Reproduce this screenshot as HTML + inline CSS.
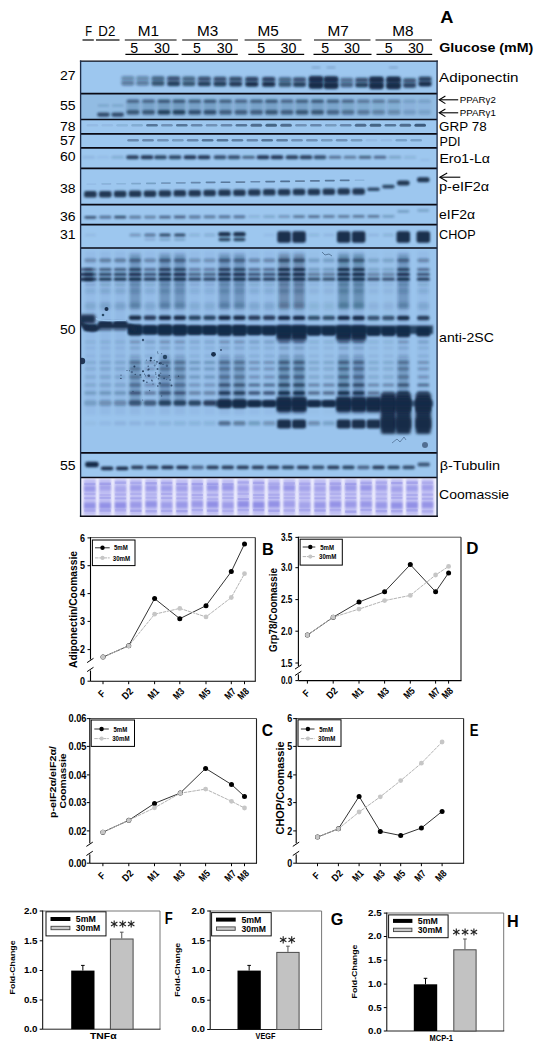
<!DOCTYPE html>
<html><head><meta charset="utf-8"><title>Figure</title>
<style>
html,body{margin:0;padding:0;background:#fff;}
body{width:541px;height:1050px;overflow:hidden;font-family:"Liberation Sans", sans-serif;}
svg{display:block;font-family:"Liberation Sans", sans-serif;}
</style></head><body>
<svg width="541" height="1050" viewBox="0 0 541 1050">
<defs>
<filter id="b1" x="-30%" y="-100%" width="160%" height="300%"><feGaussianBlur stdDeviation="0.9"/></filter>
<filter id="b2" x="-30%" y="-100%" width="160%" height="300%"><feGaussianBlur stdDeviation="1.4"/></filter>
<filter id="b3" x="-30%" y="-50%" width="160%" height="200%"><feGaussianBlur stdDeviation="2.5"/></filter>
<filter id="b05" x="-30%" y="-100%" width="160%" height="300%"><feGaussianBlur stdDeviation="0.6"/></filter>
</defs>
<rect x="0" y="0" width="541" height="1050" fill="#ffffff"/>
<text x="85.3" y="35.8" font-size="14.2" font-weight="normal" text-anchor="start" fill="#000" textLength="6.8" lengthAdjust="spacingAndGlyphs" >F</text>
<text x="98.3" y="35.8" font-size="14.2" font-weight="normal" text-anchor="start" fill="#000" textLength="17" lengthAdjust="spacingAndGlyphs" >D2</text>
<text x="148.5" y="35.8" font-size="14.2" font-weight="normal" text-anchor="middle" fill="#000" textLength="21.3" lengthAdjust="spacingAndGlyphs" >M1</text>
<line x1="124.8" y1="40.0" x2="176.6" y2="40.0" stroke="#000" stroke-width="1.2" />
<text x="207.6" y="35.8" font-size="14.2" font-weight="normal" text-anchor="middle" fill="#000" textLength="21.3" lengthAdjust="spacingAndGlyphs" >M3</text>
<line x1="182.2" y1="40.0" x2="238" y2="40.0" stroke="#000" stroke-width="1.2" />
<text x="268.2" y="35.8" font-size="14.2" font-weight="normal" text-anchor="middle" fill="#000" textLength="21.3" lengthAdjust="spacingAndGlyphs" >M5</text>
<line x1="244.6" y1="40.0" x2="301.5" y2="40.0" stroke="#000" stroke-width="1.2" />
<text x="338.2" y="35.8" font-size="14.2" font-weight="normal" text-anchor="middle" fill="#000" textLength="21.3" lengthAdjust="spacingAndGlyphs" >M7</text>
<line x1="314" y1="40.0" x2="370.5" y2="40.0" stroke="#000" stroke-width="1.2" />
<text x="402.8" y="35.8" font-size="14.2" font-weight="normal" text-anchor="middle" fill="#000" textLength="21.3" lengthAdjust="spacingAndGlyphs" >M8</text>
<line x1="375.5" y1="40.0" x2="432" y2="40.0" stroke="#000" stroke-width="1.2" />
<line x1="82.5" y1="40.0" x2="93.8" y2="40.0" stroke="#000" stroke-width="1.2" />
<line x1="96" y1="40.0" x2="119.5" y2="40.0" stroke="#000" stroke-width="1.2" />
<text x="134.3" y="52.6" font-size="14.2" font-weight="normal" text-anchor="middle" fill="#000" >5</text>
<text x="162" y="52.6" font-size="14.2" font-weight="normal" text-anchor="middle" fill="#000" textLength="15.8" lengthAdjust="spacingAndGlyphs" >30</text>
<line x1="125.4" y1="54.3" x2="178.5" y2="54.3" stroke="#000" stroke-width="1.2" />
<text x="197" y="52.6" font-size="14.2" font-weight="normal" text-anchor="middle" fill="#000" >5</text>
<text x="224.7" y="52.6" font-size="14.2" font-weight="normal" text-anchor="middle" fill="#000" textLength="15.8" lengthAdjust="spacingAndGlyphs" >30</text>
<line x1="181.6" y1="54.3" x2="237.8" y2="54.3" stroke="#000" stroke-width="1.2" />
<text x="261.3" y="52.6" font-size="14.2" font-weight="normal" text-anchor="middle" fill="#000" >5</text>
<text x="288.5" y="52.6" font-size="14.2" font-weight="normal" text-anchor="middle" fill="#000" textLength="15.8" lengthAdjust="spacingAndGlyphs" >30</text>
<line x1="248.3" y1="54.3" x2="304.2" y2="54.3" stroke="#000" stroke-width="1.2" />
<text x="325.2" y="52.6" font-size="14.2" font-weight="normal" text-anchor="middle" fill="#000" >5</text>
<text x="352" y="52.6" font-size="14.2" font-weight="normal" text-anchor="middle" fill="#000" textLength="15.8" lengthAdjust="spacingAndGlyphs" >30</text>
<line x1="313.5" y1="54.3" x2="371.5" y2="54.3" stroke="#000" stroke-width="1.2" />
<text x="388.7" y="52.6" font-size="14.2" font-weight="normal" text-anchor="middle" fill="#000" >5</text>
<text x="415.8" y="52.6" font-size="14.2" font-weight="normal" text-anchor="middle" fill="#000" textLength="15.8" lengthAdjust="spacingAndGlyphs" >30</text>
<line x1="376.5" y1="54.3" x2="432.2" y2="54.3" stroke="#000" stroke-width="1.2" />
<text x="440.3" y="22.9" font-size="16.4" font-weight="bold" text-anchor="start" fill="#000" textLength="13.2" lengthAdjust="spacingAndGlyphs" >A</text>
<text x="439.3" y="51.8" font-size="13.2" font-weight="bold" text-anchor="start" fill="#000" textLength="94" lengthAdjust="spacingAndGlyphs" >Glucose (mM)</text>
<rect x="80.6" y="61" width="356.5" height="392" fill="#9dc7ef" />
<rect x="80.6" y="248" width="356.5" height="205" fill="#9ac4ed" />
<rect x="80.6" y="453" width="356.5" height="24.5" fill="#9dc7ef" />
<rect x="80.6" y="477.5" width="356.5" height="38.799999999999955" fill="#f1f1fe" />
<g clip-path="url(#blotclip)">
<clipPath id="blotclip"><rect x="80.6" y="61" width="356.5" height="456"/></clipPath>
<rect x="121.3" y="75.9" width="13.0" height="9.5" rx="2.2" fill="#142a48" fill-opacity="0.16" filter="url(#b2)"/>
<rect x="121.4" y="76.2" width="12.8" height="4.0" rx="2.0" fill="#142a48" fill-opacity="0.28" filter="url(#b1)"/>
<rect x="121.4" y="80.9" width="12.8" height="4.6" rx="2.2" fill="#142a48" fill-opacity="0.37" filter="url(#b1)"/>
<rect x="136.1" y="76.0" width="13.0" height="9.5" rx="2.2" fill="#142a48" fill-opacity="0.16" filter="url(#b2)"/>
<rect x="136.2" y="76.3" width="12.8" height="4.0" rx="2.0" fill="#142a48" fill-opacity="0.28" filter="url(#b1)"/>
<rect x="136.2" y="81.0" width="12.8" height="4.6" rx="2.2" fill="#142a48" fill-opacity="0.37" filter="url(#b1)"/>
<rect x="151.5" y="76.1" width="13.0" height="9.5" rx="2.2" fill="#142a48" fill-opacity="0.27" filter="url(#b2)"/>
<rect x="151.6" y="76.4" width="12.8" height="4.0" rx="2.0" fill="#142a48" fill-opacity="0.48" filter="url(#b1)"/>
<rect x="151.6" y="81.1" width="12.8" height="4.6" rx="2.2" fill="#142a48" fill-opacity="0.63" filter="url(#b1)"/>
<rect x="167.1" y="76.2" width="13.0" height="9.5" rx="2.2" fill="#142a48" fill-opacity="0.34" filter="url(#b2)"/>
<rect x="167.2" y="76.6" width="12.8" height="4.0" rx="2.0" fill="#142a48" fill-opacity="0.60" filter="url(#b1)"/>
<rect x="167.2" y="81.3" width="12.8" height="4.6" rx="2.2" fill="#142a48" fill-opacity="0.79" filter="url(#b1)"/>
<rect x="182.3" y="76.3" width="13.0" height="9.5" rx="2.2" fill="#142a48" fill-opacity="0.27" filter="url(#b2)"/>
<rect x="182.4" y="76.7" width="12.8" height="4.0" rx="2.0" fill="#142a48" fill-opacity="0.48" filter="url(#b1)"/>
<rect x="182.4" y="81.4" width="12.8" height="4.6" rx="2.2" fill="#142a48" fill-opacity="0.63" filter="url(#b1)"/>
<rect x="197.8" y="76.4" width="13.0" height="9.5" rx="2.2" fill="#142a48" fill-opacity="0.34" filter="url(#b2)"/>
<rect x="197.9" y="76.8" width="12.8" height="4.0" rx="2.0" fill="#142a48" fill-opacity="0.60" filter="url(#b1)"/>
<rect x="197.9" y="81.5" width="12.8" height="4.6" rx="2.2" fill="#142a48" fill-opacity="0.79" filter="url(#b1)"/>
<rect x="213.5" y="76.6" width="13.0" height="9.5" rx="2.2" fill="#142a48" fill-opacity="0.34" filter="url(#b2)"/>
<rect x="213.6" y="76.9" width="12.8" height="4.0" rx="2.0" fill="#142a48" fill-opacity="0.60" filter="url(#b1)"/>
<rect x="213.6" y="81.6" width="12.8" height="4.6" rx="2.2" fill="#142a48" fill-opacity="0.79" filter="url(#b1)"/>
<rect x="229.1" y="76.7" width="13.0" height="9.5" rx="2.2" fill="#142a48" fill-opacity="0.36" filter="url(#b2)"/>
<rect x="229.2" y="77.0" width="12.8" height="4.0" rx="2.0" fill="#142a48" fill-opacity="0.64" filter="url(#b1)"/>
<rect x="229.2" y="81.7" width="12.8" height="4.6" rx="2.2" fill="#142a48" fill-opacity="0.84" filter="url(#b1)"/>
<rect x="245.3" y="76.8" width="13.0" height="9.5" rx="2.2" fill="#142a48" fill-opacity="0.41" filter="url(#b2)"/>
<rect x="245.4" y="77.2" width="12.8" height="4.0" rx="2.0" fill="#142a48" fill-opacity="0.72" filter="url(#b1)"/>
<rect x="245.4" y="81.9" width="12.8" height="4.6" rx="2.2" fill="#142a48" fill-opacity="0.95" filter="url(#b1)"/>
<rect x="262.2" y="76.9" width="13.0" height="9.5" rx="2.2" fill="#142a48" fill-opacity="0.41" filter="url(#b2)"/>
<rect x="262.3" y="77.3" width="12.8" height="4.0" rx="2.0" fill="#142a48" fill-opacity="0.72" filter="url(#b1)"/>
<rect x="262.3" y="82.0" width="12.8" height="4.6" rx="2.2" fill="#142a48" fill-opacity="0.95" filter="url(#b1)"/>
<rect x="278.5" y="77.1" width="13.0" height="9.5" rx="2.2" fill="#142a48" fill-opacity="0.27" filter="url(#b2)"/>
<rect x="278.6" y="77.4" width="12.8" height="4.0" rx="2.0" fill="#142a48" fill-opacity="0.48" filter="url(#b1)"/>
<rect x="278.6" y="82.1" width="12.8" height="4.6" rx="2.2" fill="#142a48" fill-opacity="0.63" filter="url(#b1)"/>
<rect x="293.0" y="77.2" width="13.0" height="9.5" rx="2.2" fill="#142a48" fill-opacity="0.34" filter="url(#b2)"/>
<rect x="293.1" y="77.5" width="12.8" height="4.0" rx="2.0" fill="#142a48" fill-opacity="0.60" filter="url(#b1)"/>
<rect x="293.1" y="82.2" width="12.8" height="4.6" rx="2.2" fill="#142a48" fill-opacity="0.79" filter="url(#b1)"/>
<rect x="308.9" y="76.2" width="14.2" height="12.0" rx="2.2" fill="#142a48" fill-opacity="0.70" filter="url(#b2)"/>
<rect x="309.0" y="76.5" width="14.0" height="5.4" rx="2.2" fill="#142a48" fill-opacity="0.90" filter="url(#b1)"/>
<rect x="309.0" y="82.2" width="14.0" height="6.0" rx="2.2" fill="#142a48" fill-opacity="0.97" filter="url(#b1)"/>
<rect x="311.5" y="66.7" width="9.0" height="1.6" rx="0.8" fill="#142a48" fill-opacity="0.25" filter="url(#b1)"/>
<rect x="323.9" y="76.4" width="14.2" height="12.0" rx="2.2" fill="#142a48" fill-opacity="0.70" filter="url(#b2)"/>
<rect x="324.0" y="76.7" width="14.0" height="5.4" rx="2.2" fill="#142a48" fill-opacity="0.90" filter="url(#b1)"/>
<rect x="324.0" y="82.4" width="14.0" height="6.0" rx="2.2" fill="#142a48" fill-opacity="0.97" filter="url(#b1)"/>
<rect x="326.5" y="66.7" width="9.0" height="1.6" rx="0.8" fill="#142a48" fill-opacity="0.25" filter="url(#b1)"/>
<rect x="340.2" y="77.5" width="13.0" height="9.5" rx="2.2" fill="#142a48" fill-opacity="0.23" filter="url(#b2)"/>
<rect x="340.3" y="77.9" width="12.8" height="4.0" rx="2.0" fill="#142a48" fill-opacity="0.40" filter="url(#b1)"/>
<rect x="340.3" y="82.6" width="12.8" height="4.6" rx="2.2" fill="#142a48" fill-opacity="0.53" filter="url(#b1)"/>
<rect x="355.2" y="77.6" width="13.0" height="9.5" rx="2.2" fill="#142a48" fill-opacity="0.34" filter="url(#b2)"/>
<rect x="355.3" y="78.0" width="12.8" height="4.0" rx="2.0" fill="#142a48" fill-opacity="0.60" filter="url(#b1)"/>
<rect x="355.3" y="82.7" width="12.8" height="4.6" rx="2.2" fill="#142a48" fill-opacity="0.79" filter="url(#b1)"/>
<rect x="369.3" y="76.7" width="14.2" height="12.0" rx="2.2" fill="#142a48" fill-opacity="0.70" filter="url(#b2)"/>
<rect x="369.4" y="77.0" width="14.0" height="5.4" rx="2.2" fill="#142a48" fill-opacity="0.90" filter="url(#b1)"/>
<rect x="369.4" y="82.7" width="14.0" height="6.0" rx="2.2" fill="#142a48" fill-opacity="0.97" filter="url(#b1)"/>
<rect x="386.4" y="76.8" width="14.2" height="12.0" rx="2.2" fill="#142a48" fill-opacity="0.70" filter="url(#b2)"/>
<rect x="386.5" y="77.1" width="14.0" height="5.4" rx="2.2" fill="#142a48" fill-opacity="0.90" filter="url(#b1)"/>
<rect x="386.5" y="82.8" width="14.0" height="6.0" rx="2.2" fill="#142a48" fill-opacity="0.97" filter="url(#b1)"/>
<rect x="389.0" y="66.7" width="9.0" height="1.6" rx="0.8" fill="#142a48" fill-opacity="0.25" filter="url(#b1)"/>
<rect x="403.1" y="78.0" width="13.0" height="9.5" rx="2.2" fill="#142a48" fill-opacity="0.32" filter="url(#b2)"/>
<rect x="403.2" y="78.4" width="12.8" height="4.0" rx="2.0" fill="#142a48" fill-opacity="0.56" filter="url(#b1)"/>
<rect x="403.2" y="83.1" width="12.8" height="4.6" rx="2.2" fill="#142a48" fill-opacity="0.73" filter="url(#b1)"/>
<rect x="418.5" y="76.5" width="13.0" height="9.5" rx="2.2" fill="#142a48" fill-opacity="0.41" filter="url(#b2)"/>
<rect x="418.6" y="76.9" width="12.8" height="4.0" rx="2.0" fill="#142a48" fill-opacity="0.72" filter="url(#b1)"/>
<rect x="418.6" y="81.6" width="12.8" height="4.6" rx="2.2" fill="#142a48" fill-opacity="0.95" filter="url(#b1)"/>
<rect x="80.6" y="94" width="356.5" height="25.5" fill="#142a48" fill-opacity=".07"/>
<rect x="97.9" y="104.6" width="11.0" height="1.8" rx="0.9" fill="#142a48" fill-opacity="0.20" filter="url(#b1)"/>
<rect x="97.1" y="112.5" width="12.6" height="4.2" rx="2.1" fill="#142a48" fill-opacity="0.75" filter="url(#b1)"/>
<rect x="112.2" y="104.6" width="11.0" height="1.8" rx="0.9" fill="#142a48" fill-opacity="0.20" filter="url(#b1)"/>
<rect x="111.4" y="112.5" width="12.6" height="4.2" rx="2.1" fill="#142a48" fill-opacity="0.75" filter="url(#b1)"/>
<rect x="126.5" y="99.5" width="13.0" height="15.0" rx="2.2" fill="#142a48" fill-opacity="0.17" filter="url(#b2)"/>
<rect x="126.7" y="99.8" width="12.6" height="3.0" rx="1.5" fill="#142a48" fill-opacity="0.55" filter="url(#b1)"/>
<rect x="126.6" y="109.9" width="12.8" height="4.6" rx="2.2" fill="#142a48" fill-opacity="0.63" filter="url(#b1)"/>
<rect x="142.0" y="99.5" width="13.0" height="15.0" rx="2.2" fill="#142a48" fill-opacity="0.17" filter="url(#b2)"/>
<rect x="142.2" y="99.8" width="12.6" height="3.0" rx="1.5" fill="#142a48" fill-opacity="0.55" filter="url(#b1)"/>
<rect x="142.1" y="109.9" width="12.8" height="4.6" rx="2.2" fill="#142a48" fill-opacity="0.63" filter="url(#b1)"/>
<rect x="157.5" y="99.5" width="13.0" height="15.0" rx="2.2" fill="#142a48" fill-opacity="0.21" filter="url(#b2)"/>
<rect x="157.7" y="99.8" width="12.6" height="3.0" rx="1.5" fill="#142a48" fill-opacity="0.66" filter="url(#b1)"/>
<rect x="157.6" y="109.9" width="12.8" height="4.6" rx="2.2" fill="#142a48" fill-opacity="0.80" filter="url(#b1)"/>
<rect x="172.5" y="99.5" width="13.0" height="15.0" rx="2.2" fill="#142a48" fill-opacity="0.21" filter="url(#b2)"/>
<rect x="172.7" y="99.8" width="12.6" height="3.0" rx="1.5" fill="#142a48" fill-opacity="0.66" filter="url(#b1)"/>
<rect x="172.6" y="109.9" width="12.8" height="4.6" rx="2.2" fill="#142a48" fill-opacity="0.80" filter="url(#b1)"/>
<rect x="188.2" y="99.5" width="13.0" height="15.0" rx="2.2" fill="#142a48" fill-opacity="0.18" filter="url(#b2)"/>
<rect x="188.4" y="99.8" width="12.6" height="3.0" rx="1.5" fill="#142a48" fill-opacity="0.61" filter="url(#b1)"/>
<rect x="188.3" y="109.9" width="12.8" height="4.6" rx="2.2" fill="#142a48" fill-opacity="0.69" filter="url(#b1)"/>
<rect x="203.5" y="99.5" width="13.0" height="15.0" rx="2.2" fill="#142a48" fill-opacity="0.19" filter="url(#b2)"/>
<rect x="203.7" y="99.8" width="12.6" height="3.0" rx="1.5" fill="#142a48" fill-opacity="0.66" filter="url(#b1)"/>
<rect x="203.6" y="109.9" width="12.8" height="4.6" rx="2.2" fill="#142a48" fill-opacity="0.69" filter="url(#b1)"/>
<rect x="219.0" y="99.5" width="13.0" height="15.0" rx="2.2" fill="#142a48" fill-opacity="0.17" filter="url(#b2)"/>
<rect x="219.2" y="99.8" width="12.6" height="3.0" rx="1.5" fill="#142a48" fill-opacity="0.61" filter="url(#b1)"/>
<rect x="219.1" y="109.9" width="12.8" height="4.6" rx="2.2" fill="#142a48" fill-opacity="0.57" filter="url(#b1)"/>
<rect x="234.5" y="99.5" width="13.0" height="15.0" rx="2.2" fill="#142a48" fill-opacity="0.16" filter="url(#b2)"/>
<rect x="234.7" y="99.8" width="12.6" height="3.0" rx="1.5" fill="#142a48" fill-opacity="0.55" filter="url(#b1)"/>
<rect x="234.6" y="109.9" width="12.8" height="4.6" rx="2.2" fill="#142a48" fill-opacity="0.57" filter="url(#b1)"/>
<rect x="250.0" y="99.5" width="13.0" height="15.0" rx="2.2" fill="#142a48" fill-opacity="0.17" filter="url(#b2)"/>
<rect x="250.2" y="99.8" width="12.6" height="3.0" rx="1.5" fill="#142a48" fill-opacity="0.61" filter="url(#b1)"/>
<rect x="250.1" y="109.9" width="12.8" height="4.6" rx="2.2" fill="#142a48" fill-opacity="0.57" filter="url(#b1)"/>
<rect x="265.0" y="99.5" width="13.0" height="15.0" rx="2.2" fill="#142a48" fill-opacity="0.18" filter="url(#b2)"/>
<rect x="265.2" y="99.8" width="12.6" height="3.0" rx="1.5" fill="#142a48" fill-opacity="0.66" filter="url(#b1)"/>
<rect x="265.1" y="109.9" width="12.8" height="4.6" rx="2.2" fill="#142a48" fill-opacity="0.63" filter="url(#b1)"/>
<rect x="280.5" y="99.5" width="13.0" height="15.0" rx="2.2" fill="#142a48" fill-opacity="0.16" filter="url(#b2)"/>
<rect x="280.7" y="99.8" width="12.6" height="3.0" rx="1.5" fill="#142a48" fill-opacity="0.55" filter="url(#b1)"/>
<rect x="280.6" y="109.9" width="12.8" height="4.6" rx="2.2" fill="#142a48" fill-opacity="0.57" filter="url(#b1)"/>
<rect x="295.5" y="99.5" width="13.0" height="15.0" rx="2.2" fill="#142a48" fill-opacity="0.18" filter="url(#b2)"/>
<rect x="295.7" y="99.8" width="12.6" height="3.0" rx="1.5" fill="#142a48" fill-opacity="0.61" filter="url(#b1)"/>
<rect x="295.6" y="109.9" width="12.8" height="4.6" rx="2.2" fill="#142a48" fill-opacity="0.63" filter="url(#b1)"/>
<rect x="311.0" y="99.5" width="13.0" height="15.0" rx="2.2" fill="#142a48" fill-opacity="0.18" filter="url(#b2)"/>
<rect x="311.2" y="99.8" width="12.6" height="3.0" rx="1.5" fill="#142a48" fill-opacity="0.66" filter="url(#b1)"/>
<rect x="311.1" y="109.9" width="12.8" height="4.6" rx="2.2" fill="#142a48" fill-opacity="0.63" filter="url(#b1)"/>
<rect x="326.5" y="99.5" width="13.0" height="15.0" rx="2.2" fill="#142a48" fill-opacity="0.16" filter="url(#b2)"/>
<rect x="326.7" y="99.8" width="12.6" height="3.0" rx="1.5" fill="#142a48" fill-opacity="0.61" filter="url(#b1)"/>
<rect x="326.6" y="109.9" width="12.8" height="4.6" rx="2.2" fill="#142a48" fill-opacity="0.52" filter="url(#b1)"/>
<rect x="341.5" y="99.5" width="13.0" height="15.0" rx="2.2" fill="#142a48" fill-opacity="0.14" filter="url(#b2)"/>
<rect x="341.7" y="99.8" width="12.6" height="3.0" rx="1.5" fill="#142a48" fill-opacity="0.55" filter="url(#b1)"/>
<rect x="341.6" y="109.9" width="12.8" height="4.6" rx="2.2" fill="#142a48" fill-opacity="0.46" filter="url(#b1)"/>
<rect x="357.0" y="99.5" width="13.0" height="15.0" rx="2.2" fill="#142a48" fill-opacity="0.12" filter="url(#b2)"/>
<rect x="357.2" y="99.8" width="12.6" height="3.0" rx="1.5" fill="#142a48" fill-opacity="0.44" filter="url(#b1)"/>
<rect x="357.1" y="109.9" width="12.8" height="4.6" rx="2.2" fill="#142a48" fill-opacity="0.40" filter="url(#b1)"/>
<rect x="372.0" y="99.5" width="13.0" height="15.0" rx="2.2" fill="#142a48" fill-opacity="0.11" filter="url(#b2)"/>
<rect x="372.2" y="99.8" width="12.6" height="3.0" rx="1.5" fill="#142a48" fill-opacity="0.44" filter="url(#b1)"/>
<rect x="372.1" y="109.9" width="12.8" height="4.6" rx="2.2" fill="#142a48" fill-opacity="0.34" filter="url(#b1)"/>
<rect x="387.5" y="99.5" width="13.0" height="15.0" rx="2.2" fill="#142a48" fill-opacity="0.10" filter="url(#b2)"/>
<rect x="387.7" y="99.8" width="12.6" height="3.0" rx="1.5" fill="#142a48" fill-opacity="0.39" filter="url(#b1)"/>
<rect x="387.6" y="109.9" width="12.8" height="4.6" rx="2.2" fill="#142a48" fill-opacity="0.29" filter="url(#b1)"/>
<rect x="403.0" y="99.5" width="13.0" height="15.0" rx="2.2" fill="#142a48" fill-opacity="0.05" filter="url(#b2)"/>
<rect x="403.2" y="99.8" width="12.6" height="3.0" rx="1.5" fill="#142a48" fill-opacity="0.17" filter="url(#b1)"/>
<rect x="403.1" y="109.9" width="12.8" height="4.6" rx="2.2" fill="#142a48" fill-opacity="0.17" filter="url(#b1)"/>
<rect x="418.0" y="99.5" width="13.0" height="15.0" rx="2.2" fill="#142a48" fill-opacity="0.04" filter="url(#b2)"/>
<rect x="418.2" y="99.8" width="12.6" height="3.0" rx="1.5" fill="#142a48" fill-opacity="0.17" filter="url(#b1)"/>
<rect x="418.1" y="109.9" width="12.8" height="4.6" rx="2.2" fill="#142a48" fill-opacity="0.14" filter="url(#b1)"/>
<rect x="86.6" y="124.1" width="11.6" height="2.4" rx="1.2" fill="#142a48" fill-opacity="0.06" filter="url(#b05)"/>
<rect x="101.5" y="124.1" width="11.6" height="2.4" rx="1.2" fill="#142a48" fill-opacity="0.06" filter="url(#b05)"/>
<rect x="116.4" y="124.1" width="11.6" height="2.4" rx="1.2" fill="#142a48" fill-opacity="0.11" filter="url(#b05)"/>
<rect x="131.3" y="124.1" width="11.6" height="2.4" rx="1.2" fill="#142a48" fill-opacity="0.17" filter="url(#b05)"/>
<rect x="146.2" y="124.1" width="11.6" height="2.4" rx="1.2" fill="#142a48" fill-opacity="0.52" filter="url(#b05)"/>
<rect x="161.1" y="124.1" width="11.6" height="2.4" rx="1.2" fill="#142a48" fill-opacity="0.34" filter="url(#b05)"/>
<rect x="176.0" y="124.1" width="11.6" height="2.4" rx="1.2" fill="#142a48" fill-opacity="0.52" filter="url(#b05)"/>
<rect x="190.9" y="124.1" width="11.6" height="2.4" rx="1.2" fill="#142a48" fill-opacity="0.40" filter="url(#b05)"/>
<rect x="205.8" y="124.1" width="11.6" height="2.4" rx="1.2" fill="#142a48" fill-opacity="0.34" filter="url(#b05)"/>
<rect x="220.7" y="124.1" width="11.6" height="2.4" rx="1.2" fill="#142a48" fill-opacity="0.40" filter="url(#b05)"/>
<rect x="235.6" y="124.1" width="11.6" height="2.4" rx="1.2" fill="#142a48" fill-opacity="0.52" filter="url(#b05)"/>
<rect x="250.5" y="123.8" width="11.6" height="3.0" rx="1.5" fill="#142a48" fill-opacity="0.57" filter="url(#b05)"/>
<rect x="265.4" y="123.8" width="11.6" height="3.0" rx="1.5" fill="#142a48" fill-opacity="0.63" filter="url(#b05)"/>
<rect x="280.3" y="123.8" width="11.6" height="3.0" rx="1.5" fill="#142a48" fill-opacity="0.57" filter="url(#b05)"/>
<rect x="295.2" y="124.1" width="11.6" height="2.4" rx="1.2" fill="#142a48" fill-opacity="0.34" filter="url(#b05)"/>
<rect x="310.1" y="124.1" width="11.6" height="2.4" rx="1.2" fill="#142a48" fill-opacity="0.40" filter="url(#b05)"/>
<rect x="325.0" y="124.1" width="11.6" height="2.4" rx="1.2" fill="#142a48" fill-opacity="0.29" filter="url(#b05)"/>
<rect x="339.9" y="124.1" width="11.6" height="2.4" rx="1.2" fill="#142a48" fill-opacity="0.40" filter="url(#b05)"/>
<rect x="354.8" y="123.8" width="11.6" height="3.0" rx="1.5" fill="#142a48" fill-opacity="0.57" filter="url(#b05)"/>
<rect x="369.7" y="123.8" width="11.6" height="3.0" rx="1.5" fill="#142a48" fill-opacity="0.63" filter="url(#b05)"/>
<rect x="384.6" y="124.1" width="11.6" height="2.4" rx="1.2" fill="#142a48" fill-opacity="0.52" filter="url(#b05)"/>
<rect x="399.5" y="123.8" width="11.6" height="3.0" rx="1.5" fill="#142a48" fill-opacity="0.57" filter="url(#b05)"/>
<rect x="414.4" y="123.8" width="11.6" height="3.0" rx="1.5" fill="#142a48" fill-opacity="0.69" filter="url(#b05)"/>
<rect x="127.3" y="139.1" width="11.6" height="2.4" rx="1.2" fill="#142a48" fill-opacity="0.40" filter="url(#b05)"/>
<rect x="142.2" y="139.1" width="11.6" height="2.4" rx="1.2" fill="#142a48" fill-opacity="0.40" filter="url(#b05)"/>
<rect x="157.1" y="139.1" width="11.6" height="2.4" rx="1.2" fill="#142a48" fill-opacity="0.34" filter="url(#b05)"/>
<rect x="172.0" y="139.1" width="11.6" height="2.4" rx="1.2" fill="#142a48" fill-opacity="0.29" filter="url(#b05)"/>
<rect x="186.9" y="139.1" width="11.6" height="2.4" rx="1.2" fill="#142a48" fill-opacity="0.40" filter="url(#b05)"/>
<rect x="201.8" y="139.1" width="11.6" height="2.4" rx="1.2" fill="#142a48" fill-opacity="0.52" filter="url(#b05)"/>
<rect x="216.7" y="139.1" width="11.6" height="2.4" rx="1.2" fill="#142a48" fill-opacity="0.52" filter="url(#b05)"/>
<rect x="231.6" y="139.1" width="11.6" height="2.4" rx="1.2" fill="#142a48" fill-opacity="0.46" filter="url(#b05)"/>
<rect x="246.5" y="139.1" width="11.6" height="2.4" rx="1.2" fill="#142a48" fill-opacity="0.40" filter="url(#b05)"/>
<rect x="261.4" y="139.1" width="11.6" height="2.4" rx="1.2" fill="#142a48" fill-opacity="0.52" filter="url(#b05)"/>
<rect x="276.3" y="139.1" width="11.6" height="2.4" rx="1.2" fill="#142a48" fill-opacity="0.46" filter="url(#b05)"/>
<rect x="291.2" y="139.1" width="11.6" height="2.4" rx="1.2" fill="#142a48" fill-opacity="0.34" filter="url(#b05)"/>
<rect x="306.1" y="139.1" width="11.6" height="2.4" rx="1.2" fill="#142a48" fill-opacity="0.34" filter="url(#b05)"/>
<rect x="321.0" y="139.1" width="11.6" height="2.4" rx="1.2" fill="#142a48" fill-opacity="0.29" filter="url(#b05)"/>
<rect x="335.9" y="139.1" width="11.6" height="2.4" rx="1.2" fill="#142a48" fill-opacity="0.34" filter="url(#b05)"/>
<rect x="350.8" y="139.1" width="11.6" height="2.4" rx="1.2" fill="#142a48" fill-opacity="0.29" filter="url(#b05)"/>
<rect x="365.7" y="139.1" width="11.6" height="2.4" rx="1.2" fill="#142a48" fill-opacity="0.06" filter="url(#b05)"/>
<rect x="380.6" y="139.1" width="11.6" height="2.4" rx="1.2" fill="#142a48" fill-opacity="0.06" filter="url(#b05)"/>
<rect x="395.5" y="139.1" width="11.6" height="2.4" rx="1.2" fill="#142a48" fill-opacity="0.23" filter="url(#b05)"/>
<rect x="410.4" y="139.1" width="11.6" height="2.4" rx="1.2" fill="#142a48" fill-opacity="0.23" filter="url(#b05)"/>
<rect x="82.4" y="155.8" width="12.6" height="3.0" rx="1.5" fill="#142a48" fill-opacity="0.08" filter="url(#b1)"/>
<rect x="96.7" y="155.8" width="12.6" height="3.0" rx="1.5" fill="#142a48" fill-opacity="0.05" filter="url(#b1)"/>
<rect x="111.4" y="155.8" width="12.6" height="3.0" rx="1.5" fill="#142a48" fill-opacity="0.16" filter="url(#b1)"/>
<rect x="126.2" y="155.3" width="12.6" height="4.0" rx="2.0" fill="#142a48" fill-opacity="0.84" filter="url(#b1)"/>
<rect x="140.7" y="155.3" width="12.6" height="4.0" rx="2.0" fill="#142a48" fill-opacity="0.89" filter="url(#b1)"/>
<rect x="154.2" y="155.3" width="12.6" height="4.0" rx="2.0" fill="#142a48" fill-opacity="0.79" filter="url(#b1)"/>
<rect x="168.7" y="155.3" width="12.6" height="4.0" rx="2.0" fill="#142a48" fill-opacity="0.79" filter="url(#b1)"/>
<rect x="183.7" y="155.3" width="12.6" height="4.0" rx="2.0" fill="#142a48" fill-opacity="0.89" filter="url(#b1)"/>
<rect x="197.7" y="155.3" width="12.6" height="4.0" rx="2.0" fill="#142a48" fill-opacity="0.89" filter="url(#b1)"/>
<rect x="213.7" y="155.3" width="12.6" height="4.0" rx="2.0" fill="#142a48" fill-opacity="0.73" filter="url(#b1)"/>
<rect x="227.7" y="155.3" width="12.6" height="4.0" rx="2.0" fill="#142a48" fill-opacity="0.73" filter="url(#b1)"/>
<rect x="242.2" y="155.8" width="12.6" height="3.0" rx="1.5" fill="#142a48" fill-opacity="0.63" filter="url(#b1)"/>
<rect x="256.7" y="155.3" width="12.6" height="4.0" rx="2.0" fill="#142a48" fill-opacity="0.89" filter="url(#b1)"/>
<rect x="270.7" y="155.3" width="12.6" height="4.0" rx="2.0" fill="#142a48" fill-opacity="0.89" filter="url(#b1)"/>
<rect x="285.7" y="155.3" width="12.6" height="4.0" rx="2.0" fill="#142a48" fill-opacity="0.84" filter="url(#b1)"/>
<rect x="299.7" y="155.3" width="12.6" height="4.0" rx="2.0" fill="#142a48" fill-opacity="0.84" filter="url(#b1)"/>
<rect x="313.7" y="155.3" width="12.6" height="4.0" rx="2.0" fill="#142a48" fill-opacity="0.73" filter="url(#b1)"/>
<rect x="328.7" y="155.8" width="12.6" height="3.0" rx="1.5" fill="#142a48" fill-opacity="0.53" filter="url(#b1)"/>
<rect x="343.7" y="155.8" width="12.6" height="3.0" rx="1.5" fill="#142a48" fill-opacity="0.47" filter="url(#b1)"/>
<rect x="358.7" y="155.8" width="12.6" height="3.0" rx="1.5" fill="#142a48" fill-opacity="0.63" filter="url(#b1)"/>
<rect x="373.7" y="155.8" width="12.6" height="3.0" rx="1.5" fill="#142a48" fill-opacity="0.58" filter="url(#b1)"/>
<rect x="388.7" y="155.8" width="12.6" height="3.0" rx="1.5" fill="#142a48" fill-opacity="0.21" filter="url(#b1)"/>
<rect x="403.7" y="155.8" width="12.6" height="3.0" rx="1.5" fill="#142a48" fill-opacity="0.11" filter="url(#b1)"/>
<rect x="420.0" y="159.2" width="10.0" height="1.5" rx="0.8" fill="#142a48" fill-opacity="0.08" filter="url(#b1)"/>
<rect x="84.1" y="191.1" width="12.6" height="6.5" rx="2.2" fill="#142a48" fill-opacity="0.92" filter="url(#b1)"/>
<rect x="86.4" y="183.3" width="10.0" height="1.7" rx="0.8" fill="#142a48" fill-opacity="0.05" filter="url(#b05)"/>
<rect x="99.0" y="190.9" width="12.6" height="6.5" rx="2.2" fill="#142a48" fill-opacity="0.92" filter="url(#b1)"/>
<rect x="101.3" y="183.1" width="10.0" height="1.7" rx="0.8" fill="#142a48" fill-opacity="0.12" filter="url(#b05)"/>
<rect x="113.9" y="190.7" width="12.6" height="6.5" rx="2.2" fill="#142a48" fill-opacity="0.92" filter="url(#b1)"/>
<rect x="116.2" y="182.9" width="10.0" height="1.7" rx="0.8" fill="#142a48" fill-opacity="0.12" filter="url(#b05)"/>
<rect x="128.8" y="190.6" width="12.6" height="6.5" rx="2.2" fill="#142a48" fill-opacity="0.92" filter="url(#b1)"/>
<rect x="131.1" y="182.7" width="10.0" height="1.7" rx="0.8" fill="#142a48" fill-opacity="0.20" filter="url(#b05)"/>
<rect x="143.7" y="190.4" width="12.6" height="6.5" rx="2.2" fill="#142a48" fill-opacity="0.92" filter="url(#b1)"/>
<rect x="146.0" y="182.5" width="10.0" height="1.7" rx="0.8" fill="#142a48" fill-opacity="0.25" filter="url(#b05)"/>
<rect x="158.6" y="190.2" width="12.6" height="6.5" rx="2.2" fill="#142a48" fill-opacity="0.92" filter="url(#b1)"/>
<rect x="160.9" y="182.2" width="10.0" height="1.7" rx="0.8" fill="#142a48" fill-opacity="0.30" filter="url(#b05)"/>
<rect x="173.5" y="190.1" width="12.6" height="6.5" rx="2.2" fill="#142a48" fill-opacity="0.92" filter="url(#b1)"/>
<rect x="175.8" y="182.0" width="10.0" height="1.7" rx="0.8" fill="#142a48" fill-opacity="0.30" filter="url(#b05)"/>
<rect x="188.4" y="189.9" width="12.6" height="6.5" rx="2.2" fill="#142a48" fill-opacity="0.92" filter="url(#b1)"/>
<rect x="190.7" y="181.8" width="10.0" height="1.7" rx="0.8" fill="#142a48" fill-opacity="0.40" filter="url(#b05)"/>
<rect x="203.3" y="189.8" width="12.6" height="6.5" rx="2.2" fill="#142a48" fill-opacity="0.92" filter="url(#b1)"/>
<rect x="205.6" y="181.6" width="10.0" height="1.7" rx="0.8" fill="#142a48" fill-opacity="0.45" filter="url(#b05)"/>
<rect x="218.2" y="189.6" width="12.6" height="6.5" rx="2.2" fill="#142a48" fill-opacity="0.92" filter="url(#b1)"/>
<rect x="220.5" y="181.4" width="10.0" height="1.7" rx="0.8" fill="#142a48" fill-opacity="0.50" filter="url(#b05)"/>
<rect x="233.1" y="189.5" width="12.6" height="6.5" rx="2.2" fill="#142a48" fill-opacity="0.92" filter="url(#b1)"/>
<rect x="235.4" y="181.2" width="10.0" height="1.7" rx="0.8" fill="#142a48" fill-opacity="0.45" filter="url(#b05)"/>
<rect x="248.0" y="189.3" width="12.6" height="6.5" rx="2.2" fill="#142a48" fill-opacity="0.92" filter="url(#b1)"/>
<rect x="250.3" y="180.9" width="10.0" height="1.7" rx="0.8" fill="#142a48" fill-opacity="0.40" filter="url(#b05)"/>
<rect x="262.9" y="189.1" width="12.6" height="6.5" rx="2.2" fill="#142a48" fill-opacity="0.92" filter="url(#b1)"/>
<rect x="265.2" y="180.7" width="10.0" height="1.7" rx="0.8" fill="#142a48" fill-opacity="0.50" filter="url(#b05)"/>
<rect x="277.8" y="189.0" width="12.6" height="6.5" rx="2.2" fill="#142a48" fill-opacity="0.92" filter="url(#b1)"/>
<rect x="280.1" y="180.5" width="10.0" height="1.7" rx="0.8" fill="#142a48" fill-opacity="0.55" filter="url(#b05)"/>
<rect x="292.7" y="188.8" width="12.6" height="6.5" rx="2.2" fill="#142a48" fill-opacity="0.92" filter="url(#b1)"/>
<rect x="295.0" y="180.3" width="10.0" height="1.7" rx="0.8" fill="#142a48" fill-opacity="0.45" filter="url(#b05)"/>
<rect x="307.6" y="188.7" width="12.6" height="6.5" rx="2.2" fill="#142a48" fill-opacity="0.92" filter="url(#b1)"/>
<rect x="309.9" y="180.0" width="10.0" height="1.7" rx="0.8" fill="#142a48" fill-opacity="0.50" filter="url(#b05)"/>
<rect x="322.5" y="188.5" width="12.6" height="6.5" rx="2.2" fill="#142a48" fill-opacity="0.92" filter="url(#b1)"/>
<rect x="324.8" y="179.8" width="10.0" height="1.7" rx="0.8" fill="#142a48" fill-opacity="0.50" filter="url(#b05)"/>
<rect x="337.4" y="188.3" width="12.6" height="6.5" rx="2.2" fill="#142a48" fill-opacity="0.92" filter="url(#b1)"/>
<rect x="339.7" y="179.6" width="10.0" height="1.7" rx="0.8" fill="#142a48" fill-opacity="0.50" filter="url(#b05)"/>
<rect x="352.3" y="188.2" width="12.6" height="6.5" rx="2.2" fill="#142a48" fill-opacity="0.92" filter="url(#b1)"/>
<rect x="354.6" y="179.4" width="10.0" height="1.7" rx="0.8" fill="#142a48" fill-opacity="0.12" filter="url(#b05)"/>
<rect x="367.2" y="187.4" width="12.6" height="3.6" rx="1.8" fill="#142a48" fill-opacity="0.80" filter="url(#b1)"/>
<rect x="382.1" y="184.8" width="12.6" height="3.6" rx="1.8" fill="#142a48" fill-opacity="0.80" filter="url(#b1)"/>
<rect x="397.0" y="180.5" width="12.6" height="5.0" rx="2.2" fill="#142a48" fill-opacity="0.92" filter="url(#b1)"/>
<rect x="417.0" y="177.3" width="12.6" height="5.0" rx="2.2" fill="#142a48" fill-opacity="0.92" filter="url(#b1)"/>
<rect x="84.4" y="215.9" width="12.0" height="2.8" rx="1.4" fill="#142a48" fill-opacity="0.70" filter="url(#b1)"/>
<rect x="99.3" y="215.8" width="12.0" height="2.8" rx="1.4" fill="#142a48" fill-opacity="0.55" filter="url(#b1)"/>
<rect x="114.2" y="215.8" width="12.0" height="2.8" rx="1.4" fill="#142a48" fill-opacity="0.75" filter="url(#b1)"/>
<rect x="129.1" y="215.8" width="12.0" height="2.8" rx="1.4" fill="#142a48" fill-opacity="0.50" filter="url(#b1)"/>
<rect x="144.0" y="215.7" width="12.0" height="2.8" rx="1.4" fill="#142a48" fill-opacity="0.45" filter="url(#b1)"/>
<rect x="158.9" y="215.7" width="12.0" height="2.8" rx="1.4" fill="#142a48" fill-opacity="0.60" filter="url(#b1)"/>
<rect x="173.8" y="215.6" width="12.0" height="2.8" rx="1.4" fill="#142a48" fill-opacity="0.60" filter="url(#b1)"/>
<rect x="188.7" y="215.6" width="12.0" height="2.8" rx="1.4" fill="#142a48" fill-opacity="0.50" filter="url(#b1)"/>
<rect x="203.6" y="215.5" width="12.0" height="2.8" rx="1.4" fill="#142a48" fill-opacity="0.50" filter="url(#b1)"/>
<rect x="218.5" y="215.5" width="12.0" height="2.8" rx="1.4" fill="#142a48" fill-opacity="0.55" filter="url(#b1)"/>
<rect x="233.4" y="215.4" width="12.0" height="2.8" rx="1.4" fill="#142a48" fill-opacity="0.55" filter="url(#b1)"/>
<rect x="248.3" y="215.3" width="12.0" height="2.8" rx="1.4" fill="#142a48" fill-opacity="0.12" filter="url(#b1)"/>
<rect x="263.2" y="215.3" width="12.0" height="2.8" rx="1.4" fill="#142a48" fill-opacity="0.20" filter="url(#b1)"/>
<rect x="278.1" y="215.2" width="12.0" height="2.8" rx="1.4" fill="#142a48" fill-opacity="0.30" filter="url(#b1)"/>
<rect x="293.0" y="215.2" width="12.0" height="2.8" rx="1.4" fill="#142a48" fill-opacity="0.50" filter="url(#b1)"/>
<rect x="307.9" y="215.2" width="12.0" height="2.8" rx="1.4" fill="#142a48" fill-opacity="0.55" filter="url(#b1)"/>
<rect x="322.8" y="215.1" width="12.0" height="2.8" rx="1.4" fill="#142a48" fill-opacity="0.45" filter="url(#b1)"/>
<rect x="337.7" y="215.1" width="12.0" height="2.8" rx="1.4" fill="#142a48" fill-opacity="0.45" filter="url(#b1)"/>
<rect x="352.6" y="215.0" width="12.0" height="2.8" rx="1.4" fill="#142a48" fill-opacity="0.50" filter="url(#b1)"/>
<rect x="367.5" y="215.0" width="12.0" height="2.8" rx="1.4" fill="#142a48" fill-opacity="0.50" filter="url(#b1)"/>
<rect x="382.4" y="214.9" width="12.0" height="2.8" rx="1.4" fill="#142a48" fill-opacity="0.25" filter="url(#b1)"/>
<rect x="397.3" y="209.9" width="12.0" height="2.8" rx="1.4" fill="#142a48" fill-opacity="0.25" filter="url(#b1)"/>
<rect x="417.3" y="209.1" width="12.0" height="2.8" rx="1.4" fill="#142a48" fill-opacity="0.20" filter="url(#b1)"/>
<rect x="84.7" y="233.4" width="11.5" height="3.2" rx="1.6" fill="#142a48" fill-opacity="0.06" filter="url(#b1)"/>
<rect x="129.4" y="233.4" width="11.5" height="3.2" rx="1.6" fill="#142a48" fill-opacity="0.30" filter="url(#b1)"/>
<rect x="144.2" y="233.4" width="11.5" height="3.2" rx="1.6" fill="#142a48" fill-opacity="0.50" filter="url(#b1)"/>
<rect x="144.5" y="238.4" width="11.0" height="2.2" rx="1.1" fill="#142a48" fill-opacity="0.17" filter="url(#b1)"/>
<rect x="159.2" y="233.4" width="11.5" height="3.2" rx="1.6" fill="#142a48" fill-opacity="0.80" filter="url(#b1)"/>
<rect x="159.4" y="238.4" width="11.0" height="2.2" rx="1.1" fill="#142a48" fill-opacity="0.28" filter="url(#b1)"/>
<rect x="174.1" y="233.4" width="11.5" height="3.2" rx="1.6" fill="#142a48" fill-opacity="0.80" filter="url(#b1)"/>
<rect x="174.3" y="238.4" width="11.0" height="2.2" rx="1.1" fill="#142a48" fill-opacity="0.28" filter="url(#b1)"/>
<rect x="188.9" y="233.4" width="11.5" height="3.2" rx="1.6" fill="#142a48" fill-opacity="0.12" filter="url(#b1)"/>
<rect x="203.9" y="233.4" width="11.5" height="3.2" rx="1.6" fill="#142a48" fill-opacity="0.15" filter="url(#b1)"/>
<rect x="218.2" y="231.9" width="12.5" height="4.6" rx="2.2" fill="#142a48" fill-opacity="0.95" filter="url(#b1)"/>
<rect x="218.5" y="237.7" width="12.0" height="3.6" rx="1.8" fill="#142a48" fill-opacity="0.80" filter="url(#b1)"/>
<rect x="233.2" y="231.9" width="12.5" height="4.6" rx="2.2" fill="#142a48" fill-opacity="0.95" filter="url(#b1)"/>
<rect x="233.4" y="237.7" width="12.0" height="3.6" rx="1.8" fill="#142a48" fill-opacity="0.80" filter="url(#b1)"/>
<rect x="263.5" y="233.4" width="11.5" height="3.2" rx="1.6" fill="#142a48" fill-opacity="0.05" filter="url(#b1)"/>
<rect x="277.3" y="231.2" width="13.6" height="11.5" rx="2.2" fill="#142a48" fill-opacity="0.97" filter="url(#b1)"/>
<rect x="292.2" y="231.2" width="13.6" height="11.5" rx="2.2" fill="#142a48" fill-opacity="0.97" filter="url(#b1)"/>
<rect x="308.1" y="233.4" width="11.5" height="3.2" rx="1.6" fill="#142a48" fill-opacity="0.10" filter="url(#b1)"/>
<rect x="323.1" y="233.4" width="11.5" height="3.2" rx="1.6" fill="#142a48" fill-opacity="0.08" filter="url(#b1)"/>
<rect x="336.9" y="231.2" width="13.6" height="11.5" rx="2.2" fill="#142a48" fill-opacity="0.97" filter="url(#b1)"/>
<rect x="351.8" y="231.2" width="13.6" height="11.5" rx="2.2" fill="#142a48" fill-opacity="0.97" filter="url(#b1)"/>
<rect x="367.8" y="233.4" width="11.5" height="3.2" rx="1.6" fill="#142a48" fill-opacity="0.08" filter="url(#b1)"/>
<rect x="382.6" y="233.4" width="11.5" height="3.2" rx="1.6" fill="#142a48" fill-opacity="0.12" filter="url(#b1)"/>
<rect x="396.5" y="231.2" width="13.6" height="11.5" rx="2.2" fill="#142a48" fill-opacity="0.97" filter="url(#b1)"/>
<rect x="416.5" y="231.2" width="13.6" height="11.5" rx="2.2" fill="#142a48" fill-opacity="0.97" filter="url(#b1)"/>
<rect x="84.8" y="251" width="11.2" height="164" fill="#142a48" fill-opacity="0.04" filter="url(#b2)"/>
<rect x="84.4" y="258.6" width="12.0" height="3.6" rx="1.8" fill="#142a48" fill-opacity="0.34" filter="url(#b1)"/>
<rect x="84.1" y="267.9" width="12.6" height="3.0" rx="1.5" fill="#142a48" fill-opacity="0.46" filter="url(#b1)"/>
<rect x="83.9" y="272.7" width="13.0" height="3.3" rx="1.6" fill="#142a48" fill-opacity="0.64" filter="url(#b1)"/>
<rect x="83.9" y="277.5" width="13.0" height="3.3" rx="1.6" fill="#142a48" fill-opacity="0.85" filter="url(#b1)"/>
<rect x="84.9" y="283.5" width="11.0" height="2.0" rx="1.0" fill="#142a48" fill-opacity="0.17" filter="url(#b1)"/>
<rect x="84.9" y="288.5" width="11.0" height="5.0" rx="2.2" fill="#142a48" fill-opacity="0.11" filter="url(#b2)"/>
<rect x="84.9" y="302.5" width="11.0" height="7.0" rx="2.2" fill="#142a48" fill-opacity="0.14" filter="url(#b2)"/>
<rect x="79.4" y="314.5" width="16.0" height="9.0" rx="2.2" fill="#142a48" fill-opacity="0.95" filter="url(#b2)"/>
<rect x="83.4" y="324.0" width="14.0" height="7.0" rx="2.2" fill="#142a48" fill-opacity="0.97" filter="url(#b1)"/>
<rect x="84.9" y="340.8" width="11.0" height="2.4" rx="1.2" fill="#142a48" fill-opacity="0.09" filter="url(#b1)"/>
<rect x="84.9" y="347.0" width="11.0" height="2.0" rx="1.0" fill="#142a48" fill-opacity="0.05" filter="url(#b1)"/>
<rect x="84.9" y="355.0" width="11.0" height="2.0" rx="1.0" fill="#142a48" fill-opacity="0.05" filter="url(#b1)"/>
<rect x="84.6" y="361.0" width="11.6" height="3.0" rx="1.5" fill="#142a48" fill-opacity="0.12" filter="url(#b1)"/>
<rect x="84.6" y="367.4" width="11.6" height="2.8" rx="1.4" fill="#142a48" fill-opacity="0.12" filter="url(#b1)"/>
<rect x="84.6" y="375.6" width="11.6" height="2.8" rx="1.4" fill="#142a48" fill-opacity="0.12" filter="url(#b1)"/>
<rect x="84.4" y="383.5" width="12.0" height="3.0" rx="1.5" fill="#142a48" fill-opacity="0.14" filter="url(#b1)"/>
<rect x="84.2" y="391.3" width="12.4" height="3.4" rx="1.7" fill="#142a48" fill-opacity="0.21" filter="url(#b1)"/>
<rect x="84.0" y="400.2" width="12.8" height="5.5" rx="2.2" fill="#142a48" fill-opacity="0.20" filter="url(#b1)"/>
<rect x="84.2" y="421.0" width="12.4" height="4.6" rx="2.2" fill="#142a48" fill-opacity="0.03" filter="url(#b1)"/>
<rect x="99.7" y="251" width="11.2" height="164" fill="#142a48" fill-opacity="0.05" filter="url(#b2)"/>
<rect x="99.3" y="258.6" width="12.0" height="3.6" rx="1.8" fill="#142a48" fill-opacity="0.43" filter="url(#b1)"/>
<rect x="99.0" y="267.9" width="12.6" height="3.0" rx="1.5" fill="#142a48" fill-opacity="0.62" filter="url(#b1)"/>
<rect x="98.8" y="272.7" width="13.0" height="3.3" rx="1.6" fill="#142a48" fill-opacity="0.78" filter="url(#b1)"/>
<rect x="98.8" y="277.5" width="13.0" height="3.3" rx="1.6" fill="#142a48" fill-opacity="0.92" filter="url(#b1)"/>
<rect x="99.8" y="283.5" width="11.0" height="2.0" rx="1.0" fill="#142a48" fill-opacity="0.21" filter="url(#b1)"/>
<rect x="99.8" y="288.5" width="11.0" height="5.0" rx="2.2" fill="#142a48" fill-opacity="0.14" filter="url(#b2)"/>
<rect x="99.8" y="302.5" width="11.0" height="7.0" rx="2.2" fill="#142a48" fill-opacity="0.17" filter="url(#b2)"/>
<rect x="98.1" y="321.1" width="14.5" height="5.5" rx="2.2" fill="#142a48" fill-opacity="0.97" filter="url(#b1)"/>
<rect x="98.3" y="328.0" width="14.0" height="3.0" rx="1.5" fill="#142a48" fill-opacity="0.45" filter="url(#b1)"/>
<rect x="99.8" y="340.8" width="11.0" height="2.4" rx="1.2" fill="#142a48" fill-opacity="0.11" filter="url(#b1)"/>
<rect x="99.8" y="347.0" width="11.0" height="2.0" rx="1.0" fill="#142a48" fill-opacity="0.06" filter="url(#b1)"/>
<rect x="99.8" y="355.0" width="11.0" height="2.0" rx="1.0" fill="#142a48" fill-opacity="0.07" filter="url(#b1)"/>
<rect x="99.5" y="361.0" width="11.6" height="3.0" rx="1.5" fill="#142a48" fill-opacity="0.16" filter="url(#b1)"/>
<rect x="99.5" y="367.4" width="11.6" height="2.8" rx="1.4" fill="#142a48" fill-opacity="0.16" filter="url(#b1)"/>
<rect x="99.5" y="375.6" width="11.6" height="2.8" rx="1.4" fill="#142a48" fill-opacity="0.16" filter="url(#b1)"/>
<rect x="99.3" y="383.5" width="12.0" height="3.0" rx="1.5" fill="#142a48" fill-opacity="0.17" filter="url(#b1)"/>
<rect x="99.1" y="391.3" width="12.4" height="3.4" rx="1.7" fill="#142a48" fill-opacity="0.25" filter="url(#b1)"/>
<rect x="98.9" y="400.2" width="12.8" height="5.5" rx="2.2" fill="#142a48" fill-opacity="0.30" filter="url(#b1)"/>
<rect x="99.1" y="421.0" width="12.4" height="4.6" rx="2.2" fill="#142a48" fill-opacity="0.05" filter="url(#b1)"/>
<rect x="114.6" y="251" width="11.2" height="164" fill="#142a48" fill-opacity="0.05" filter="url(#b2)"/>
<rect x="114.2" y="258.6" width="12.0" height="3.6" rx="1.8" fill="#142a48" fill-opacity="0.43" filter="url(#b1)"/>
<rect x="113.9" y="267.9" width="12.6" height="3.0" rx="1.5" fill="#142a48" fill-opacity="0.62" filter="url(#b1)"/>
<rect x="113.7" y="272.7" width="13.0" height="3.3" rx="1.6" fill="#142a48" fill-opacity="0.78" filter="url(#b1)"/>
<rect x="113.7" y="277.5" width="13.0" height="3.3" rx="1.6" fill="#142a48" fill-opacity="0.92" filter="url(#b1)"/>
<rect x="114.7" y="283.5" width="11.0" height="2.0" rx="1.0" fill="#142a48" fill-opacity="0.21" filter="url(#b1)"/>
<rect x="114.7" y="288.5" width="11.0" height="5.0" rx="2.2" fill="#142a48" fill-opacity="0.14" filter="url(#b2)"/>
<rect x="114.7" y="302.5" width="11.0" height="7.0" rx="2.2" fill="#142a48" fill-opacity="0.17" filter="url(#b2)"/>
<rect x="113.0" y="321.1" width="14.5" height="5.5" rx="2.2" fill="#142a48" fill-opacity="0.97" filter="url(#b1)"/>
<rect x="113.2" y="328.0" width="14.0" height="3.0" rx="1.5" fill="#142a48" fill-opacity="0.45" filter="url(#b1)"/>
<rect x="114.7" y="340.8" width="11.0" height="2.4" rx="1.2" fill="#142a48" fill-opacity="0.11" filter="url(#b1)"/>
<rect x="114.7" y="347.0" width="11.0" height="2.0" rx="1.0" fill="#142a48" fill-opacity="0.06" filter="url(#b1)"/>
<rect x="114.7" y="355.0" width="11.0" height="2.0" rx="1.0" fill="#142a48" fill-opacity="0.07" filter="url(#b1)"/>
<rect x="114.4" y="361.0" width="11.6" height="3.0" rx="1.5" fill="#142a48" fill-opacity="0.16" filter="url(#b1)"/>
<rect x="114.4" y="367.4" width="11.6" height="2.8" rx="1.4" fill="#142a48" fill-opacity="0.16" filter="url(#b1)"/>
<rect x="114.4" y="375.6" width="11.6" height="2.8" rx="1.4" fill="#142a48" fill-opacity="0.16" filter="url(#b1)"/>
<rect x="114.2" y="383.5" width="12.0" height="3.0" rx="1.5" fill="#142a48" fill-opacity="0.17" filter="url(#b1)"/>
<rect x="114.0" y="391.3" width="12.4" height="3.4" rx="1.7" fill="#142a48" fill-opacity="0.25" filter="url(#b1)"/>
<rect x="113.8" y="400.2" width="12.8" height="5.5" rx="2.2" fill="#142a48" fill-opacity="0.35" filter="url(#b1)"/>
<rect x="114.0" y="421.0" width="12.4" height="4.6" rx="2.2" fill="#142a48" fill-opacity="0.08" filter="url(#b1)"/>
<rect x="129.5" y="251" width="11.2" height="164" fill="#142a48" fill-opacity="0.06" filter="url(#b2)"/>
<rect x="129.5" y="254" width="11.2" height="54" fill="#142a48" fill-opacity="0.22" filter="url(#b2)"/>
<rect x="129.5" y="358" width="11.2" height="46" fill="#142a48" fill-opacity="0.20" filter="url(#b2)"/>
<rect x="129.1" y="258.6" width="12.0" height="3.6" rx="1.8" fill="#142a48" fill-opacity="0.53" filter="url(#b1)"/>
<rect x="128.8" y="267.9" width="12.6" height="3.0" rx="1.5" fill="#142a48" fill-opacity="0.79" filter="url(#b1)"/>
<rect x="128.6" y="272.7" width="13.0" height="3.3" rx="1.6" fill="#142a48" fill-opacity="0.93" filter="url(#b1)"/>
<rect x="128.6" y="277.5" width="13.0" height="3.3" rx="1.6" fill="#142a48" fill-opacity="0.98" filter="url(#b1)"/>
<rect x="129.6" y="283.5" width="11.0" height="2.0" rx="1.0" fill="#142a48" fill-opacity="0.26" filter="url(#b1)"/>
<rect x="129.6" y="288.5" width="11.0" height="5.0" rx="2.2" fill="#142a48" fill-opacity="0.17" filter="url(#b2)"/>
<rect x="129.6" y="302.5" width="11.0" height="7.0" rx="2.2" fill="#142a48" fill-opacity="0.21" filter="url(#b2)"/>
<rect x="128.8" y="315.5" width="12.6" height="4.4" rx="2.2" fill="#142a48" fill-opacity="0.98" filter="url(#b1)"/>
<rect x="128.2" y="324.4" width="13.8" height="11.0" rx="2.2" fill="#142a48" fill-opacity="0.98" filter="url(#b1)"/>
<rect x="129.6" y="340.8" width="11.0" height="2.4" rx="1.2" fill="#142a48" fill-opacity="0.30" filter="url(#b1)"/>
<rect x="129.6" y="347.0" width="11.0" height="2.0" rx="1.0" fill="#142a48" fill-opacity="0.17" filter="url(#b1)"/>
<rect x="129.6" y="355.0" width="11.0" height="2.0" rx="1.0" fill="#142a48" fill-opacity="0.19" filter="url(#b1)"/>
<rect x="129.3" y="361.0" width="11.6" height="3.0" rx="1.5" fill="#142a48" fill-opacity="0.42" filter="url(#b1)"/>
<rect x="129.3" y="367.4" width="11.6" height="2.8" rx="1.4" fill="#142a48" fill-opacity="0.42" filter="url(#b1)"/>
<rect x="129.3" y="375.6" width="11.6" height="2.8" rx="1.4" fill="#142a48" fill-opacity="0.42" filter="url(#b1)"/>
<rect x="129.1" y="383.5" width="12.0" height="3.0" rx="1.5" fill="#142a48" fill-opacity="0.47" filter="url(#b1)"/>
<rect x="128.9" y="391.3" width="12.4" height="3.4" rx="1.7" fill="#142a48" fill-opacity="0.60" filter="url(#b1)"/>
<rect x="128.7" y="400.2" width="12.8" height="5.5" rx="2.2" fill="#142a48" fill-opacity="0.65" filter="url(#b1)"/>
<rect x="128.9" y="421.0" width="12.4" height="4.6" rx="2.2" fill="#142a48" fill-opacity="0.08" filter="url(#b1)"/>
<rect x="144.4" y="251" width="11.2" height="164" fill="#142a48" fill-opacity="0.04" filter="url(#b2)"/>
<rect x="144.0" y="258.6" width="12.0" height="3.6" rx="1.8" fill="#142a48" fill-opacity="0.37" filter="url(#b1)"/>
<rect x="143.7" y="267.9" width="12.6" height="3.0" rx="1.5" fill="#142a48" fill-opacity="0.51" filter="url(#b1)"/>
<rect x="143.5" y="272.7" width="13.0" height="3.3" rx="1.6" fill="#142a48" fill-opacity="0.69" filter="url(#b1)"/>
<rect x="143.5" y="277.5" width="13.0" height="3.3" rx="1.6" fill="#142a48" fill-opacity="0.87" filter="url(#b1)"/>
<rect x="144.5" y="283.5" width="11.0" height="2.0" rx="1.0" fill="#142a48" fill-opacity="0.18" filter="url(#b1)"/>
<rect x="144.5" y="288.5" width="11.0" height="5.0" rx="2.2" fill="#142a48" fill-opacity="0.12" filter="url(#b2)"/>
<rect x="144.5" y="302.5" width="11.0" height="7.0" rx="2.2" fill="#142a48" fill-opacity="0.15" filter="url(#b2)"/>
<rect x="143.7" y="315.5" width="12.6" height="4.4" rx="2.2" fill="#142a48" fill-opacity="0.87" filter="url(#b1)"/>
<rect x="143.1" y="325.4" width="13.8" height="9.2" rx="2.2" fill="#142a48" fill-opacity="0.98" filter="url(#b1)"/>
<rect x="144.5" y="340.8" width="11.0" height="2.4" rx="1.2" fill="#142a48" fill-opacity="0.21" filter="url(#b1)"/>
<rect x="144.5" y="347.0" width="11.0" height="2.0" rx="1.0" fill="#142a48" fill-opacity="0.12" filter="url(#b1)"/>
<rect x="144.5" y="355.0" width="11.0" height="2.0" rx="1.0" fill="#142a48" fill-opacity="0.13" filter="url(#b1)"/>
<rect x="144.2" y="361.0" width="11.6" height="3.0" rx="1.5" fill="#142a48" fill-opacity="0.30" filter="url(#b1)"/>
<rect x="144.2" y="367.4" width="11.6" height="2.8" rx="1.4" fill="#142a48" fill-opacity="0.30" filter="url(#b1)"/>
<rect x="144.2" y="375.6" width="11.6" height="2.8" rx="1.4" fill="#142a48" fill-opacity="0.30" filter="url(#b1)"/>
<rect x="144.0" y="383.5" width="12.0" height="3.0" rx="1.5" fill="#142a48" fill-opacity="0.33" filter="url(#b1)"/>
<rect x="143.8" y="391.3" width="12.4" height="3.4" rx="1.7" fill="#142a48" fill-opacity="0.44" filter="url(#b1)"/>
<rect x="143.6" y="400.2" width="12.8" height="5.5" rx="2.2" fill="#142a48" fill-opacity="0.65" filter="url(#b1)"/>
<rect x="143.8" y="421.0" width="12.4" height="4.6" rx="2.2" fill="#142a48" fill-opacity="0.08" filter="url(#b1)"/>
<rect x="159.3" y="251" width="11.2" height="164" fill="#142a48" fill-opacity="0.06" filter="url(#b2)"/>
<rect x="159.3" y="254" width="11.2" height="54" fill="#142a48" fill-opacity="0.23" filter="url(#b2)"/>
<rect x="159.3" y="358" width="11.2" height="46" fill="#142a48" fill-opacity="0.22" filter="url(#b2)"/>
<rect x="158.9" y="258.6" width="12.0" height="3.6" rx="1.8" fill="#142a48" fill-opacity="0.56" filter="url(#b1)"/>
<rect x="158.6" y="267.9" width="12.6" height="3.0" rx="1.5" fill="#142a48" fill-opacity="0.84" filter="url(#b1)"/>
<rect x="158.4" y="272.7" width="13.0" height="3.3" rx="1.6" fill="#142a48" fill-opacity="0.97" filter="url(#b1)"/>
<rect x="158.4" y="277.5" width="13.0" height="3.3" rx="1.6" fill="#142a48" fill-opacity="1.00" filter="url(#b1)"/>
<rect x="159.4" y="283.5" width="11.0" height="2.0" rx="1.0" fill="#142a48" fill-opacity="0.27" filter="url(#b1)"/>
<rect x="159.4" y="288.5" width="11.0" height="5.0" rx="2.2" fill="#142a48" fill-opacity="0.18" filter="url(#b2)"/>
<rect x="159.4" y="302.5" width="11.0" height="7.0" rx="2.2" fill="#142a48" fill-opacity="0.23" filter="url(#b2)"/>
<rect x="158.6" y="315.5" width="12.6" height="4.4" rx="2.2" fill="#142a48" fill-opacity="1.00" filter="url(#b1)"/>
<rect x="158.0" y="324.6" width="13.8" height="11.0" rx="2.2" fill="#142a48" fill-opacity="0.98" filter="url(#b1)"/>
<rect x="159.4" y="340.8" width="11.0" height="2.4" rx="1.2" fill="#142a48" fill-opacity="0.32" filter="url(#b1)"/>
<rect x="159.4" y="347.0" width="11.0" height="2.0" rx="1.0" fill="#142a48" fill-opacity="0.18" filter="url(#b1)"/>
<rect x="159.4" y="355.0" width="11.0" height="2.0" rx="1.0" fill="#142a48" fill-opacity="0.20" filter="url(#b1)"/>
<rect x="159.1" y="361.0" width="11.6" height="3.0" rx="1.5" fill="#142a48" fill-opacity="0.45" filter="url(#b1)"/>
<rect x="159.1" y="367.4" width="11.6" height="2.8" rx="1.4" fill="#142a48" fill-opacity="0.45" filter="url(#b1)"/>
<rect x="159.1" y="375.6" width="11.6" height="2.8" rx="1.4" fill="#142a48" fill-opacity="0.45" filter="url(#b1)"/>
<rect x="158.9" y="383.5" width="12.0" height="3.0" rx="1.5" fill="#142a48" fill-opacity="0.50" filter="url(#b1)"/>
<rect x="158.7" y="391.3" width="12.4" height="3.4" rx="1.7" fill="#142a48" fill-opacity="0.64" filter="url(#b1)"/>
<rect x="158.5" y="400.2" width="12.8" height="5.5" rx="2.2" fill="#142a48" fill-opacity="0.80" filter="url(#b1)"/>
<rect x="158.7" y="421.0" width="12.4" height="4.6" rx="2.2" fill="#142a48" fill-opacity="0.10" filter="url(#b1)"/>
<rect x="174.2" y="251" width="11.2" height="164" fill="#142a48" fill-opacity="0.06" filter="url(#b2)"/>
<rect x="174.2" y="254" width="11.2" height="54" fill="#142a48" fill-opacity="0.22" filter="url(#b2)"/>
<rect x="174.2" y="358" width="11.2" height="46" fill="#142a48" fill-opacity="0.20" filter="url(#b2)"/>
<rect x="173.8" y="258.6" width="12.0" height="3.6" rx="1.8" fill="#142a48" fill-opacity="0.53" filter="url(#b1)"/>
<rect x="173.5" y="267.9" width="12.6" height="3.0" rx="1.5" fill="#142a48" fill-opacity="0.79" filter="url(#b1)"/>
<rect x="173.3" y="272.7" width="13.0" height="3.3" rx="1.6" fill="#142a48" fill-opacity="0.93" filter="url(#b1)"/>
<rect x="173.3" y="277.5" width="13.0" height="3.3" rx="1.6" fill="#142a48" fill-opacity="0.98" filter="url(#b1)"/>
<rect x="174.3" y="283.5" width="11.0" height="2.0" rx="1.0" fill="#142a48" fill-opacity="0.26" filter="url(#b1)"/>
<rect x="174.3" y="288.5" width="11.0" height="5.0" rx="2.2" fill="#142a48" fill-opacity="0.17" filter="url(#b2)"/>
<rect x="174.3" y="302.5" width="11.0" height="7.0" rx="2.2" fill="#142a48" fill-opacity="0.21" filter="url(#b2)"/>
<rect x="173.5" y="315.5" width="12.6" height="4.4" rx="2.2" fill="#142a48" fill-opacity="0.98" filter="url(#b1)"/>
<rect x="172.9" y="324.7" width="13.8" height="11.0" rx="2.2" fill="#142a48" fill-opacity="0.98" filter="url(#b1)"/>
<rect x="174.3" y="340.8" width="11.0" height="2.4" rx="1.2" fill="#142a48" fill-opacity="0.30" filter="url(#b1)"/>
<rect x="174.3" y="347.0" width="11.0" height="2.0" rx="1.0" fill="#142a48" fill-opacity="0.17" filter="url(#b1)"/>
<rect x="174.3" y="355.0" width="11.0" height="2.0" rx="1.0" fill="#142a48" fill-opacity="0.19" filter="url(#b1)"/>
<rect x="174.0" y="361.0" width="11.6" height="3.0" rx="1.5" fill="#142a48" fill-opacity="0.42" filter="url(#b1)"/>
<rect x="174.0" y="367.4" width="11.6" height="2.8" rx="1.4" fill="#142a48" fill-opacity="0.42" filter="url(#b1)"/>
<rect x="174.0" y="375.6" width="11.6" height="2.8" rx="1.4" fill="#142a48" fill-opacity="0.42" filter="url(#b1)"/>
<rect x="173.8" y="383.5" width="12.0" height="3.0" rx="1.5" fill="#142a48" fill-opacity="0.47" filter="url(#b1)"/>
<rect x="173.6" y="391.3" width="12.4" height="3.4" rx="1.7" fill="#142a48" fill-opacity="0.60" filter="url(#b1)"/>
<rect x="173.4" y="400.2" width="12.8" height="5.5" rx="2.2" fill="#142a48" fill-opacity="0.80" filter="url(#b1)"/>
<rect x="173.6" y="421.0" width="12.4" height="4.6" rx="2.2" fill="#142a48" fill-opacity="0.10" filter="url(#b1)"/>
<rect x="189.1" y="251" width="11.2" height="164" fill="#142a48" fill-opacity="0.04" filter="url(#b2)"/>
<rect x="188.7" y="258.6" width="12.0" height="3.6" rx="1.8" fill="#142a48" fill-opacity="0.31" filter="url(#b1)"/>
<rect x="188.4" y="267.9" width="12.6" height="3.0" rx="1.5" fill="#142a48" fill-opacity="0.40" filter="url(#b1)"/>
<rect x="188.2" y="272.7" width="13.0" height="3.3" rx="1.6" fill="#142a48" fill-opacity="0.59" filter="url(#b1)"/>
<rect x="188.2" y="277.5" width="13.0" height="3.3" rx="1.6" fill="#142a48" fill-opacity="0.82" filter="url(#b1)"/>
<rect x="189.2" y="283.5" width="11.0" height="2.0" rx="1.0" fill="#142a48" fill-opacity="0.15" filter="url(#b1)"/>
<rect x="189.2" y="288.5" width="11.0" height="5.0" rx="2.2" fill="#142a48" fill-opacity="0.10" filter="url(#b2)"/>
<rect x="189.2" y="302.5" width="11.0" height="7.0" rx="2.2" fill="#142a48" fill-opacity="0.12" filter="url(#b2)"/>
<rect x="188.4" y="315.5" width="12.6" height="4.4" rx="2.2" fill="#142a48" fill-opacity="0.82" filter="url(#b1)"/>
<rect x="187.8" y="325.7" width="13.8" height="9.2" rx="2.2" fill="#142a48" fill-opacity="0.98" filter="url(#b1)"/>
<rect x="189.2" y="340.8" width="11.0" height="2.4" rx="1.2" fill="#142a48" fill-opacity="0.17" filter="url(#b1)"/>
<rect x="189.2" y="347.0" width="11.0" height="2.0" rx="1.0" fill="#142a48" fill-opacity="0.10" filter="url(#b1)"/>
<rect x="189.2" y="355.0" width="11.0" height="2.0" rx="1.0" fill="#142a48" fill-opacity="0.11" filter="url(#b1)"/>
<rect x="188.9" y="361.0" width="11.6" height="3.0" rx="1.5" fill="#142a48" fill-opacity="0.25" filter="url(#b1)"/>
<rect x="188.9" y="367.4" width="11.6" height="2.8" rx="1.4" fill="#142a48" fill-opacity="0.25" filter="url(#b1)"/>
<rect x="188.9" y="375.6" width="11.6" height="2.8" rx="1.4" fill="#142a48" fill-opacity="0.25" filter="url(#b1)"/>
<rect x="188.7" y="383.5" width="12.0" height="3.0" rx="1.5" fill="#142a48" fill-opacity="0.28" filter="url(#b1)"/>
<rect x="188.5" y="391.3" width="12.4" height="3.4" rx="1.7" fill="#142a48" fill-opacity="0.38" filter="url(#b1)"/>
<rect x="188.3" y="400.2" width="12.8" height="5.5" rx="2.2" fill="#142a48" fill-opacity="0.80" filter="url(#b1)"/>
<rect x="188.5" y="421.0" width="12.4" height="4.6" rx="2.2" fill="#142a48" fill-opacity="0.10" filter="url(#b1)"/>
<rect x="204.0" y="251" width="11.2" height="164" fill="#142a48" fill-opacity="0.04" filter="url(#b2)"/>
<rect x="203.6" y="258.6" width="12.0" height="3.6" rx="1.8" fill="#142a48" fill-opacity="0.31" filter="url(#b1)"/>
<rect x="203.3" y="267.9" width="12.6" height="3.0" rx="1.5" fill="#142a48" fill-opacity="0.40" filter="url(#b1)"/>
<rect x="203.1" y="272.7" width="13.0" height="3.3" rx="1.6" fill="#142a48" fill-opacity="0.59" filter="url(#b1)"/>
<rect x="203.1" y="277.5" width="13.0" height="3.3" rx="1.6" fill="#142a48" fill-opacity="0.82" filter="url(#b1)"/>
<rect x="204.1" y="283.5" width="11.0" height="2.0" rx="1.0" fill="#142a48" fill-opacity="0.15" filter="url(#b1)"/>
<rect x="204.1" y="288.5" width="11.0" height="5.0" rx="2.2" fill="#142a48" fill-opacity="0.10" filter="url(#b2)"/>
<rect x="204.1" y="302.5" width="11.0" height="7.0" rx="2.2" fill="#142a48" fill-opacity="0.12" filter="url(#b2)"/>
<rect x="203.3" y="315.6" width="12.6" height="4.4" rx="2.2" fill="#142a48" fill-opacity="0.82" filter="url(#b1)"/>
<rect x="202.7" y="325.8" width="13.8" height="9.2" rx="2.2" fill="#142a48" fill-opacity="0.98" filter="url(#b1)"/>
<rect x="204.1" y="340.8" width="11.0" height="2.4" rx="1.2" fill="#142a48" fill-opacity="0.17" filter="url(#b1)"/>
<rect x="204.1" y="347.0" width="11.0" height="2.0" rx="1.0" fill="#142a48" fill-opacity="0.10" filter="url(#b1)"/>
<rect x="204.1" y="355.0" width="11.0" height="2.0" rx="1.0" fill="#142a48" fill-opacity="0.11" filter="url(#b1)"/>
<rect x="203.8" y="361.0" width="11.6" height="3.0" rx="1.5" fill="#142a48" fill-opacity="0.25" filter="url(#b1)"/>
<rect x="203.8" y="367.4" width="11.6" height="2.8" rx="1.4" fill="#142a48" fill-opacity="0.25" filter="url(#b1)"/>
<rect x="203.8" y="375.6" width="11.6" height="2.8" rx="1.4" fill="#142a48" fill-opacity="0.25" filter="url(#b1)"/>
<rect x="203.6" y="383.5" width="12.0" height="3.0" rx="1.5" fill="#142a48" fill-opacity="0.28" filter="url(#b1)"/>
<rect x="203.4" y="391.3" width="12.4" height="3.4" rx="1.7" fill="#142a48" fill-opacity="0.38" filter="url(#b1)"/>
<rect x="203.2" y="400.2" width="12.8" height="5.5" rx="2.2" fill="#142a48" fill-opacity="0.85" filter="url(#b1)"/>
<rect x="203.4" y="421.0" width="12.4" height="4.6" rx="2.2" fill="#142a48" fill-opacity="0.10" filter="url(#b1)"/>
<rect x="218.9" y="251" width="11.2" height="164" fill="#142a48" fill-opacity="0.06" filter="url(#b2)"/>
<rect x="218.9" y="254" width="11.2" height="54" fill="#142a48" fill-opacity="0.23" filter="url(#b2)"/>
<rect x="218.9" y="358" width="11.2" height="46" fill="#142a48" fill-opacity="0.22" filter="url(#b2)"/>
<rect x="218.5" y="258.6" width="12.0" height="3.6" rx="1.8" fill="#142a48" fill-opacity="0.56" filter="url(#b1)"/>
<rect x="218.2" y="267.9" width="12.6" height="3.0" rx="1.5" fill="#142a48" fill-opacity="0.84" filter="url(#b1)"/>
<rect x="218.0" y="272.7" width="13.0" height="3.3" rx="1.6" fill="#142a48" fill-opacity="0.97" filter="url(#b1)"/>
<rect x="218.0" y="277.5" width="13.0" height="3.3" rx="1.6" fill="#142a48" fill-opacity="1.00" filter="url(#b1)"/>
<rect x="219.0" y="283.5" width="11.0" height="2.0" rx="1.0" fill="#142a48" fill-opacity="0.27" filter="url(#b1)"/>
<rect x="219.0" y="288.5" width="11.0" height="5.0" rx="2.2" fill="#142a48" fill-opacity="0.18" filter="url(#b2)"/>
<rect x="219.0" y="302.5" width="11.0" height="7.0" rx="2.2" fill="#142a48" fill-opacity="0.23" filter="url(#b2)"/>
<rect x="218.2" y="315.6" width="12.6" height="4.4" rx="2.2" fill="#142a48" fill-opacity="1.00" filter="url(#b1)"/>
<rect x="217.6" y="325.0" width="13.8" height="11.0" rx="2.2" fill="#142a48" fill-opacity="0.98" filter="url(#b1)"/>
<rect x="219.0" y="340.8" width="11.0" height="2.4" rx="1.2" fill="#142a48" fill-opacity="0.32" filter="url(#b1)"/>
<rect x="219.0" y="347.0" width="11.0" height="2.0" rx="1.0" fill="#142a48" fill-opacity="0.18" filter="url(#b1)"/>
<rect x="219.0" y="355.0" width="11.0" height="2.0" rx="1.0" fill="#142a48" fill-opacity="0.20" filter="url(#b1)"/>
<rect x="218.7" y="361.0" width="11.6" height="3.0" rx="1.5" fill="#142a48" fill-opacity="0.45" filter="url(#b1)"/>
<rect x="218.7" y="367.4" width="11.6" height="2.8" rx="1.4" fill="#142a48" fill-opacity="0.45" filter="url(#b1)"/>
<rect x="218.7" y="375.6" width="11.6" height="2.8" rx="1.4" fill="#142a48" fill-opacity="0.45" filter="url(#b1)"/>
<rect x="218.5" y="383.5" width="12.0" height="3.0" rx="1.5" fill="#142a48" fill-opacity="0.70" filter="url(#b1)"/>
<rect x="218.3" y="391.3" width="12.4" height="3.4" rx="1.7" fill="#142a48" fill-opacity="0.89" filter="url(#b1)"/>
<rect x="217.6" y="399.3" width="13.8" height="9.0" rx="2.2" fill="#142a48" fill-opacity="0.97" filter="url(#b1)"/>
<rect x="218.3" y="421.0" width="12.4" height="4.6" rx="2.2" fill="#142a48" fill-opacity="0.55" filter="url(#b1)"/>
<rect x="233.8" y="251" width="11.2" height="164" fill="#142a48" fill-opacity="0.06" filter="url(#b2)"/>
<rect x="233.8" y="254" width="11.2" height="54" fill="#142a48" fill-opacity="0.22" filter="url(#b2)"/>
<rect x="233.8" y="358" width="11.2" height="46" fill="#142a48" fill-opacity="0.20" filter="url(#b2)"/>
<rect x="233.4" y="258.6" width="12.0" height="3.6" rx="1.8" fill="#142a48" fill-opacity="0.53" filter="url(#b1)"/>
<rect x="233.1" y="267.9" width="12.6" height="3.0" rx="1.5" fill="#142a48" fill-opacity="0.79" filter="url(#b1)"/>
<rect x="232.9" y="272.7" width="13.0" height="3.3" rx="1.6" fill="#142a48" fill-opacity="0.93" filter="url(#b1)"/>
<rect x="232.9" y="277.5" width="13.0" height="3.3" rx="1.6" fill="#142a48" fill-opacity="0.98" filter="url(#b1)"/>
<rect x="233.9" y="283.5" width="11.0" height="2.0" rx="1.0" fill="#142a48" fill-opacity="0.26" filter="url(#b1)"/>
<rect x="233.9" y="288.5" width="11.0" height="5.0" rx="2.2" fill="#142a48" fill-opacity="0.17" filter="url(#b2)"/>
<rect x="233.9" y="302.5" width="11.0" height="7.0" rx="2.2" fill="#142a48" fill-opacity="0.21" filter="url(#b2)"/>
<rect x="233.1" y="315.6" width="12.6" height="4.4" rx="2.2" fill="#142a48" fill-opacity="0.98" filter="url(#b1)"/>
<rect x="232.5" y="325.1" width="13.8" height="11.0" rx="2.2" fill="#142a48" fill-opacity="0.98" filter="url(#b1)"/>
<rect x="233.9" y="340.8" width="11.0" height="2.4" rx="1.2" fill="#142a48" fill-opacity="0.30" filter="url(#b1)"/>
<rect x="233.9" y="347.0" width="11.0" height="2.0" rx="1.0" fill="#142a48" fill-opacity="0.17" filter="url(#b1)"/>
<rect x="233.9" y="355.0" width="11.0" height="2.0" rx="1.0" fill="#142a48" fill-opacity="0.19" filter="url(#b1)"/>
<rect x="233.6" y="361.0" width="11.6" height="3.0" rx="1.5" fill="#142a48" fill-opacity="0.42" filter="url(#b1)"/>
<rect x="233.6" y="367.4" width="11.6" height="2.8" rx="1.4" fill="#142a48" fill-opacity="0.42" filter="url(#b1)"/>
<rect x="233.6" y="375.6" width="11.6" height="2.8" rx="1.4" fill="#142a48" fill-opacity="0.42" filter="url(#b1)"/>
<rect x="233.4" y="383.5" width="12.0" height="3.0" rx="1.5" fill="#142a48" fill-opacity="0.67" filter="url(#b1)"/>
<rect x="233.2" y="391.3" width="12.4" height="3.4" rx="1.7" fill="#142a48" fill-opacity="0.85" filter="url(#b1)"/>
<rect x="232.5" y="399.3" width="13.8" height="9.0" rx="2.2" fill="#142a48" fill-opacity="0.97" filter="url(#b1)"/>
<rect x="233.2" y="421.0" width="12.4" height="4.6" rx="2.2" fill="#142a48" fill-opacity="0.45" filter="url(#b1)"/>
<rect x="248.7" y="251" width="11.2" height="164" fill="#142a48" fill-opacity="0.04" filter="url(#b2)"/>
<rect x="248.3" y="258.6" width="12.0" height="3.6" rx="1.8" fill="#142a48" fill-opacity="0.37" filter="url(#b1)"/>
<rect x="248.0" y="267.9" width="12.6" height="3.0" rx="1.5" fill="#142a48" fill-opacity="0.51" filter="url(#b1)"/>
<rect x="247.8" y="272.7" width="13.0" height="3.3" rx="1.6" fill="#142a48" fill-opacity="0.69" filter="url(#b1)"/>
<rect x="247.8" y="277.5" width="13.0" height="3.3" rx="1.6" fill="#142a48" fill-opacity="0.87" filter="url(#b1)"/>
<rect x="248.8" y="283.5" width="11.0" height="2.0" rx="1.0" fill="#142a48" fill-opacity="0.18" filter="url(#b1)"/>
<rect x="248.8" y="288.5" width="11.0" height="5.0" rx="2.2" fill="#142a48" fill-opacity="0.12" filter="url(#b2)"/>
<rect x="248.8" y="302.5" width="11.0" height="7.0" rx="2.2" fill="#142a48" fill-opacity="0.15" filter="url(#b2)"/>
<rect x="248.0" y="315.6" width="12.6" height="4.4" rx="2.2" fill="#142a48" fill-opacity="0.87" filter="url(#b1)"/>
<rect x="247.4" y="326.1" width="13.8" height="9.2" rx="2.2" fill="#142a48" fill-opacity="0.98" filter="url(#b1)"/>
<rect x="248.8" y="340.8" width="11.0" height="2.4" rx="1.2" fill="#142a48" fill-opacity="0.21" filter="url(#b1)"/>
<rect x="248.8" y="347.0" width="11.0" height="2.0" rx="1.0" fill="#142a48" fill-opacity="0.12" filter="url(#b1)"/>
<rect x="248.8" y="355.0" width="11.0" height="2.0" rx="1.0" fill="#142a48" fill-opacity="0.13" filter="url(#b1)"/>
<rect x="248.5" y="361.0" width="11.6" height="3.0" rx="1.5" fill="#142a48" fill-opacity="0.30" filter="url(#b1)"/>
<rect x="248.5" y="367.4" width="11.6" height="2.8" rx="1.4" fill="#142a48" fill-opacity="0.30" filter="url(#b1)"/>
<rect x="248.5" y="375.6" width="11.6" height="2.8" rx="1.4" fill="#142a48" fill-opacity="0.30" filter="url(#b1)"/>
<rect x="248.3" y="383.5" width="12.0" height="3.0" rx="1.5" fill="#142a48" fill-opacity="0.53" filter="url(#b1)"/>
<rect x="248.1" y="391.3" width="12.4" height="3.4" rx="1.7" fill="#142a48" fill-opacity="0.69" filter="url(#b1)"/>
<rect x="247.6" y="400.2" width="13.4" height="6.8" rx="2.2" fill="#142a48" fill-opacity="0.97" filter="url(#b1)"/>
<rect x="248.1" y="421.0" width="12.4" height="4.6" rx="2.2" fill="#142a48" fill-opacity="0.25" filter="url(#b1)"/>
<rect x="263.6" y="251" width="11.2" height="164" fill="#142a48" fill-opacity="0.04" filter="url(#b2)"/>
<rect x="263.2" y="258.6" width="12.0" height="3.6" rx="1.8" fill="#142a48" fill-opacity="0.37" filter="url(#b1)"/>
<rect x="262.9" y="267.9" width="12.6" height="3.0" rx="1.5" fill="#142a48" fill-opacity="0.51" filter="url(#b1)"/>
<rect x="262.7" y="272.7" width="13.0" height="3.3" rx="1.6" fill="#142a48" fill-opacity="0.69" filter="url(#b1)"/>
<rect x="262.7" y="277.5" width="13.0" height="3.3" rx="1.6" fill="#142a48" fill-opacity="0.87" filter="url(#b1)"/>
<rect x="263.7" y="283.5" width="11.0" height="2.0" rx="1.0" fill="#142a48" fill-opacity="0.18" filter="url(#b1)"/>
<rect x="263.7" y="288.5" width="11.0" height="5.0" rx="2.2" fill="#142a48" fill-opacity="0.12" filter="url(#b2)"/>
<rect x="263.7" y="302.5" width="11.0" height="7.0" rx="2.2" fill="#142a48" fill-opacity="0.15" filter="url(#b2)"/>
<rect x="262.9" y="315.6" width="12.6" height="4.4" rx="2.2" fill="#142a48" fill-opacity="0.87" filter="url(#b1)"/>
<rect x="262.3" y="326.2" width="13.8" height="9.2" rx="2.2" fill="#142a48" fill-opacity="0.98" filter="url(#b1)"/>
<rect x="263.7" y="340.8" width="11.0" height="2.4" rx="1.2" fill="#142a48" fill-opacity="0.21" filter="url(#b1)"/>
<rect x="263.7" y="347.0" width="11.0" height="2.0" rx="1.0" fill="#142a48" fill-opacity="0.12" filter="url(#b1)"/>
<rect x="263.7" y="355.0" width="11.0" height="2.0" rx="1.0" fill="#142a48" fill-opacity="0.13" filter="url(#b1)"/>
<rect x="263.4" y="361.0" width="11.6" height="3.0" rx="1.5" fill="#142a48" fill-opacity="0.30" filter="url(#b1)"/>
<rect x="263.4" y="367.4" width="11.6" height="2.8" rx="1.4" fill="#142a48" fill-opacity="0.30" filter="url(#b1)"/>
<rect x="263.4" y="375.6" width="11.6" height="2.8" rx="1.4" fill="#142a48" fill-opacity="0.30" filter="url(#b1)"/>
<rect x="263.2" y="383.5" width="12.0" height="3.0" rx="1.5" fill="#142a48" fill-opacity="0.53" filter="url(#b1)"/>
<rect x="263.0" y="391.3" width="12.4" height="3.4" rx="1.7" fill="#142a48" fill-opacity="0.69" filter="url(#b1)"/>
<rect x="262.5" y="400.2" width="13.4" height="6.8" rx="2.2" fill="#142a48" fill-opacity="0.97" filter="url(#b1)"/>
<rect x="263.0" y="421.0" width="12.4" height="4.6" rx="2.2" fill="#142a48" fill-opacity="0.30" filter="url(#b1)"/>
<rect x="278.5" y="251" width="11.2" height="164" fill="#142a48" fill-opacity="0.08" filter="url(#b2)"/>
<rect x="278.5" y="254" width="11.2" height="54" fill="#142a48" fill-opacity="0.29" filter="url(#b2)"/>
<rect x="278.5" y="358" width="11.2" height="46" fill="#142a48" fill-opacity="0.26" filter="url(#b2)"/>
<rect x="278.1" y="258.6" width="12.0" height="3.6" rx="1.8" fill="#142a48" fill-opacity="0.68" filter="url(#b1)"/>
<rect x="277.8" y="267.9" width="12.6" height="3.0" rx="1.5" fill="#142a48" fill-opacity="1.00" filter="url(#b1)"/>
<rect x="277.6" y="272.7" width="13.0" height="3.3" rx="1.6" fill="#142a48" fill-opacity="1.00" filter="url(#b1)"/>
<rect x="277.6" y="277.5" width="13.0" height="3.3" rx="1.6" fill="#142a48" fill-opacity="1.00" filter="url(#b1)"/>
<rect x="278.6" y="283.5" width="11.0" height="2.0" rx="1.0" fill="#142a48" fill-opacity="0.33" filter="url(#b1)"/>
<rect x="278.6" y="288.5" width="11.0" height="5.0" rx="2.2" fill="#142a48" fill-opacity="0.22" filter="url(#b2)"/>
<rect x="278.6" y="302.5" width="11.0" height="7.0" rx="2.2" fill="#142a48" fill-opacity="0.28" filter="url(#b2)"/>
<rect x="277.8" y="315.7" width="12.6" height="4.4" rx="2.2" fill="#142a48" fill-opacity="1.00" filter="url(#b1)"/>
<rect x="276.7" y="325.0" width="14.8" height="17.0" rx="2.2" fill="#142a48" fill-opacity="0.60" filter="url(#b2)"/>
<rect x="276.8" y="326.0" width="14.6" height="13.0" rx="2.2" fill="#142a48" fill-opacity="0.99" filter="url(#b1)"/>
<rect x="278.6" y="340.8" width="11.0" height="2.4" rx="1.2" fill="#142a48" fill-opacity="0.39" filter="url(#b1)"/>
<rect x="278.6" y="347.0" width="11.0" height="2.0" rx="1.0" fill="#142a48" fill-opacity="0.22" filter="url(#b1)"/>
<rect x="278.6" y="355.0" width="11.0" height="2.0" rx="1.0" fill="#142a48" fill-opacity="0.24" filter="url(#b1)"/>
<rect x="278.3" y="361.0" width="11.6" height="3.0" rx="1.5" fill="#142a48" fill-opacity="0.55" filter="url(#b1)"/>
<rect x="278.3" y="367.4" width="11.6" height="2.8" rx="1.4" fill="#142a48" fill-opacity="0.55" filter="url(#b1)"/>
<rect x="278.3" y="375.6" width="11.6" height="2.8" rx="1.4" fill="#142a48" fill-opacity="0.55" filter="url(#b1)"/>
<rect x="278.1" y="383.5" width="12.0" height="3.0" rx="1.5" fill="#142a48" fill-opacity="0.81" filter="url(#b1)"/>
<rect x="277.9" y="391.3" width="12.4" height="3.4" rx="1.7" fill="#142a48" fill-opacity="1.00" filter="url(#b1)"/>
<rect x="276.7" y="396.0" width="14.8" height="17.0" rx="2.2" fill="#142a48" fill-opacity="0.60" filter="url(#b2)"/>
<rect x="276.8" y="397.8" width="14.6" height="13.5" rx="2.2" fill="#142a48" fill-opacity="0.99" filter="url(#b1)"/>
<rect x="277.1" y="419.5" width="14.0" height="9.0" rx="2.2" fill="#142a48" fill-opacity="0.97" filter="url(#b1)"/>
<rect x="293.4" y="251" width="11.2" height="164" fill="#142a48" fill-opacity="0.08" filter="url(#b2)"/>
<rect x="293.4" y="254" width="11.2" height="54" fill="#142a48" fill-opacity="0.29" filter="url(#b2)"/>
<rect x="293.4" y="358" width="11.2" height="46" fill="#142a48" fill-opacity="0.26" filter="url(#b2)"/>
<rect x="293.0" y="258.6" width="12.0" height="3.6" rx="1.8" fill="#142a48" fill-opacity="0.68" filter="url(#b1)"/>
<rect x="292.7" y="267.9" width="12.6" height="3.0" rx="1.5" fill="#142a48" fill-opacity="1.00" filter="url(#b1)"/>
<rect x="292.5" y="272.7" width="13.0" height="3.3" rx="1.6" fill="#142a48" fill-opacity="1.00" filter="url(#b1)"/>
<rect x="292.5" y="277.5" width="13.0" height="3.3" rx="1.6" fill="#142a48" fill-opacity="1.00" filter="url(#b1)"/>
<rect x="293.5" y="283.5" width="11.0" height="2.0" rx="1.0" fill="#142a48" fill-opacity="0.33" filter="url(#b1)"/>
<rect x="293.5" y="288.5" width="11.0" height="5.0" rx="2.2" fill="#142a48" fill-opacity="0.22" filter="url(#b2)"/>
<rect x="293.5" y="302.5" width="11.0" height="7.0" rx="2.2" fill="#142a48" fill-opacity="0.28" filter="url(#b2)"/>
<rect x="292.7" y="315.7" width="12.6" height="4.4" rx="2.2" fill="#142a48" fill-opacity="1.00" filter="url(#b1)"/>
<rect x="291.6" y="325.1" width="14.8" height="17.0" rx="2.2" fill="#142a48" fill-opacity="0.60" filter="url(#b2)"/>
<rect x="291.7" y="326.1" width="14.6" height="13.0" rx="2.2" fill="#142a48" fill-opacity="0.99" filter="url(#b1)"/>
<rect x="293.5" y="340.8" width="11.0" height="2.4" rx="1.2" fill="#142a48" fill-opacity="0.39" filter="url(#b1)"/>
<rect x="293.5" y="347.0" width="11.0" height="2.0" rx="1.0" fill="#142a48" fill-opacity="0.22" filter="url(#b1)"/>
<rect x="293.5" y="355.0" width="11.0" height="2.0" rx="1.0" fill="#142a48" fill-opacity="0.24" filter="url(#b1)"/>
<rect x="293.2" y="361.0" width="11.6" height="3.0" rx="1.5" fill="#142a48" fill-opacity="0.55" filter="url(#b1)"/>
<rect x="293.2" y="367.4" width="11.6" height="2.8" rx="1.4" fill="#142a48" fill-opacity="0.55" filter="url(#b1)"/>
<rect x="293.2" y="375.6" width="11.6" height="2.8" rx="1.4" fill="#142a48" fill-opacity="0.55" filter="url(#b1)"/>
<rect x="293.0" y="383.5" width="12.0" height="3.0" rx="1.5" fill="#142a48" fill-opacity="0.81" filter="url(#b1)"/>
<rect x="292.8" y="391.3" width="12.4" height="3.4" rx="1.7" fill="#142a48" fill-opacity="1.00" filter="url(#b1)"/>
<rect x="291.6" y="396.0" width="14.8" height="17.0" rx="2.2" fill="#142a48" fill-opacity="0.60" filter="url(#b2)"/>
<rect x="291.7" y="397.8" width="14.6" height="13.5" rx="2.2" fill="#142a48" fill-opacity="0.99" filter="url(#b1)"/>
<rect x="292.0" y="419.5" width="14.0" height="9.0" rx="2.2" fill="#142a48" fill-opacity="0.97" filter="url(#b1)"/>
<rect x="308.3" y="251" width="11.2" height="164" fill="#142a48" fill-opacity="0.02" filter="url(#b2)"/>
<rect x="307.9" y="258.6" width="12.0" height="3.6" rx="1.8" fill="#142a48" fill-opacity="0.22" filter="url(#b1)"/>
<rect x="307.6" y="267.9" width="12.6" height="3.0" rx="1.5" fill="#142a48" fill-opacity="0.24" filter="url(#b1)"/>
<rect x="307.4" y="272.7" width="13.0" height="3.3" rx="1.6" fill="#142a48" fill-opacity="0.45" filter="url(#b1)"/>
<rect x="307.4" y="277.5" width="13.0" height="3.3" rx="1.6" fill="#142a48" fill-opacity="0.76" filter="url(#b1)"/>
<rect x="308.4" y="283.5" width="11.0" height="2.0" rx="1.0" fill="#142a48" fill-opacity="0.10" filter="url(#b1)"/>
<rect x="308.4" y="288.5" width="11.0" height="5.0" rx="2.2" fill="#142a48" fill-opacity="0.07" filter="url(#b2)"/>
<rect x="308.4" y="302.5" width="11.0" height="7.0" rx="2.2" fill="#142a48" fill-opacity="0.09" filter="url(#b2)"/>
<rect x="307.6" y="315.7" width="12.6" height="4.4" rx="2.2" fill="#142a48" fill-opacity="0.76" filter="url(#b1)"/>
<rect x="307.0" y="326.5" width="13.8" height="9.2" rx="2.2" fill="#142a48" fill-opacity="0.98" filter="url(#b1)"/>
<rect x="308.4" y="340.8" width="11.0" height="2.4" rx="1.2" fill="#142a48" fill-opacity="0.12" filter="url(#b1)"/>
<rect x="308.4" y="347.0" width="11.0" height="2.0" rx="1.0" fill="#142a48" fill-opacity="0.07" filter="url(#b1)"/>
<rect x="308.4" y="355.0" width="11.0" height="2.0" rx="1.0" fill="#142a48" fill-opacity="0.08" filter="url(#b1)"/>
<rect x="308.1" y="361.0" width="11.6" height="3.0" rx="1.5" fill="#142a48" fill-opacity="0.17" filter="url(#b1)"/>
<rect x="308.1" y="367.4" width="11.6" height="2.8" rx="1.4" fill="#142a48" fill-opacity="0.17" filter="url(#b1)"/>
<rect x="308.1" y="375.6" width="11.6" height="2.8" rx="1.4" fill="#142a48" fill-opacity="0.17" filter="url(#b1)"/>
<rect x="307.9" y="383.5" width="12.0" height="3.0" rx="1.5" fill="#142a48" fill-opacity="0.39" filter="url(#b1)"/>
<rect x="307.7" y="391.3" width="12.4" height="3.4" rx="1.7" fill="#142a48" fill-opacity="0.53" filter="url(#b1)"/>
<rect x="307.2" y="400.2" width="13.4" height="6.8" rx="2.2" fill="#142a48" fill-opacity="0.97" filter="url(#b1)"/>
<rect x="307.7" y="421.0" width="12.4" height="4.6" rx="2.2" fill="#142a48" fill-opacity="0.35" filter="url(#b1)"/>
<rect x="323.2" y="251" width="11.2" height="164" fill="#142a48" fill-opacity="0.02" filter="url(#b2)"/>
<rect x="322.8" y="258.6" width="12.0" height="3.6" rx="1.8" fill="#142a48" fill-opacity="0.22" filter="url(#b1)"/>
<rect x="322.5" y="267.9" width="12.6" height="3.0" rx="1.5" fill="#142a48" fill-opacity="0.24" filter="url(#b1)"/>
<rect x="322.3" y="272.7" width="13.0" height="3.3" rx="1.6" fill="#142a48" fill-opacity="0.45" filter="url(#b1)"/>
<rect x="322.3" y="277.5" width="13.0" height="3.3" rx="1.6" fill="#142a48" fill-opacity="0.76" filter="url(#b1)"/>
<rect x="323.3" y="283.5" width="11.0" height="2.0" rx="1.0" fill="#142a48" fill-opacity="0.10" filter="url(#b1)"/>
<rect x="323.3" y="288.5" width="11.0" height="5.0" rx="2.2" fill="#142a48" fill-opacity="0.07" filter="url(#b2)"/>
<rect x="323.3" y="302.5" width="11.0" height="7.0" rx="2.2" fill="#142a48" fill-opacity="0.09" filter="url(#b2)"/>
<rect x="322.5" y="315.7" width="12.6" height="4.4" rx="2.2" fill="#142a48" fill-opacity="0.76" filter="url(#b1)"/>
<rect x="321.9" y="326.6" width="13.8" height="9.2" rx="2.2" fill="#142a48" fill-opacity="0.98" filter="url(#b1)"/>
<rect x="323.3" y="340.8" width="11.0" height="2.4" rx="1.2" fill="#142a48" fill-opacity="0.12" filter="url(#b1)"/>
<rect x="323.3" y="347.0" width="11.0" height="2.0" rx="1.0" fill="#142a48" fill-opacity="0.07" filter="url(#b1)"/>
<rect x="323.3" y="355.0" width="11.0" height="2.0" rx="1.0" fill="#142a48" fill-opacity="0.08" filter="url(#b1)"/>
<rect x="323.0" y="361.0" width="11.6" height="3.0" rx="1.5" fill="#142a48" fill-opacity="0.17" filter="url(#b1)"/>
<rect x="323.0" y="367.4" width="11.6" height="2.8" rx="1.4" fill="#142a48" fill-opacity="0.17" filter="url(#b1)"/>
<rect x="323.0" y="375.6" width="11.6" height="2.8" rx="1.4" fill="#142a48" fill-opacity="0.17" filter="url(#b1)"/>
<rect x="322.8" y="383.5" width="12.0" height="3.0" rx="1.5" fill="#142a48" fill-opacity="0.39" filter="url(#b1)"/>
<rect x="322.6" y="391.3" width="12.4" height="3.4" rx="1.7" fill="#142a48" fill-opacity="0.53" filter="url(#b1)"/>
<rect x="322.1" y="400.2" width="13.4" height="6.8" rx="2.2" fill="#142a48" fill-opacity="0.97" filter="url(#b1)"/>
<rect x="322.6" y="421.0" width="12.4" height="4.6" rx="2.2" fill="#142a48" fill-opacity="0.20" filter="url(#b1)"/>
<rect x="338.1" y="251" width="11.2" height="164" fill="#142a48" fill-opacity="0.07" filter="url(#b2)"/>
<rect x="338.1" y="254" width="11.2" height="54" fill="#142a48" fill-opacity="0.27" filter="url(#b2)"/>
<rect x="338.1" y="358" width="11.2" height="46" fill="#142a48" fill-opacity="0.25" filter="url(#b2)"/>
<rect x="337.7" y="258.6" width="12.0" height="3.6" rx="1.8" fill="#142a48" fill-opacity="0.65" filter="url(#b1)"/>
<rect x="337.4" y="267.9" width="12.6" height="3.0" rx="1.5" fill="#142a48" fill-opacity="1.00" filter="url(#b1)"/>
<rect x="337.2" y="272.7" width="13.0" height="3.3" rx="1.6" fill="#142a48" fill-opacity="1.00" filter="url(#b1)"/>
<rect x="337.2" y="277.5" width="13.0" height="3.3" rx="1.6" fill="#142a48" fill-opacity="1.00" filter="url(#b1)"/>
<rect x="338.2" y="283.5" width="11.0" height="2.0" rx="1.0" fill="#142a48" fill-opacity="0.32" filter="url(#b1)"/>
<rect x="338.2" y="288.5" width="11.0" height="5.0" rx="2.2" fill="#142a48" fill-opacity="0.21" filter="url(#b2)"/>
<rect x="338.2" y="302.5" width="11.0" height="7.0" rx="2.2" fill="#142a48" fill-opacity="0.26" filter="url(#b2)"/>
<rect x="337.4" y="315.7" width="12.6" height="4.4" rx="2.2" fill="#142a48" fill-opacity="1.00" filter="url(#b1)"/>
<rect x="336.3" y="325.2" width="14.8" height="17.0" rx="2.2" fill="#142a48" fill-opacity="0.60" filter="url(#b2)"/>
<rect x="336.4" y="326.2" width="14.6" height="13.0" rx="2.2" fill="#142a48" fill-opacity="0.99" filter="url(#b1)"/>
<rect x="338.2" y="340.8" width="11.0" height="2.4" rx="1.2" fill="#142a48" fill-opacity="0.37" filter="url(#b1)"/>
<rect x="338.2" y="347.0" width="11.0" height="2.0" rx="1.0" fill="#142a48" fill-opacity="0.21" filter="url(#b1)"/>
<rect x="338.2" y="355.0" width="11.0" height="2.0" rx="1.0" fill="#142a48" fill-opacity="0.23" filter="url(#b1)"/>
<rect x="337.9" y="361.0" width="11.6" height="3.0" rx="1.5" fill="#142a48" fill-opacity="0.53" filter="url(#b1)"/>
<rect x="337.9" y="367.4" width="11.6" height="2.8" rx="1.4" fill="#142a48" fill-opacity="0.53" filter="url(#b1)"/>
<rect x="337.9" y="375.6" width="11.6" height="2.8" rx="1.4" fill="#142a48" fill-opacity="0.53" filter="url(#b1)"/>
<rect x="337.7" y="383.5" width="12.0" height="3.0" rx="1.5" fill="#142a48" fill-opacity="0.78" filter="url(#b1)"/>
<rect x="337.5" y="391.3" width="12.4" height="3.4" rx="1.7" fill="#142a48" fill-opacity="0.98" filter="url(#b1)"/>
<rect x="336.3" y="396.0" width="14.8" height="17.0" rx="2.2" fill="#142a48" fill-opacity="0.60" filter="url(#b2)"/>
<rect x="336.4" y="397.8" width="14.6" height="13.5" rx="2.2" fill="#142a48" fill-opacity="0.99" filter="url(#b1)"/>
<rect x="336.7" y="419.5" width="14.0" height="9.0" rx="2.2" fill="#142a48" fill-opacity="0.97" filter="url(#b1)"/>
<rect x="353.0" y="251" width="11.2" height="164" fill="#142a48" fill-opacity="0.07" filter="url(#b2)"/>
<rect x="353.0" y="254" width="11.2" height="54" fill="#142a48" fill-opacity="0.26" filter="url(#b2)"/>
<rect x="353.0" y="358" width="11.2" height="46" fill="#142a48" fill-opacity="0.24" filter="url(#b2)"/>
<rect x="352.6" y="258.6" width="12.0" height="3.6" rx="1.8" fill="#142a48" fill-opacity="0.62" filter="url(#b1)"/>
<rect x="352.3" y="267.9" width="12.6" height="3.0" rx="1.5" fill="#142a48" fill-opacity="0.95" filter="url(#b1)"/>
<rect x="352.1" y="272.7" width="13.0" height="3.3" rx="1.6" fill="#142a48" fill-opacity="1.00" filter="url(#b1)"/>
<rect x="352.1" y="277.5" width="13.0" height="3.3" rx="1.6" fill="#142a48" fill-opacity="1.00" filter="url(#b1)"/>
<rect x="353.1" y="283.5" width="11.0" height="2.0" rx="1.0" fill="#142a48" fill-opacity="0.30" filter="url(#b1)"/>
<rect x="353.1" y="288.5" width="11.0" height="5.0" rx="2.2" fill="#142a48" fill-opacity="0.20" filter="url(#b2)"/>
<rect x="353.1" y="302.5" width="11.0" height="7.0" rx="2.2" fill="#142a48" fill-opacity="0.25" filter="url(#b2)"/>
<rect x="352.3" y="315.8" width="12.6" height="4.4" rx="2.2" fill="#142a48" fill-opacity="1.00" filter="url(#b1)"/>
<rect x="351.2" y="325.2" width="14.8" height="17.0" rx="2.2" fill="#142a48" fill-opacity="0.60" filter="url(#b2)"/>
<rect x="351.3" y="326.2" width="14.6" height="13.0" rx="2.2" fill="#142a48" fill-opacity="0.99" filter="url(#b1)"/>
<rect x="353.1" y="340.8" width="11.0" height="2.4" rx="1.2" fill="#142a48" fill-opacity="0.35" filter="url(#b1)"/>
<rect x="353.1" y="347.0" width="11.0" height="2.0" rx="1.0" fill="#142a48" fill-opacity="0.20" filter="url(#b1)"/>
<rect x="353.1" y="355.0" width="11.0" height="2.0" rx="1.0" fill="#142a48" fill-opacity="0.22" filter="url(#b1)"/>
<rect x="352.8" y="361.0" width="11.6" height="3.0" rx="1.5" fill="#142a48" fill-opacity="0.50" filter="url(#b1)"/>
<rect x="352.8" y="367.4" width="11.6" height="2.8" rx="1.4" fill="#142a48" fill-opacity="0.50" filter="url(#b1)"/>
<rect x="352.8" y="375.6" width="11.6" height="2.8" rx="1.4" fill="#142a48" fill-opacity="0.50" filter="url(#b1)"/>
<rect x="352.6" y="383.5" width="12.0" height="3.0" rx="1.5" fill="#142a48" fill-opacity="0.75" filter="url(#b1)"/>
<rect x="352.4" y="391.3" width="12.4" height="3.4" rx="1.7" fill="#142a48" fill-opacity="0.95" filter="url(#b1)"/>
<rect x="351.2" y="396.0" width="14.8" height="17.0" rx="2.2" fill="#142a48" fill-opacity="0.60" filter="url(#b2)"/>
<rect x="351.3" y="397.8" width="14.6" height="13.5" rx="2.2" fill="#142a48" fill-opacity="0.99" filter="url(#b1)"/>
<rect x="351.6" y="419.5" width="14.0" height="9.0" rx="2.2" fill="#142a48" fill-opacity="0.97" filter="url(#b1)"/>
<rect x="367.9" y="251" width="11.2" height="164" fill="#142a48" fill-opacity="0.02" filter="url(#b2)"/>
<rect x="367.5" y="258.6" width="12.0" height="3.6" rx="1.8" fill="#142a48" fill-opacity="0.19" filter="url(#b1)"/>
<rect x="367.2" y="267.9" width="12.6" height="3.0" rx="1.5" fill="#142a48" fill-opacity="0.18" filter="url(#b1)"/>
<rect x="367.0" y="272.7" width="13.0" height="3.3" rx="1.6" fill="#142a48" fill-opacity="0.40" filter="url(#b1)"/>
<rect x="367.0" y="277.5" width="13.0" height="3.3" rx="1.6" fill="#142a48" fill-opacity="0.73" filter="url(#b1)"/>
<rect x="368.0" y="283.5" width="11.0" height="2.0" rx="1.0" fill="#142a48" fill-opacity="0.09" filter="url(#b1)"/>
<rect x="368.0" y="288.5" width="11.0" height="5.0" rx="2.2" fill="#142a48" fill-opacity="0.06" filter="url(#b2)"/>
<rect x="368.0" y="302.5" width="11.0" height="7.0" rx="2.2" fill="#142a48" fill-opacity="0.07" filter="url(#b2)"/>
<rect x="367.2" y="315.8" width="12.6" height="4.4" rx="2.2" fill="#142a48" fill-opacity="0.73" filter="url(#b1)"/>
<rect x="366.6" y="326.9" width="13.8" height="9.2" rx="2.2" fill="#142a48" fill-opacity="0.98" filter="url(#b1)"/>
<rect x="368.0" y="340.8" width="11.0" height="2.4" rx="1.2" fill="#142a48" fill-opacity="0.10" filter="url(#b1)"/>
<rect x="368.0" y="347.0" width="11.0" height="2.0" rx="1.0" fill="#142a48" fill-opacity="0.06" filter="url(#b1)"/>
<rect x="368.0" y="355.0" width="11.0" height="2.0" rx="1.0" fill="#142a48" fill-opacity="0.07" filter="url(#b1)"/>
<rect x="367.7" y="361.0" width="11.6" height="3.0" rx="1.5" fill="#142a48" fill-opacity="0.15" filter="url(#b1)"/>
<rect x="367.7" y="367.4" width="11.6" height="2.8" rx="1.4" fill="#142a48" fill-opacity="0.15" filter="url(#b1)"/>
<rect x="367.7" y="375.6" width="11.6" height="2.8" rx="1.4" fill="#142a48" fill-opacity="0.15" filter="url(#b1)"/>
<rect x="367.5" y="383.5" width="12.0" height="3.0" rx="1.5" fill="#142a48" fill-opacity="0.36" filter="url(#b1)"/>
<rect x="367.3" y="391.3" width="12.4" height="3.4" rx="1.7" fill="#142a48" fill-opacity="0.49" filter="url(#b1)"/>
<rect x="366.1" y="396.0" width="14.8" height="17.0" rx="2.2" fill="#142a48" fill-opacity="0.60" filter="url(#b2)"/>
<rect x="366.2" y="397.8" width="14.6" height="13.5" rx="2.2" fill="#142a48" fill-opacity="0.99" filter="url(#b1)"/>
<rect x="366.5" y="419.5" width="14.0" height="9.0" rx="2.2" fill="#142a48" fill-opacity="0.97" filter="url(#b1)"/>
<rect x="382.8" y="251" width="11.2" height="164" fill="#142a48" fill-opacity="0.02" filter="url(#b2)"/>
<rect x="382.4" y="258.6" width="12.0" height="3.6" rx="1.8" fill="#142a48" fill-opacity="0.19" filter="url(#b1)"/>
<rect x="382.1" y="267.9" width="12.6" height="3.0" rx="1.5" fill="#142a48" fill-opacity="0.18" filter="url(#b1)"/>
<rect x="381.9" y="272.7" width="13.0" height="3.3" rx="1.6" fill="#142a48" fill-opacity="0.40" filter="url(#b1)"/>
<rect x="381.9" y="277.5" width="13.0" height="3.3" rx="1.6" fill="#142a48" fill-opacity="0.73" filter="url(#b1)"/>
<rect x="382.9" y="283.5" width="11.0" height="2.0" rx="1.0" fill="#142a48" fill-opacity="0.09" filter="url(#b1)"/>
<rect x="382.9" y="288.5" width="11.0" height="5.0" rx="2.2" fill="#142a48" fill-opacity="0.06" filter="url(#b2)"/>
<rect x="382.9" y="302.5" width="11.0" height="7.0" rx="2.2" fill="#142a48" fill-opacity="0.07" filter="url(#b2)"/>
<rect x="382.1" y="315.8" width="12.6" height="4.4" rx="2.2" fill="#142a48" fill-opacity="0.73" filter="url(#b1)"/>
<rect x="381.5" y="327.0" width="13.8" height="9.2" rx="2.2" fill="#142a48" fill-opacity="0.98" filter="url(#b1)"/>
<rect x="382.9" y="340.8" width="11.0" height="2.4" rx="1.2" fill="#142a48" fill-opacity="0.10" filter="url(#b1)"/>
<rect x="382.9" y="347.0" width="11.0" height="2.0" rx="1.0" fill="#142a48" fill-opacity="0.06" filter="url(#b1)"/>
<rect x="382.9" y="355.0" width="11.0" height="2.0" rx="1.0" fill="#142a48" fill-opacity="0.07" filter="url(#b1)"/>
<rect x="382.6" y="361.0" width="11.6" height="3.0" rx="1.5" fill="#142a48" fill-opacity="0.15" filter="url(#b1)"/>
<rect x="382.6" y="367.4" width="11.6" height="2.8" rx="1.4" fill="#142a48" fill-opacity="0.15" filter="url(#b1)"/>
<rect x="382.6" y="375.6" width="11.6" height="2.8" rx="1.4" fill="#142a48" fill-opacity="0.15" filter="url(#b1)"/>
<rect x="382.4" y="383.5" width="12.0" height="3.0" rx="1.5" fill="#142a48" fill-opacity="0.36" filter="url(#b1)"/>
<rect x="382.2" y="391.3" width="12.4" height="3.4" rx="1.7" fill="#142a48" fill-opacity="0.49" filter="url(#b1)"/>
<rect x="380.6" y="393.0" width="15.5" height="36.0" rx="2.2" fill="#142a48" fill-opacity="0.97" filter="url(#b2)"/>
<rect x="380.6" y="398.0" width="15.5" height="14.0" rx="2.2" fill="#142a48" fill-opacity="0.99" filter="url(#b1)"/>
<rect x="380.9" y="418.0" width="15.0" height="16.0" rx="2.2" fill="#142a48" fill-opacity="0.97" filter="url(#b2)"/>
<rect x="397.7" y="251" width="11.2" height="164" fill="#142a48" fill-opacity="0.06" filter="url(#b2)"/>
<rect x="397.7" y="254" width="11.2" height="54" fill="#142a48" fill-opacity="0.22" filter="url(#b2)"/>
<rect x="397.7" y="358" width="11.2" height="46" fill="#142a48" fill-opacity="0.20" filter="url(#b2)"/>
<rect x="397.3" y="258.6" width="12.0" height="3.6" rx="1.8" fill="#142a48" fill-opacity="0.53" filter="url(#b1)"/>
<rect x="397.0" y="267.9" width="12.6" height="3.0" rx="1.5" fill="#142a48" fill-opacity="0.79" filter="url(#b1)"/>
<rect x="396.8" y="272.7" width="13.0" height="3.3" rx="1.6" fill="#142a48" fill-opacity="0.93" filter="url(#b1)"/>
<rect x="396.8" y="277.5" width="13.0" height="3.3" rx="1.6" fill="#142a48" fill-opacity="0.98" filter="url(#b1)"/>
<rect x="397.8" y="283.5" width="11.0" height="2.0" rx="1.0" fill="#142a48" fill-opacity="0.26" filter="url(#b1)"/>
<rect x="397.8" y="288.5" width="11.0" height="5.0" rx="2.2" fill="#142a48" fill-opacity="0.17" filter="url(#b2)"/>
<rect x="397.8" y="302.5" width="11.0" height="7.0" rx="2.2" fill="#142a48" fill-opacity="0.21" filter="url(#b2)"/>
<rect x="397.0" y="315.8" width="12.6" height="4.4" rx="2.2" fill="#142a48" fill-opacity="0.98" filter="url(#b1)"/>
<rect x="396.4" y="326.2" width="13.8" height="11.0" rx="2.2" fill="#142a48" fill-opacity="0.98" filter="url(#b1)"/>
<rect x="397.8" y="340.8" width="11.0" height="2.4" rx="1.2" fill="#142a48" fill-opacity="0.30" filter="url(#b1)"/>
<rect x="397.8" y="347.0" width="11.0" height="2.0" rx="1.0" fill="#142a48" fill-opacity="0.17" filter="url(#b1)"/>
<rect x="397.8" y="355.0" width="11.0" height="2.0" rx="1.0" fill="#142a48" fill-opacity="0.19" filter="url(#b1)"/>
<rect x="397.5" y="361.0" width="11.6" height="3.0" rx="1.5" fill="#142a48" fill-opacity="0.42" filter="url(#b1)"/>
<rect x="397.5" y="367.4" width="11.6" height="2.8" rx="1.4" fill="#142a48" fill-opacity="0.42" filter="url(#b1)"/>
<rect x="397.5" y="375.6" width="11.6" height="2.8" rx="1.4" fill="#142a48" fill-opacity="0.42" filter="url(#b1)"/>
<rect x="397.3" y="383.5" width="12.0" height="3.0" rx="1.5" fill="#142a48" fill-opacity="0.67" filter="url(#b1)"/>
<rect x="397.1" y="391.3" width="12.4" height="3.4" rx="1.7" fill="#142a48" fill-opacity="0.85" filter="url(#b1)"/>
<rect x="395.6" y="393.0" width="15.5" height="36.0" rx="2.2" fill="#142a48" fill-opacity="0.97" filter="url(#b2)"/>
<rect x="395.6" y="398.0" width="15.5" height="14.0" rx="2.2" fill="#142a48" fill-opacity="0.99" filter="url(#b1)"/>
<rect x="395.8" y="418.0" width="15.0" height="16.0" rx="2.2" fill="#142a48" fill-opacity="0.97" filter="url(#b2)"/>
<rect x="417.7" y="251" width="11.2" height="164" fill="#142a48" fill-opacity="0.04" filter="url(#b2)"/>
<rect x="417.3" y="258.6" width="12.0" height="3.6" rx="1.8" fill="#142a48" fill-opacity="0.37" filter="url(#b1)"/>
<rect x="417.0" y="267.9" width="12.6" height="3.0" rx="1.5" fill="#142a48" fill-opacity="0.51" filter="url(#b1)"/>
<rect x="416.8" y="272.7" width="13.0" height="3.3" rx="1.6" fill="#142a48" fill-opacity="0.69" filter="url(#b1)"/>
<rect x="416.8" y="277.5" width="13.0" height="3.3" rx="1.6" fill="#142a48" fill-opacity="0.87" filter="url(#b1)"/>
<rect x="417.8" y="283.5" width="11.0" height="2.0" rx="1.0" fill="#142a48" fill-opacity="0.18" filter="url(#b1)"/>
<rect x="417.8" y="288.5" width="11.0" height="5.0" rx="2.2" fill="#142a48" fill-opacity="0.12" filter="url(#b2)"/>
<rect x="417.8" y="302.5" width="11.0" height="7.0" rx="2.2" fill="#142a48" fill-opacity="0.15" filter="url(#b2)"/>
<rect x="417.0" y="315.8" width="12.6" height="4.4" rx="2.2" fill="#142a48" fill-opacity="0.87" filter="url(#b1)"/>
<rect x="416.4" y="327.2" width="13.8" height="9.2" rx="2.2" fill="#142a48" fill-opacity="0.98" filter="url(#b1)"/>
<rect x="417.8" y="340.8" width="11.0" height="2.4" rx="1.2" fill="#142a48" fill-opacity="0.21" filter="url(#b1)"/>
<rect x="417.8" y="347.0" width="11.0" height="2.0" rx="1.0" fill="#142a48" fill-opacity="0.12" filter="url(#b1)"/>
<rect x="417.8" y="355.0" width="11.0" height="2.0" rx="1.0" fill="#142a48" fill-opacity="0.13" filter="url(#b1)"/>
<rect x="417.5" y="361.0" width="11.6" height="3.0" rx="1.5" fill="#142a48" fill-opacity="0.30" filter="url(#b1)"/>
<rect x="417.5" y="367.4" width="11.6" height="2.8" rx="1.4" fill="#142a48" fill-opacity="0.30" filter="url(#b1)"/>
<rect x="417.5" y="375.6" width="11.6" height="2.8" rx="1.4" fill="#142a48" fill-opacity="0.30" filter="url(#b1)"/>
<rect x="417.3" y="383.5" width="12.0" height="3.0" rx="1.5" fill="#142a48" fill-opacity="0.53" filter="url(#b1)"/>
<rect x="417.1" y="391.3" width="12.4" height="3.4" rx="1.7" fill="#142a48" fill-opacity="0.69" filter="url(#b1)"/>
<rect x="415.6" y="393.0" width="15.5" height="36.0" rx="2.2" fill="#142a48" fill-opacity="0.97" filter="url(#b2)"/>
<rect x="415.6" y="398.0" width="15.5" height="14.0" rx="2.2" fill="#142a48" fill-opacity="0.99" filter="url(#b1)"/>
<rect x="415.8" y="418.0" width="15.0" height="16.0" rx="2.2" fill="#142a48" fill-opacity="0.97" filter="url(#b2)"/>
<rect x="128" y="325.5" width="305" height="8.5" fill="#142a48" fill-opacity=".82" filter="url(#b1)"/>
<rect x="215" y="400.5" width="218" height="6" fill="#142a48" fill-opacity=".7" filter="url(#b1)"/>
<rect x="79.0" y="268.1" width="14.0" height="3.0" rx="1.5" fill="#142a48" fill-opacity="0.60" filter="url(#b1)"/>
<rect x="78.5" y="272.7" width="15.0" height="3.4" rx="1.7" fill="#142a48" fill-opacity="0.90" filter="url(#b1)"/>
<rect x="78.5" y="277.5" width="15.0" height="3.4" rx="1.7" fill="#142a48" fill-opacity="0.95" filter="url(#b1)"/>
<path d="M80,322 C88,331 94,331 100,326 L128,326 C131,326 133,329 136,329" fill="none" stroke="#142a48" stroke-width="5" stroke-opacity=".95" filter="url(#b1)"/>
<path d="M96,318.5 C100,321.5 110,320.5 126,320.2" fill="none" stroke="#9cc9f0" stroke-width="1.2" stroke-opacity=".9"/>
<circle cx="106.5" cy="309" r="2.0" fill="#142a48" fill-opacity="0.95" filter="url(#b05)"/>
<circle cx="103" cy="315" r="1.3" fill="#142a48" fill-opacity="0.8" filter="url(#b05)"/>
<circle cx="213.5" cy="354.3" r="2.4" fill="#142a48" fill-opacity="0.97" filter="url(#b05)"/>
<circle cx="82" cy="361" r="3.2" fill="#142a48" fill-opacity="0.9" filter="url(#b05)"/>
<circle cx="425" cy="445" r="3.0" fill="#142a48" fill-opacity="0.55" filter="url(#b05)"/>
<circle cx="143" cy="340" r="1.2" fill="#142a48" fill-opacity="0.7" filter="url(#b05)"/>
<circle cx="221" cy="350" r="1.0" fill="#142a48" fill-opacity="0.7" filter="url(#b05)"/>
<circle cx="148.4" cy="375.6" r="1.2" fill="#142a48" fill-opacity="0.42"/>
<circle cx="154.7" cy="365.6" r="1.0" fill="#142a48" fill-opacity="0.43"/>
<circle cx="148.1" cy="369.9" r="0.8" fill="#142a48" fill-opacity="0.61"/>
<circle cx="153.0" cy="383.9" r="0.5" fill="#142a48" fill-opacity="0.81"/>
<circle cx="159.1" cy="375.5" r="1.2" fill="#142a48" fill-opacity="0.69"/>
<circle cx="169.2" cy="375.5" r="0.5" fill="#142a48" fill-opacity="0.89"/>
<circle cx="178.5" cy="376.3" r="0.7" fill="#142a48" fill-opacity="0.61"/>
<circle cx="134.4" cy="366.4" r="1.0" fill="#142a48" fill-opacity="0.81"/>
<circle cx="159.8" cy="383.2" r="1.2" fill="#142a48" fill-opacity="0.49"/>
<circle cx="170.1" cy="380.0" r="1.0" fill="#142a48" fill-opacity="0.43"/>
<circle cx="157.8" cy="386.0" r="0.8" fill="#142a48" fill-opacity="0.79"/>
<circle cx="121.0" cy="375.3" r="0.7" fill="#142a48" fill-opacity="0.55"/>
<circle cx="158.0" cy="353.6" r="0.6" fill="#142a48" fill-opacity="0.44"/>
<circle cx="146.9" cy="382.2" r="0.7" fill="#142a48" fill-opacity="0.76"/>
<circle cx="142.7" cy="399.9" r="0.5" fill="#142a48" fill-opacity="0.66"/>
<circle cx="158.5" cy="378.7" r="0.8" fill="#142a48" fill-opacity="0.61"/>
<circle cx="157.5" cy="369.0" r="1.0" fill="#142a48" fill-opacity="0.69"/>
<circle cx="160.6" cy="363.3" r="1.2" fill="#142a48" fill-opacity="0.58"/>
<circle cx="127.0" cy="370.4" r="0.5" fill="#142a48" fill-opacity="0.82"/>
<circle cx="166.9" cy="365.8" r="1.2" fill="#142a48" fill-opacity="0.43"/>
<circle cx="150.6" cy="360.6" r="1.0" fill="#142a48" fill-opacity="0.90"/>
<circle cx="157.0" cy="361.9" r="0.8" fill="#142a48" fill-opacity="0.84"/>
<circle cx="133.0" cy="391.4" r="0.7" fill="#142a48" fill-opacity="0.48"/>
<circle cx="155.6" cy="372.6" r="0.7" fill="#142a48" fill-opacity="0.46"/>
<circle cx="152.2" cy="381.0" r="0.8" fill="#142a48" fill-opacity="0.44"/>
<circle cx="135.2" cy="374.4" r="0.6" fill="#142a48" fill-opacity="0.81"/>
<circle cx="159.4" cy="363.3" r="0.8" fill="#142a48" fill-opacity="0.89"/>
<circle cx="146.4" cy="360.2" r="0.6" fill="#142a48" fill-opacity="0.48"/>
<circle cx="156.5" cy="377.1" r="0.6" fill="#142a48" fill-opacity="0.41"/>
<circle cx="156.3" cy="363.9" r="0.7" fill="#142a48" fill-opacity="0.40"/>
<circle cx="140.3" cy="375.1" r="1.0" fill="#142a48" fill-opacity="0.56"/>
<circle cx="171.5" cy="385.4" r="1.0" fill="#142a48" fill-opacity="0.73"/>
<circle cx="151.0" cy="357.9" r="1.2" fill="#142a48" fill-opacity="0.80"/>
<circle cx="141.0" cy="376.9" r="0.5" fill="#142a48" fill-opacity="0.64"/>
<circle cx="144.6" cy="374.2" r="0.6" fill="#142a48" fill-opacity="0.62"/>
<circle cx="166.6" cy="379.5" r="0.5" fill="#142a48" fill-opacity="0.40"/>
<circle cx="155.8" cy="374.1" r="0.7" fill="#142a48" fill-opacity="0.71"/>
<circle cx="160.6" cy="373.2" r="0.8" fill="#142a48" fill-opacity="0.47"/>
<circle cx="151.8" cy="380.2" r="0.7" fill="#142a48" fill-opacity="0.64"/>
<circle cx="164.1" cy="378.4" r="0.8" fill="#142a48" fill-opacity="0.64"/>
<circle cx="149.0" cy="375.7" r="1.2" fill="#142a48" fill-opacity="0.57"/>
<circle cx="149.6" cy="390.6" r="0.6" fill="#142a48" fill-opacity="0.66"/>
<circle cx="161.6" cy="396.0" r="0.7" fill="#142a48" fill-opacity="0.47"/>
<circle cx="148.8" cy="369.3" r="1.0" fill="#142a48" fill-opacity="0.55"/>
<circle cx="148.2" cy="366.2" r="0.7" fill="#142a48" fill-opacity="0.66"/>
<circle cx="163.0" cy="364.4" r="0.6" fill="#142a48" fill-opacity="0.67"/>
<circle cx="154.3" cy="360.3" r="0.6" fill="#142a48" fill-opacity="0.71"/>
<circle cx="157.6" cy="352.0" r="0.6" fill="#142a48" fill-opacity="0.80"/>
<circle cx="161.6" cy="353.6" r="0.6" fill="#142a48" fill-opacity="0.50"/>
<circle cx="129.3" cy="370.8" r="0.5" fill="#142a48" fill-opacity="0.80"/>
<circle cx="143.0" cy="371.3" r="1.0" fill="#142a48" fill-opacity="0.88"/>
<circle cx="120.9" cy="378.4" r="0.7" fill="#142a48" fill-opacity="0.88"/>
<circle cx="145.5" cy="375.8" r="0.6" fill="#142a48" fill-opacity="0.64"/>
<circle cx="143.6" cy="380.8" r="1.0" fill="#142a48" fill-opacity="0.82"/>
<circle cx="131.8" cy="372.1" r="1.2" fill="#142a48" fill-opacity="0.44"/>
<circle cx="165" cy="357" r="2.2" fill="#142a48" fill-opacity=".8" filter="url(#b05)"/>
<path d="M392,443 l5,-4 l3,3 l4,-5 l2,3" fill="none" stroke="#142a48" stroke-width=".7" stroke-opacity=".6"/>
<path d="M322,252 l3,3 l4,-1 l3,2" fill="none" stroke="#142a48" stroke-width=".8" stroke-opacity=".6"/>
<rect x="85.2" y="461.8" width="13.5" height="5.5" rx="2.2" fill="#142a48" fill-opacity="1.00" filter="url(#b1)"/>
<rect x="100.9" y="466.4" width="12.4" height="3.8" rx="1.9" fill="#142a48" fill-opacity="0.95" filter="url(#b1)"/>
<rect x="116.0" y="466.4" width="12.4" height="3.8" rx="1.9" fill="#142a48" fill-opacity="0.95" filter="url(#b1)"/>
<rect x="131.0" y="465.4" width="12.4" height="3.8" rx="1.9" fill="#142a48" fill-opacity="0.85" filter="url(#b1)"/>
<rect x="146.1" y="465.4" width="12.4" height="3.8" rx="1.9" fill="#142a48" fill-opacity="0.85" filter="url(#b1)"/>
<rect x="161.2" y="465.4" width="12.4" height="3.8" rx="1.9" fill="#142a48" fill-opacity="0.90" filter="url(#b1)"/>
<rect x="176.3" y="465.4" width="12.4" height="3.8" rx="1.9" fill="#142a48" fill-opacity="0.90" filter="url(#b1)"/>
<rect x="191.4" y="465.4" width="12.4" height="3.8" rx="1.9" fill="#142a48" fill-opacity="0.60" filter="url(#b1)"/>
<rect x="206.4" y="465.4" width="12.4" height="3.8" rx="1.9" fill="#142a48" fill-opacity="0.85" filter="url(#b1)"/>
<rect x="221.5" y="465.4" width="12.4" height="3.8" rx="1.9" fill="#142a48" fill-opacity="0.85" filter="url(#b1)"/>
<rect x="236.6" y="465.4" width="12.4" height="3.8" rx="1.9" fill="#142a48" fill-opacity="0.85" filter="url(#b1)"/>
<rect x="251.7" y="465.4" width="12.4" height="3.8" rx="1.9" fill="#142a48" fill-opacity="0.85" filter="url(#b1)"/>
<rect x="266.8" y="465.4" width="12.4" height="3.8" rx="1.9" fill="#142a48" fill-opacity="0.85" filter="url(#b1)"/>
<rect x="281.8" y="465.4" width="12.4" height="3.8" rx="1.9" fill="#142a48" fill-opacity="0.80" filter="url(#b1)"/>
<rect x="296.9" y="465.4" width="12.4" height="3.8" rx="1.9" fill="#142a48" fill-opacity="0.85" filter="url(#b1)"/>
<rect x="312.0" y="465.4" width="12.4" height="3.8" rx="1.9" fill="#142a48" fill-opacity="0.75" filter="url(#b1)"/>
<rect x="327.1" y="465.4" width="12.4" height="3.8" rx="1.9" fill="#142a48" fill-opacity="0.85" filter="url(#b1)"/>
<rect x="342.2" y="465.4" width="12.4" height="3.8" rx="1.9" fill="#142a48" fill-opacity="0.80" filter="url(#b1)"/>
<rect x="357.2" y="465.4" width="12.4" height="3.8" rx="1.9" fill="#142a48" fill-opacity="0.60" filter="url(#b1)"/>
<rect x="372.3" y="465.4" width="12.4" height="3.8" rx="1.9" fill="#142a48" fill-opacity="0.85" filter="url(#b1)"/>
<rect x="387.4" y="465.4" width="12.4" height="3.8" rx="1.9" fill="#142a48" fill-opacity="0.80" filter="url(#b1)"/>
<rect x="402.5" y="465.4" width="12.4" height="3.8" rx="1.9" fill="#142a48" fill-opacity="0.75" filter="url(#b1)"/>
<rect x="417.6" y="462.6" width="12.4" height="3.8" rx="1.9" fill="#142a48" fill-opacity="0.70" filter="url(#b1)"/>
<rect x="83.7" y="479" width="12.2" height="36.5" fill="#b7b6f1" fill-opacity="0.85" filter="url(#b1)"/>
<rect x="84.1" y="482.8" width="11.4" height="2.4" fill="#6f6ddb" fill-opacity="0.31" filter="url(#b05)"/>
<rect x="84.1" y="486.0" width="11.4" height="5.5" fill="#6f6ddb" fill-opacity="0.46" filter="url(#b1)"/>
<rect x="84.1" y="492.9" width="11.4" height="2.2" fill="#6f6ddb" fill-opacity="0.21" filter="url(#b05)"/>
<rect x="84.1" y="497.2" width="11.4" height="2.0" fill="#6f6ddb" fill-opacity="0.27" filter="url(#b05)"/>
<rect x="84.1" y="502.6" width="11.4" height="6.0" fill="#6f6ddb" fill-opacity="0.55" filter="url(#b1)"/>
<rect x="84.1" y="509.4" width="11.4" height="2.4" fill="#6f6ddb" fill-opacity="0.27" filter="url(#b05)"/>
<rect x="99.0" y="479" width="12.2" height="36.5" fill="#b7b6f1" fill-opacity="0.85" filter="url(#b1)"/>
<rect x="99.5" y="482.5" width="11.4" height="2.4" fill="#6f6ddb" fill-opacity="0.35" filter="url(#b05)"/>
<rect x="99.5" y="485.0" width="11.4" height="5.5" fill="#6f6ddb" fill-opacity="0.33" filter="url(#b1)"/>
<rect x="99.5" y="494.0" width="11.4" height="2.2" fill="#6f6ddb" fill-opacity="0.17" filter="url(#b05)"/>
<rect x="99.5" y="496.9" width="11.4" height="2.0" fill="#6f6ddb" fill-opacity="0.28" filter="url(#b05)"/>
<rect x="99.5" y="502.6" width="11.4" height="6.0" fill="#6f6ddb" fill-opacity="0.56" filter="url(#b1)"/>
<rect x="99.5" y="509.4" width="11.4" height="2.4" fill="#6f6ddb" fill-opacity="0.31" filter="url(#b05)"/>
<rect x="114.4" y="479" width="12.2" height="36.5" fill="#b7b6f1" fill-opacity="0.85" filter="url(#b1)"/>
<rect x="114.8" y="481.5" width="11.4" height="2.4" fill="#6f6ddb" fill-opacity="0.29" filter="url(#b05)"/>
<rect x="114.8" y="486.3" width="11.4" height="5.5" fill="#6f6ddb" fill-opacity="0.30" filter="url(#b1)"/>
<rect x="114.8" y="493.4" width="11.4" height="2.2" fill="#6f6ddb" fill-opacity="0.23" filter="url(#b05)"/>
<rect x="114.8" y="497.4" width="11.4" height="2.0" fill="#6f6ddb" fill-opacity="0.29" filter="url(#b05)"/>
<rect x="114.8" y="502.3" width="11.4" height="6.0" fill="#6f6ddb" fill-opacity="0.57" filter="url(#b1)"/>
<rect x="114.8" y="509.2" width="11.4" height="2.4" fill="#6f6ddb" fill-opacity="0.24" filter="url(#b05)"/>
<rect x="129.8" y="479" width="12.2" height="36.5" fill="#b7b6f1" fill-opacity="0.85" filter="url(#b1)"/>
<rect x="130.2" y="481.7" width="11.4" height="2.4" fill="#6f6ddb" fill-opacity="0.25" filter="url(#b05)"/>
<rect x="130.2" y="485.2" width="11.4" height="5.5" fill="#6f6ddb" fill-opacity="0.42" filter="url(#b1)"/>
<rect x="130.2" y="492.8" width="11.4" height="2.2" fill="#6f6ddb" fill-opacity="0.20" filter="url(#b05)"/>
<rect x="130.2" y="497.3" width="11.4" height="2.0" fill="#6f6ddb" fill-opacity="0.29" filter="url(#b05)"/>
<rect x="130.2" y="501.9" width="11.4" height="6.0" fill="#6f6ddb" fill-opacity="0.46" filter="url(#b1)"/>
<rect x="130.2" y="509.5" width="11.4" height="2.4" fill="#6f6ddb" fill-opacity="0.35" filter="url(#b05)"/>
<rect x="145.1" y="479" width="12.2" height="36.5" fill="#b7b6f1" fill-opacity="0.85" filter="url(#b1)"/>
<rect x="145.5" y="482.1" width="11.4" height="2.4" fill="#6f6ddb" fill-opacity="0.35" filter="url(#b05)"/>
<rect x="145.5" y="485.6" width="11.4" height="5.5" fill="#6f6ddb" fill-opacity="0.41" filter="url(#b1)"/>
<rect x="145.5" y="493.3" width="11.4" height="2.2" fill="#6f6ddb" fill-opacity="0.16" filter="url(#b05)"/>
<rect x="145.5" y="496.7" width="11.4" height="2.0" fill="#6f6ddb" fill-opacity="0.20" filter="url(#b05)"/>
<rect x="145.5" y="501.3" width="11.4" height="6.0" fill="#6f6ddb" fill-opacity="0.55" filter="url(#b1)"/>
<rect x="145.5" y="510.0" width="11.4" height="2.4" fill="#6f6ddb" fill-opacity="0.28" filter="url(#b05)"/>
<rect x="160.5" y="479" width="12.2" height="36.5" fill="#b7b6f1" fill-opacity="0.85" filter="url(#b1)"/>
<rect x="160.9" y="481.8" width="11.4" height="2.4" fill="#6f6ddb" fill-opacity="0.29" filter="url(#b05)"/>
<rect x="160.9" y="485.6" width="11.4" height="5.5" fill="#6f6ddb" fill-opacity="0.40" filter="url(#b1)"/>
<rect x="160.9" y="492.8" width="11.4" height="2.2" fill="#6f6ddb" fill-opacity="0.24" filter="url(#b05)"/>
<rect x="160.9" y="497.1" width="11.4" height="2.0" fill="#6f6ddb" fill-opacity="0.25" filter="url(#b05)"/>
<rect x="160.9" y="502.2" width="11.4" height="6.0" fill="#6f6ddb" fill-opacity="0.42" filter="url(#b1)"/>
<rect x="160.9" y="509.7" width="11.4" height="2.4" fill="#6f6ddb" fill-opacity="0.29" filter="url(#b05)"/>
<rect x="175.8" y="479" width="12.2" height="36.5" fill="#b7b6f1" fill-opacity="0.85" filter="url(#b1)"/>
<rect x="176.2" y="482.8" width="11.4" height="2.4" fill="#6f6ddb" fill-opacity="0.32" filter="url(#b05)"/>
<rect x="176.2" y="485.7" width="11.4" height="5.5" fill="#6f6ddb" fill-opacity="0.39" filter="url(#b1)"/>
<rect x="176.2" y="493.4" width="11.4" height="2.2" fill="#6f6ddb" fill-opacity="0.21" filter="url(#b05)"/>
<rect x="176.2" y="497.4" width="11.4" height="2.0" fill="#6f6ddb" fill-opacity="0.26" filter="url(#b05)"/>
<rect x="176.2" y="501.8" width="11.4" height="6.0" fill="#6f6ddb" fill-opacity="0.48" filter="url(#b1)"/>
<rect x="176.2" y="509.9" width="11.4" height="2.4" fill="#6f6ddb" fill-opacity="0.35" filter="url(#b05)"/>
<rect x="191.2" y="479" width="12.2" height="36.5" fill="#b7b6f1" fill-opacity="0.85" filter="url(#b1)"/>
<rect x="191.6" y="482.8" width="11.4" height="2.4" fill="#6f6ddb" fill-opacity="0.34" filter="url(#b05)"/>
<rect x="191.6" y="485.6" width="11.4" height="5.5" fill="#6f6ddb" fill-opacity="0.35" filter="url(#b1)"/>
<rect x="191.6" y="493.9" width="11.4" height="2.2" fill="#6f6ddb" fill-opacity="0.26" filter="url(#b05)"/>
<rect x="191.6" y="496.9" width="11.4" height="2.0" fill="#6f6ddb" fill-opacity="0.19" filter="url(#b05)"/>
<rect x="191.6" y="501.1" width="11.4" height="6.0" fill="#6f6ddb" fill-opacity="0.46" filter="url(#b1)"/>
<rect x="191.6" y="508.9" width="11.4" height="2.4" fill="#6f6ddb" fill-opacity="0.25" filter="url(#b05)"/>
<rect x="206.5" y="479" width="12.2" height="36.5" fill="#b7b6f1" fill-opacity="0.85" filter="url(#b1)"/>
<rect x="206.9" y="482.6" width="11.4" height="2.4" fill="#6f6ddb" fill-opacity="0.31" filter="url(#b05)"/>
<rect x="206.9" y="485.0" width="11.4" height="5.5" fill="#6f6ddb" fill-opacity="0.48" filter="url(#b1)"/>
<rect x="206.9" y="493.7" width="11.4" height="2.2" fill="#6f6ddb" fill-opacity="0.23" filter="url(#b05)"/>
<rect x="206.9" y="498.1" width="11.4" height="2.0" fill="#6f6ddb" fill-opacity="0.19" filter="url(#b05)"/>
<rect x="206.9" y="501.4" width="11.4" height="6.0" fill="#6f6ddb" fill-opacity="0.59" filter="url(#b1)"/>
<rect x="206.9" y="509.4" width="11.4" height="2.4" fill="#6f6ddb" fill-opacity="0.35" filter="url(#b05)"/>
<rect x="221.8" y="479" width="12.2" height="36.5" fill="#b7b6f1" fill-opacity="0.85" filter="url(#b1)"/>
<rect x="222.2" y="482.9" width="11.4" height="2.4" fill="#6f6ddb" fill-opacity="0.28" filter="url(#b05)"/>
<rect x="222.2" y="485.0" width="11.4" height="5.5" fill="#6f6ddb" fill-opacity="0.47" filter="url(#b1)"/>
<rect x="222.2" y="493.4" width="11.4" height="2.2" fill="#6f6ddb" fill-opacity="0.20" filter="url(#b05)"/>
<rect x="222.2" y="497.0" width="11.4" height="2.0" fill="#6f6ddb" fill-opacity="0.22" filter="url(#b05)"/>
<rect x="222.2" y="502.2" width="11.4" height="6.0" fill="#6f6ddb" fill-opacity="0.43" filter="url(#b1)"/>
<rect x="222.2" y="509.7" width="11.4" height="2.4" fill="#6f6ddb" fill-opacity="0.21" filter="url(#b05)"/>
<rect x="237.2" y="479" width="12.2" height="36.5" fill="#b7b6f1" fill-opacity="0.85" filter="url(#b1)"/>
<rect x="237.6" y="481.3" width="11.4" height="2.4" fill="#6f6ddb" fill-opacity="0.28" filter="url(#b05)"/>
<rect x="237.6" y="485.7" width="11.4" height="5.5" fill="#6f6ddb" fill-opacity="0.36" filter="url(#b1)"/>
<rect x="237.6" y="492.7" width="11.4" height="2.2" fill="#6f6ddb" fill-opacity="0.21" filter="url(#b05)"/>
<rect x="237.6" y="498.0" width="11.4" height="2.0" fill="#6f6ddb" fill-opacity="0.30" filter="url(#b05)"/>
<rect x="237.6" y="501.2" width="11.4" height="6.0" fill="#6f6ddb" fill-opacity="0.59" filter="url(#b1)"/>
<rect x="237.6" y="508.9" width="11.4" height="2.4" fill="#6f6ddb" fill-opacity="0.25" filter="url(#b05)"/>
<rect x="252.5" y="479" width="12.2" height="36.5" fill="#b7b6f1" fill-opacity="0.85" filter="url(#b1)"/>
<rect x="252.9" y="481.7" width="11.4" height="2.4" fill="#6f6ddb" fill-opacity="0.33" filter="url(#b05)"/>
<rect x="252.9" y="485.4" width="11.4" height="5.5" fill="#6f6ddb" fill-opacity="0.32" filter="url(#b1)"/>
<rect x="252.9" y="493.9" width="11.4" height="2.2" fill="#6f6ddb" fill-opacity="0.25" filter="url(#b05)"/>
<rect x="252.9" y="496.9" width="11.4" height="2.0" fill="#6f6ddb" fill-opacity="0.21" filter="url(#b05)"/>
<rect x="252.9" y="501.9" width="11.4" height="6.0" fill="#6f6ddb" fill-opacity="0.58" filter="url(#b1)"/>
<rect x="252.9" y="508.9" width="11.4" height="2.4" fill="#6f6ddb" fill-opacity="0.32" filter="url(#b05)"/>
<rect x="267.9" y="479" width="12.2" height="36.5" fill="#b7b6f1" fill-opacity="0.85" filter="url(#b1)"/>
<rect x="268.3" y="482.4" width="11.4" height="2.4" fill="#6f6ddb" fill-opacity="0.22" filter="url(#b05)"/>
<rect x="268.3" y="484.9" width="11.4" height="5.5" fill="#6f6ddb" fill-opacity="0.38" filter="url(#b1)"/>
<rect x="268.3" y="493.6" width="11.4" height="2.2" fill="#6f6ddb" fill-opacity="0.26" filter="url(#b05)"/>
<rect x="268.3" y="496.8" width="11.4" height="2.0" fill="#6f6ddb" fill-opacity="0.28" filter="url(#b05)"/>
<rect x="268.3" y="501.1" width="11.4" height="6.0" fill="#6f6ddb" fill-opacity="0.56" filter="url(#b1)"/>
<rect x="268.3" y="509.5" width="11.4" height="2.4" fill="#6f6ddb" fill-opacity="0.34" filter="url(#b05)"/>
<rect x="283.2" y="479" width="12.2" height="36.5" fill="#b7b6f1" fill-opacity="0.85" filter="url(#b1)"/>
<rect x="283.6" y="482.2" width="11.4" height="2.4" fill="#6f6ddb" fill-opacity="0.26" filter="url(#b05)"/>
<rect x="283.6" y="485.2" width="11.4" height="5.5" fill="#6f6ddb" fill-opacity="0.49" filter="url(#b1)"/>
<rect x="283.6" y="493.4" width="11.4" height="2.2" fill="#6f6ddb" fill-opacity="0.17" filter="url(#b05)"/>
<rect x="283.6" y="496.9" width="11.4" height="2.0" fill="#6f6ddb" fill-opacity="0.20" filter="url(#b05)"/>
<rect x="283.6" y="501.1" width="11.4" height="6.0" fill="#6f6ddb" fill-opacity="0.39" filter="url(#b1)"/>
<rect x="283.6" y="509.3" width="11.4" height="2.4" fill="#6f6ddb" fill-opacity="0.24" filter="url(#b05)"/>
<rect x="298.6" y="479" width="12.2" height="36.5" fill="#b7b6f1" fill-opacity="0.85" filter="url(#b1)"/>
<rect x="299.0" y="482.5" width="11.4" height="2.4" fill="#6f6ddb" fill-opacity="0.26" filter="url(#b05)"/>
<rect x="299.0" y="485.6" width="11.4" height="5.5" fill="#6f6ddb" fill-opacity="0.35" filter="url(#b1)"/>
<rect x="299.0" y="493.2" width="11.4" height="2.2" fill="#6f6ddb" fill-opacity="0.17" filter="url(#b05)"/>
<rect x="299.0" y="497.1" width="11.4" height="2.0" fill="#6f6ddb" fill-opacity="0.18" filter="url(#b05)"/>
<rect x="299.0" y="502.2" width="11.4" height="6.0" fill="#6f6ddb" fill-opacity="0.35" filter="url(#b1)"/>
<rect x="299.0" y="509.1" width="11.4" height="2.4" fill="#6f6ddb" fill-opacity="0.29" filter="url(#b05)"/>
<rect x="313.9" y="479" width="12.2" height="36.5" fill="#b7b6f1" fill-opacity="0.85" filter="url(#b1)"/>
<rect x="314.3" y="482.8" width="11.4" height="2.4" fill="#6f6ddb" fill-opacity="0.28" filter="url(#b05)"/>
<rect x="314.3" y="486.1" width="11.4" height="5.5" fill="#6f6ddb" fill-opacity="0.32" filter="url(#b1)"/>
<rect x="314.3" y="493.4" width="11.4" height="2.2" fill="#6f6ddb" fill-opacity="0.20" filter="url(#b05)"/>
<rect x="314.3" y="497.3" width="11.4" height="2.0" fill="#6f6ddb" fill-opacity="0.28" filter="url(#b05)"/>
<rect x="314.3" y="502.1" width="11.4" height="6.0" fill="#6f6ddb" fill-opacity="0.48" filter="url(#b1)"/>
<rect x="314.3" y="509.3" width="11.4" height="2.4" fill="#6f6ddb" fill-opacity="0.36" filter="url(#b05)"/>
<rect x="329.3" y="479" width="12.2" height="36.5" fill="#b7b6f1" fill-opacity="0.85" filter="url(#b1)"/>
<rect x="329.7" y="482.4" width="11.4" height="2.4" fill="#6f6ddb" fill-opacity="0.33" filter="url(#b05)"/>
<rect x="329.7" y="485.4" width="11.4" height="5.5" fill="#6f6ddb" fill-opacity="0.43" filter="url(#b1)"/>
<rect x="329.7" y="492.7" width="11.4" height="2.2" fill="#6f6ddb" fill-opacity="0.19" filter="url(#b05)"/>
<rect x="329.7" y="496.8" width="11.4" height="2.0" fill="#6f6ddb" fill-opacity="0.19" filter="url(#b05)"/>
<rect x="329.7" y="501.4" width="11.4" height="6.0" fill="#6f6ddb" fill-opacity="0.54" filter="url(#b1)"/>
<rect x="329.7" y="508.9" width="11.4" height="2.4" fill="#6f6ddb" fill-opacity="0.23" filter="url(#b05)"/>
<rect x="344.6" y="479" width="12.2" height="36.5" fill="#b7b6f1" fill-opacity="0.85" filter="url(#b1)"/>
<rect x="345.0" y="482.7" width="11.4" height="2.4" fill="#6f6ddb" fill-opacity="0.34" filter="url(#b05)"/>
<rect x="345.0" y="485.2" width="11.4" height="5.5" fill="#6f6ddb" fill-opacity="0.43" filter="url(#b1)"/>
<rect x="345.0" y="493.1" width="11.4" height="2.2" fill="#6f6ddb" fill-opacity="0.18" filter="url(#b05)"/>
<rect x="345.0" y="497.0" width="11.4" height="2.0" fill="#6f6ddb" fill-opacity="0.23" filter="url(#b05)"/>
<rect x="345.0" y="501.4" width="11.4" height="6.0" fill="#6f6ddb" fill-opacity="0.46" filter="url(#b1)"/>
<rect x="345.0" y="510.4" width="11.4" height="2.4" fill="#6f6ddb" fill-opacity="0.35" filter="url(#b05)"/>
<rect x="360.0" y="479" width="12.2" height="36.5" fill="#b7b6f1" fill-opacity="0.85" filter="url(#b1)"/>
<rect x="360.4" y="481.7" width="11.4" height="2.4" fill="#6f6ddb" fill-opacity="0.29" filter="url(#b05)"/>
<rect x="360.4" y="485.2" width="11.4" height="5.5" fill="#6f6ddb" fill-opacity="0.50" filter="url(#b1)"/>
<rect x="360.4" y="492.6" width="11.4" height="2.2" fill="#6f6ddb" fill-opacity="0.19" filter="url(#b05)"/>
<rect x="360.4" y="497.5" width="11.4" height="2.0" fill="#6f6ddb" fill-opacity="0.22" filter="url(#b05)"/>
<rect x="360.4" y="501.3" width="11.4" height="6.0" fill="#6f6ddb" fill-opacity="0.48" filter="url(#b1)"/>
<rect x="360.4" y="508.8" width="11.4" height="2.4" fill="#6f6ddb" fill-opacity="0.29" filter="url(#b05)"/>
<rect x="375.3" y="479" width="12.2" height="36.5" fill="#b7b6f1" fill-opacity="0.85" filter="url(#b1)"/>
<rect x="375.7" y="481.4" width="11.4" height="2.4" fill="#6f6ddb" fill-opacity="0.25" filter="url(#b05)"/>
<rect x="375.7" y="484.8" width="11.4" height="5.5" fill="#6f6ddb" fill-opacity="0.38" filter="url(#b1)"/>
<rect x="375.7" y="493.1" width="11.4" height="2.2" fill="#6f6ddb" fill-opacity="0.16" filter="url(#b05)"/>
<rect x="375.7" y="497.6" width="11.4" height="2.0" fill="#6f6ddb" fill-opacity="0.20" filter="url(#b05)"/>
<rect x="375.7" y="502.2" width="11.4" height="6.0" fill="#6f6ddb" fill-opacity="0.48" filter="url(#b1)"/>
<rect x="375.7" y="509.9" width="11.4" height="2.4" fill="#6f6ddb" fill-opacity="0.31" filter="url(#b05)"/>
<rect x="390.7" y="479" width="12.2" height="36.5" fill="#b7b6f1" fill-opacity="0.85" filter="url(#b1)"/>
<rect x="391.1" y="481.9" width="11.4" height="2.4" fill="#6f6ddb" fill-opacity="0.34" filter="url(#b05)"/>
<rect x="391.1" y="486.3" width="11.4" height="5.5" fill="#6f6ddb" fill-opacity="0.36" filter="url(#b1)"/>
<rect x="391.1" y="493.8" width="11.4" height="2.2" fill="#6f6ddb" fill-opacity="0.17" filter="url(#b05)"/>
<rect x="391.1" y="496.8" width="11.4" height="2.0" fill="#6f6ddb" fill-opacity="0.26" filter="url(#b05)"/>
<rect x="391.1" y="502.4" width="11.4" height="6.0" fill="#6f6ddb" fill-opacity="0.56" filter="url(#b1)"/>
<rect x="391.1" y="510.0" width="11.4" height="2.4" fill="#6f6ddb" fill-opacity="0.30" filter="url(#b05)"/>
<rect x="406.0" y="479" width="12.2" height="36.5" fill="#b7b6f1" fill-opacity="0.85" filter="url(#b1)"/>
<rect x="406.4" y="481.5" width="11.4" height="2.4" fill="#6f6ddb" fill-opacity="0.33" filter="url(#b05)"/>
<rect x="406.4" y="485.6" width="11.4" height="5.5" fill="#6f6ddb" fill-opacity="0.40" filter="url(#b1)"/>
<rect x="406.4" y="493.9" width="11.4" height="2.2" fill="#6f6ddb" fill-opacity="0.25" filter="url(#b05)"/>
<rect x="406.4" y="497.6" width="11.4" height="2.0" fill="#6f6ddb" fill-opacity="0.28" filter="url(#b05)"/>
<rect x="406.4" y="502.1" width="11.4" height="6.0" fill="#6f6ddb" fill-opacity="0.57" filter="url(#b1)"/>
<rect x="406.4" y="509.2" width="11.4" height="2.4" fill="#6f6ddb" fill-opacity="0.31" filter="url(#b05)"/>
<rect x="421.4" y="479" width="12.2" height="36.5" fill="#b7b6f1" fill-opacity="0.85" filter="url(#b1)"/>
<rect x="421.8" y="481.5" width="11.4" height="2.4" fill="#6f6ddb" fill-opacity="0.21" filter="url(#b05)"/>
<rect x="421.8" y="484.9" width="11.4" height="5.5" fill="#6f6ddb" fill-opacity="0.37" filter="url(#b1)"/>
<rect x="421.8" y="493.5" width="11.4" height="2.2" fill="#6f6ddb" fill-opacity="0.25" filter="url(#b05)"/>
<rect x="421.8" y="497.7" width="11.4" height="2.0" fill="#6f6ddb" fill-opacity="0.25" filter="url(#b05)"/>
<rect x="421.8" y="501.8" width="11.4" height="6.0" fill="#6f6ddb" fill-opacity="0.52" filter="url(#b1)"/>
<rect x="421.8" y="510.1" width="11.4" height="2.4" fill="#6f6ddb" fill-opacity="0.21" filter="url(#b05)"/>
</g>
<line x1="80.6" y1="93.6" x2="437.1" y2="93.6" stroke="#0a0a14" stroke-width="1.7" />
<line x1="80.6" y1="119.5" x2="437.1" y2="119.5" stroke="#0a0a14" stroke-width="1.7" />
<line x1="80.6" y1="133.8" x2="437.1" y2="133.8" stroke="#0a0a14" stroke-width="1.7" />
<line x1="80.6" y1="147.9" x2="437.1" y2="147.9" stroke="#0a0a14" stroke-width="1.7" />
<line x1="80.6" y1="168.4" x2="437.1" y2="168.4" stroke="#0a0a14" stroke-width="1.7" />
<line x1="80.6" y1="204.6" x2="437.1" y2="204.6" stroke="#0a0a14" stroke-width="1.7" />
<line x1="80.6" y1="224.6" x2="437.1" y2="224.6" stroke="#0a0a14" stroke-width="1.7" />
<line x1="80.6" y1="248" x2="437.1" y2="248" stroke="#0a0a14" stroke-width="1.7" />
<line x1="80.6" y1="452.9" x2="437.1" y2="452.9" stroke="#0a0a14" stroke-width="1.7" />
<line x1="80.6" y1="477.5" x2="437.1" y2="477.5" stroke="#0a0a14" stroke-width="1.7" />
<line x1="79.89999999999999" y1="61.1" x2="437.8" y2="61.1" stroke="#0a0a14" stroke-width="1.4" />
<line x1="80.6" y1="60.4" x2="80.6" y2="517" stroke="#1e2e4a" stroke-width="1.35" />
<line x1="437.1" y1="60.4" x2="437.1" y2="517" stroke="#1e2e4a" stroke-width="1.35" />
<line x1="79.89999999999999" y1="516.3" x2="437.8" y2="516.3" stroke="#0a0a14" stroke-width="1.5" />
<text x="75.6" y="80.4" font-size="13.6" font-weight="normal" text-anchor="end" fill="#000" textLength="15.6" lengthAdjust="spacingAndGlyphs" >27</text>
<text x="75.6" y="110.1" font-size="13.6" font-weight="normal" text-anchor="end" fill="#000" textLength="15.6" lengthAdjust="spacingAndGlyphs" >55</text>
<text x="75.6" y="130.6" font-size="13.6" font-weight="normal" text-anchor="end" fill="#000" textLength="15.6" lengthAdjust="spacingAndGlyphs" >78</text>
<text x="75.6" y="145.4" font-size="13.6" font-weight="normal" text-anchor="end" fill="#000" textLength="15.6" lengthAdjust="spacingAndGlyphs" >57</text>
<text x="75.6" y="161" font-size="13.6" font-weight="normal" text-anchor="end" fill="#000" textLength="15.6" lengthAdjust="spacingAndGlyphs" >60</text>
<text x="75.6" y="193" font-size="13.6" font-weight="normal" text-anchor="end" fill="#000" textLength="15.6" lengthAdjust="spacingAndGlyphs" >38</text>
<text x="75.6" y="221" font-size="13.6" font-weight="normal" text-anchor="end" fill="#000" textLength="15.6" lengthAdjust="spacingAndGlyphs" >36</text>
<text x="75.6" y="239.3" font-size="13.6" font-weight="normal" text-anchor="end" fill="#000" textLength="15.6" lengthAdjust="spacingAndGlyphs" >31</text>
<text x="75.6" y="334.3" font-size="13.6" font-weight="normal" text-anchor="end" fill="#000" textLength="15.6" lengthAdjust="spacingAndGlyphs" >50</text>
<text x="75.6" y="470.3" font-size="13.6" font-weight="normal" text-anchor="end" fill="#000" textLength="15.6" lengthAdjust="spacingAndGlyphs" >55</text>
<text x="439.1" y="81.7" font-size="13.6" font-weight="normal" text-anchor="start" fill="#000" textLength="79.4" lengthAdjust="spacingAndGlyphs" >Adiponectin</text>
<text x="459.8" y="103.0" font-size="9.8" font-weight="normal" text-anchor="start" fill="#000" textLength="36" lengthAdjust="spacingAndGlyphs" >PPAR&#947;2</text>
<text x="459.8" y="115.9" font-size="9.8" font-weight="normal" text-anchor="start" fill="#000" textLength="36" lengthAdjust="spacingAndGlyphs" >PPAR&#947;1</text>
<line x1="439.8" y1="99.8" x2="458.2" y2="99.8" stroke="#000" stroke-width="1.1" />
<path d="M445.4,96.0 L439.2,99.8 L445.4,103.6" fill="none" stroke="#000" stroke-width="1.1"/>
<line x1="439.8" y1="112.8" x2="458.2" y2="112.8" stroke="#000" stroke-width="1.1" />
<path d="M445.4,109.0 L439.2,112.8 L445.4,116.6" fill="none" stroke="#000" stroke-width="1.1"/>
<line x1="440.40000000000003" y1="177.2" x2="460.3" y2="177.2" stroke="#000" stroke-width="1.1" />
<path d="M447.2,172.89999999999998 L439.8,177.2 L447.2,181.5" fill="none" stroke="#000" stroke-width="1.1"/>
<text x="439.1" y="130.6" font-size="13.6" font-weight="normal" text-anchor="start" fill="#000" textLength="47.5" lengthAdjust="spacingAndGlyphs" >GRP 78</text>
<text x="439.6" y="146.1" font-size="13.6" font-weight="normal" text-anchor="start" fill="#000" textLength="21" lengthAdjust="spacingAndGlyphs" >PDI</text>
<text x="439.40000000000003" y="163.1" font-size="13.6" font-weight="normal" text-anchor="start" fill="#000" textLength="50.5" lengthAdjust="spacingAndGlyphs" >Ero1-L&#945;</text>
<text x="439.1" y="191.4" font-size="13.6" font-weight="normal" text-anchor="start" fill="#000" textLength="50" lengthAdjust="spacingAndGlyphs" >p-eIF2&#945;</text>
<text x="439.1" y="218.9" font-size="13.6" font-weight="normal" text-anchor="start" fill="#000" textLength="36" lengthAdjust="spacingAndGlyphs" >eIF2&#945;</text>
<text x="439.1" y="239.1" font-size="13.6" font-weight="normal" text-anchor="start" fill="#000" textLength="36.5" lengthAdjust="spacingAndGlyphs" >CHOP</text>
<text x="439.1" y="342" font-size="13.6" font-weight="normal" text-anchor="start" fill="#000" textLength="54.8" lengthAdjust="spacingAndGlyphs" >anti-2SC</text>
<text x="439.70000000000005" y="470.2" font-size="13.6" font-weight="normal" text-anchor="start" fill="#000" textLength="60.3" lengthAdjust="spacingAndGlyphs" >&#946;-Tubulin</text>
<text x="439.1" y="498.6" font-size="13.6" font-weight="normal" text-anchor="start" fill="#000" textLength="70" lengthAdjust="spacingAndGlyphs" >Coomassie</text>
<line x1="90.5" y1="537.6" x2="255.3" y2="537.6" stroke="#555" stroke-width="1" />
<line x1="255.3" y1="537.6" x2="255.3" y2="681.2" stroke="#222" stroke-width="1.1" />
<line x1="90.5" y1="537.1" x2="90.5" y2="681.2" stroke="#000" stroke-width="1.1" />
<line x1="90.5" y1="681.2" x2="255.8" y2="681.2" stroke="#000" stroke-width="1.1" />
<rect x="88.5" y="659.5" width="4" height="11.0" fill="#fff" />
<line x1="87.1" y1="662.6" x2="93.5" y2="658.3" stroke="#000" stroke-width="1" />
<line x1="87.1" y1="671.6" x2="93.5" y2="667.3" stroke="#000" stroke-width="1" />
<line x1="87.5" y1="537.9" x2="90.5" y2="537.9" stroke="#000" stroke-width="1" />
<text x="85.1" y="541.5" font-size="10.4" font-weight="bold" text-anchor="end" fill="#000" textLength="5" lengthAdjust="spacingAndGlyphs" >6</text>
<line x1="87.5" y1="565.7" x2="90.5" y2="565.7" stroke="#000" stroke-width="1" />
<text x="85.1" y="569.3000000000001" font-size="10.4" font-weight="bold" text-anchor="end" fill="#000" textLength="5" lengthAdjust="spacingAndGlyphs" >5</text>
<line x1="87.5" y1="593.6" x2="90.5" y2="593.6" stroke="#000" stroke-width="1" />
<text x="85.1" y="597.2" font-size="10.4" font-weight="bold" text-anchor="end" fill="#000" textLength="5" lengthAdjust="spacingAndGlyphs" >4</text>
<line x1="87.5" y1="621.4" x2="90.5" y2="621.4" stroke="#000" stroke-width="1" />
<text x="85.1" y="625.0" font-size="10.4" font-weight="bold" text-anchor="end" fill="#000" textLength="5" lengthAdjust="spacingAndGlyphs" >3</text>
<line x1="87.5" y1="649.6" x2="90.5" y2="649.6" stroke="#000" stroke-width="1" />
<text x="85.1" y="653.2" font-size="10.4" font-weight="bold" text-anchor="end" fill="#000" textLength="5" lengthAdjust="spacingAndGlyphs" >2</text>
<line x1="87.5" y1="681.2" x2="90.5" y2="681.2" stroke="#000" stroke-width="1" />
<text x="85.1" y="684.8000000000001" font-size="10.4" font-weight="bold" text-anchor="end" fill="#000" textLength="5" lengthAdjust="spacingAndGlyphs" >0</text>
<line x1="103.0" y1="681.2" x2="103.0" y2="684.2" stroke="#000" stroke-width="1" />
<text transform="translate(101.8,693.8000000000001) rotate(-45)" font-size="10" font-weight="bold" text-anchor="middle" textLength="5.2" lengthAdjust="spacingAndGlyphs" dy="3.3">F</text>
<line x1="128.7" y1="681.2" x2="128.7" y2="684.2" stroke="#000" stroke-width="1" />
<text transform="translate(127.49999999999999,693.8000000000001) rotate(-45)" font-size="10" font-weight="bold" text-anchor="middle" textLength="11.5" lengthAdjust="spacingAndGlyphs" dy="3.3">D2</text>
<line x1="154.6" y1="681.2" x2="154.6" y2="684.2" stroke="#000" stroke-width="1" />
<text transform="translate(153.4,693.8000000000001) rotate(-45)" font-size="10" font-weight="bold" text-anchor="middle" textLength="11.5" lengthAdjust="spacingAndGlyphs" dy="3.3">M1</text>
<line x1="179.8" y1="681.2" x2="179.8" y2="684.2" stroke="#000" stroke-width="1" />
<text transform="translate(178.60000000000002,693.8000000000001) rotate(-45)" font-size="10" font-weight="bold" text-anchor="middle" textLength="11.5" lengthAdjust="spacingAndGlyphs" dy="3.3">M3</text>
<line x1="206.0" y1="681.2" x2="206.0" y2="684.2" stroke="#000" stroke-width="1" />
<text transform="translate(204.8,693.8000000000001) rotate(-45)" font-size="10" font-weight="bold" text-anchor="middle" textLength="11.5" lengthAdjust="spacingAndGlyphs" dy="3.3">M5</text>
<line x1="231.3" y1="681.2" x2="231.3" y2="684.2" stroke="#000" stroke-width="1" />
<text transform="translate(230.10000000000002,693.8000000000001) rotate(-45)" font-size="10" font-weight="bold" text-anchor="middle" textLength="11.5" lengthAdjust="spacingAndGlyphs" dy="3.3">M7</text>
<line x1="244.5" y1="681.2" x2="244.5" y2="684.2" stroke="#000" stroke-width="1" />
<text transform="translate(243.3,693.8000000000001) rotate(-45)" font-size="10" font-weight="bold" text-anchor="middle" textLength="11.5" lengthAdjust="spacingAndGlyphs" dy="3.3">M8</text>
<polyline points="103.0,657.1 128.7,645.7 154.6,598.6 179.8,618.7 206.0,605.7 231.3,571.6 244.5,543.9" fill="none" stroke="#333" stroke-width="1"/>
<polyline points="103.0,657.1 128.7,645.9 154.6,614.2 179.8,608.4 206.0,616.9 231.3,597.5 244.5,573.7" fill="none" stroke="#b4b4b4" stroke-width="1" stroke-dasharray="3.5 .8"/>
<circle cx="103.0" cy="657.1" r="2.5" fill="#000"/>
<circle cx="128.7" cy="645.7" r="2.5" fill="#000"/>
<circle cx="154.6" cy="598.6" r="2.5" fill="#000"/>
<circle cx="179.8" cy="618.7" r="2.5" fill="#000"/>
<circle cx="206.0" cy="605.7" r="2.5" fill="#000"/>
<circle cx="231.3" cy="571.6" r="2.5" fill="#000"/>
<circle cx="244.5" cy="543.9" r="2.5" fill="#000"/>
<circle cx="103.0" cy="657.1" r="2.4" fill="#c6c6c6"/>
<circle cx="128.7" cy="645.9" r="2.4" fill="#c6c6c6"/>
<circle cx="154.6" cy="614.2" r="2.4" fill="#c6c6c6"/>
<circle cx="179.8" cy="608.4" r="2.4" fill="#c6c6c6"/>
<circle cx="206.0" cy="616.9" r="2.4" fill="#c6c6c6"/>
<circle cx="231.3" cy="597.5" r="2.4" fill="#c6c6c6"/>
<circle cx="244.5" cy="573.7" r="2.4" fill="#c6c6c6"/>
<rect x="92.4" y="540" width="42.599999999999994" height="25.600000000000023" fill="#fff" stroke="#000" stroke-width="1"/>
<line x1="95" y1="547.8" x2="109.7" y2="547.8" stroke="#333" stroke-width="1" />
<circle cx="102.5" cy="547.8" r="2.2" fill="#000"/>
<line x1="95" y1="557.9" x2="109.7" y2="557.9" stroke="#b4b4b4" stroke-width="1" stroke-dasharray="3.5 .8"/>
<circle cx="102.5" cy="557.9" r="2.1" fill="#c6c6c6"/>
<text x="114.0" y="550.4" font-size="7.2" font-weight="bold" text-anchor="start" fill="#000" textLength="13.8" lengthAdjust="spacingAndGlyphs" >5mM</text>
<text x="112.8" y="560.5" font-size="7.2" font-weight="bold" text-anchor="start" fill="#000" textLength="17.4" lengthAdjust="spacingAndGlyphs" >30mM</text>
<text transform="translate(77.4,609.5) rotate(-90)" font-size="10.2" font-weight="bold" text-anchor="middle" textLength="117" lengthAdjust="spacingAndGlyphs" fill="#000">Adiponectin/Coomassie</text>
<text x="262" y="554.8" font-size="16.3" font-weight="bold" text-anchor="start" fill="#000" textLength="11.8" lengthAdjust="spacingAndGlyphs" >B</text>
<line x1="298.4" y1="537.2" x2="461.0" y2="537.2" stroke="#555" stroke-width="1" />
<line x1="461.0" y1="537.2" x2="461.0" y2="680.6" stroke="#222" stroke-width="1.1" />
<line x1="298.4" y1="536.7" x2="298.4" y2="680.6" stroke="#000" stroke-width="1.1" />
<line x1="298.4" y1="680.6" x2="461.5" y2="680.6" stroke="#000" stroke-width="1.1" />
<rect x="296.4" y="666" width="4" height="8.399999999999977" fill="#fff" />
<line x1="295.0" y1="669.1" x2="301.4" y2="664.8" stroke="#000" stroke-width="1" />
<line x1="295.0" y1="675.5" x2="301.4" y2="671.1999999999999" stroke="#000" stroke-width="1" />
<line x1="295.4" y1="537.4" x2="298.4" y2="537.4" stroke="#000" stroke-width="1" />
<text x="292.4" y="541.0" font-size="10.4" font-weight="bold" text-anchor="end" fill="#000" textLength="11.5" lengthAdjust="spacingAndGlyphs" >3.5</text>
<line x1="295.4" y1="567.7" x2="298.4" y2="567.7" stroke="#000" stroke-width="1" />
<text x="292.4" y="571.3000000000001" font-size="10.4" font-weight="bold" text-anchor="end" fill="#000" textLength="11.5" lengthAdjust="spacingAndGlyphs" >3.0</text>
<line x1="295.4" y1="599.6" x2="298.4" y2="599.6" stroke="#000" stroke-width="1" />
<text x="292.4" y="603.2" font-size="10.4" font-weight="bold" text-anchor="end" fill="#000" textLength="11.5" lengthAdjust="spacingAndGlyphs" >2.5</text>
<line x1="295.4" y1="631.2" x2="298.4" y2="631.2" stroke="#000" stroke-width="1" />
<text x="292.4" y="634.8000000000001" font-size="10.4" font-weight="bold" text-anchor="end" fill="#000" textLength="11.5" lengthAdjust="spacingAndGlyphs" >2.0</text>
<line x1="295.4" y1="663" x2="298.4" y2="663" stroke="#000" stroke-width="1" />
<text x="292.4" y="666.6" font-size="10.4" font-weight="bold" text-anchor="end" fill="#000" textLength="11.5" lengthAdjust="spacingAndGlyphs" >1.5</text>
<line x1="295.4" y1="680.6" x2="298.4" y2="680.6" stroke="#000" stroke-width="1" />
<text x="292.4" y="684.2" font-size="10.4" font-weight="bold" text-anchor="end" fill="#000" textLength="11.5" lengthAdjust="spacingAndGlyphs" >0.0</text>
<line x1="307.4" y1="680.6" x2="307.4" y2="683.6" stroke="#000" stroke-width="1" />
<text transform="translate(306.2,693.2) rotate(-45)" font-size="10" font-weight="bold" text-anchor="middle" textLength="5.2" lengthAdjust="spacingAndGlyphs" dy="3.3">F</text>
<line x1="333.2" y1="680.6" x2="333.2" y2="683.6" stroke="#000" stroke-width="1" />
<text transform="translate(332.0,693.2) rotate(-45)" font-size="10" font-weight="bold" text-anchor="middle" textLength="11.5" lengthAdjust="spacingAndGlyphs" dy="3.3">D2</text>
<line x1="359.0" y1="680.6" x2="359.0" y2="683.6" stroke="#000" stroke-width="1" />
<text transform="translate(357.8,693.2) rotate(-45)" font-size="10" font-weight="bold" text-anchor="middle" textLength="11.5" lengthAdjust="spacingAndGlyphs" dy="3.3">M1</text>
<line x1="384.6" y1="680.6" x2="384.6" y2="683.6" stroke="#000" stroke-width="1" />
<text transform="translate(383.40000000000003,693.2) rotate(-45)" font-size="10" font-weight="bold" text-anchor="middle" textLength="11.5" lengthAdjust="spacingAndGlyphs" dy="3.3">M3</text>
<line x1="410.3" y1="680.6" x2="410.3" y2="683.6" stroke="#000" stroke-width="1" />
<text transform="translate(409.1,693.2) rotate(-45)" font-size="10" font-weight="bold" text-anchor="middle" textLength="11.5" lengthAdjust="spacingAndGlyphs" dy="3.3">M5</text>
<line x1="435.6" y1="680.6" x2="435.6" y2="683.6" stroke="#000" stroke-width="1" />
<text transform="translate(434.40000000000003,693.2) rotate(-45)" font-size="10" font-weight="bold" text-anchor="middle" textLength="11.5" lengthAdjust="spacingAndGlyphs" dy="3.3">M7</text>
<line x1="448.6" y1="680.6" x2="448.6" y2="683.6" stroke="#000" stroke-width="1" />
<text transform="translate(447.40000000000003,693.2) rotate(-45)" font-size="10" font-weight="bold" text-anchor="middle" textLength="11.5" lengthAdjust="spacingAndGlyphs" dy="3.3">M8</text>
<polyline points="307.4,635.1 333.2,617.2 359.0,602.1 384.6,591.8 410.3,564.6 435.6,591.8 448.6,572.9" fill="none" stroke="#333" stroke-width="1"/>
<polyline points="307.4,635.1 333.2,617.2 359.0,609.1 384.6,600.6 410.3,595.4 435.6,575.0 448.6,566.4" fill="none" stroke="#b4b4b4" stroke-width="1" stroke-dasharray="3.5 .8"/>
<circle cx="307.4" cy="635.1" r="2.5" fill="#000"/>
<circle cx="333.2" cy="617.2" r="2.5" fill="#000"/>
<circle cx="359.0" cy="602.1" r="2.5" fill="#000"/>
<circle cx="384.6" cy="591.8" r="2.5" fill="#000"/>
<circle cx="410.3" cy="564.6" r="2.5" fill="#000"/>
<circle cx="435.6" cy="591.8" r="2.5" fill="#000"/>
<circle cx="448.6" cy="572.9" r="2.5" fill="#000"/>
<circle cx="307.4" cy="635.1" r="2.4" fill="#c6c6c6"/>
<circle cx="333.2" cy="617.2" r="2.4" fill="#c6c6c6"/>
<circle cx="359.0" cy="609.1" r="2.4" fill="#c6c6c6"/>
<circle cx="384.6" cy="600.6" r="2.4" fill="#c6c6c6"/>
<circle cx="410.3" cy="595.4" r="2.4" fill="#c6c6c6"/>
<circle cx="435.6" cy="575.0" r="2.4" fill="#c6c6c6"/>
<circle cx="448.6" cy="566.4" r="2.4" fill="#c6c6c6"/>
<rect x="300.1" y="539.2" width="42.19999999999999" height="25.899999999999977" fill="#fff" stroke="#000" stroke-width="1"/>
<line x1="302.7" y1="547" x2="315.3" y2="547" stroke="#333" stroke-width="1" />
<circle cx="310.3" cy="547" r="2.2" fill="#000"/>
<line x1="302.7" y1="556.6" x2="315.3" y2="556.6" stroke="#b4b4b4" stroke-width="1" stroke-dasharray="3.5 .8"/>
<circle cx="310.3" cy="556.6" r="2.1" fill="#c6c6c6"/>
<text x="320.2" y="549.6" font-size="7.2" font-weight="bold" text-anchor="start" fill="#000" textLength="13.8" lengthAdjust="spacingAndGlyphs" >5mM</text>
<text x="319.0" y="559.2" font-size="7.2" font-weight="bold" text-anchor="start" fill="#000" textLength="17.4" lengthAdjust="spacingAndGlyphs" >30mM</text>
<text transform="translate(277,610) rotate(-90)" font-size="10.2" font-weight="bold" text-anchor="middle" textLength="84" lengthAdjust="spacingAndGlyphs" fill="#000">Grp78/Coomassie</text>
<text x="466.2" y="554" font-size="16.3" font-weight="bold" text-anchor="start" fill="#000" textLength="12.2" lengthAdjust="spacingAndGlyphs" >D</text>
<line x1="89.8" y1="718.5" x2="256.5" y2="718.5" stroke="#555" stroke-width="1" />
<line x1="256.5" y1="718.5" x2="256.5" y2="863.2" stroke="#222" stroke-width="1.1" />
<line x1="89.8" y1="718.0" x2="89.8" y2="863.2" stroke="#000" stroke-width="1.1" />
<line x1="89.8" y1="863.2" x2="257.0" y2="863.2" stroke="#000" stroke-width="1.1" />
<rect x="87.8" y="843.3" width="4" height="11.100000000000023" fill="#fff" />
<line x1="86.39999999999999" y1="846.4" x2="92.8" y2="842.0999999999999" stroke="#000" stroke-width="1" />
<line x1="86.39999999999999" y1="855.5" x2="92.8" y2="851.1999999999999" stroke="#000" stroke-width="1" />
<line x1="86.8" y1="718.6" x2="89.8" y2="718.6" stroke="#000" stroke-width="1" />
<text x="86.5" y="722.2" font-size="10.4" font-weight="bold" text-anchor="end" fill="#000" textLength="18" lengthAdjust="spacingAndGlyphs" >0.06</text>
<line x1="86.8" y1="746.4" x2="89.8" y2="746.4" stroke="#000" stroke-width="1" />
<text x="86.5" y="750.0" font-size="10.4" font-weight="bold" text-anchor="end" fill="#000" textLength="18" lengthAdjust="spacingAndGlyphs" >0.05</text>
<line x1="86.8" y1="774.9" x2="89.8" y2="774.9" stroke="#000" stroke-width="1" />
<text x="86.5" y="778.5" font-size="10.4" font-weight="bold" text-anchor="end" fill="#000" textLength="18" lengthAdjust="spacingAndGlyphs" >0.04</text>
<line x1="86.8" y1="802.6" x2="89.8" y2="802.6" stroke="#000" stroke-width="1" />
<text x="86.5" y="806.2" font-size="10.4" font-weight="bold" text-anchor="end" fill="#000" textLength="18" lengthAdjust="spacingAndGlyphs" >0.03</text>
<line x1="86.8" y1="830.9" x2="89.8" y2="830.9" stroke="#000" stroke-width="1" />
<text x="86.5" y="834.5" font-size="10.4" font-weight="bold" text-anchor="end" fill="#000" textLength="18" lengthAdjust="spacingAndGlyphs" >0.02</text>
<line x1="86.8" y1="863.2" x2="89.8" y2="863.2" stroke="#000" stroke-width="1" />
<text x="86.5" y="866.8000000000001" font-size="10.4" font-weight="bold" text-anchor="end" fill="#000" textLength="18" lengthAdjust="spacingAndGlyphs" >0.00</text>
<line x1="102.9" y1="863.2" x2="102.9" y2="866.2" stroke="#000" stroke-width="1" />
<text transform="translate(101.7,875.8000000000001) rotate(-45)" font-size="10" font-weight="bold" text-anchor="middle" textLength="5.2" lengthAdjust="spacingAndGlyphs" dy="3.3">F</text>
<line x1="128.8" y1="863.2" x2="128.8" y2="866.2" stroke="#000" stroke-width="1" />
<text transform="translate(127.60000000000001,875.8000000000001) rotate(-45)" font-size="10" font-weight="bold" text-anchor="middle" textLength="11.5" lengthAdjust="spacingAndGlyphs" dy="3.3">D2</text>
<line x1="154.5" y1="863.2" x2="154.5" y2="866.2" stroke="#000" stroke-width="1" />
<text transform="translate(153.3,875.8000000000001) rotate(-45)" font-size="10" font-weight="bold" text-anchor="middle" textLength="11.5" lengthAdjust="spacingAndGlyphs" dy="3.3">M1</text>
<line x1="180.3" y1="863.2" x2="180.3" y2="866.2" stroke="#000" stroke-width="1" />
<text transform="translate(179.10000000000002,875.8000000000001) rotate(-45)" font-size="10" font-weight="bold" text-anchor="middle" textLength="11.5" lengthAdjust="spacingAndGlyphs" dy="3.3">M3</text>
<line x1="205.6" y1="863.2" x2="205.6" y2="866.2" stroke="#000" stroke-width="1" />
<text transform="translate(204.4,875.8000000000001) rotate(-45)" font-size="10" font-weight="bold" text-anchor="middle" textLength="11.5" lengthAdjust="spacingAndGlyphs" dy="3.3">M5</text>
<line x1="231.5" y1="863.2" x2="231.5" y2="866.2" stroke="#000" stroke-width="1" />
<text transform="translate(230.3,875.8000000000001) rotate(-45)" font-size="10" font-weight="bold" text-anchor="middle" textLength="11.5" lengthAdjust="spacingAndGlyphs" dy="3.3">M7</text>
<line x1="244.5" y1="863.2" x2="244.5" y2="866.2" stroke="#000" stroke-width="1" />
<text transform="translate(243.3,875.8000000000001) rotate(-45)" font-size="10" font-weight="bold" text-anchor="middle" textLength="11.5" lengthAdjust="spacingAndGlyphs" dy="3.3">M8</text>
<polyline points="102.9,832.2 128.8,820.3 154.5,803.4 180.3,793.0 205.6,768.4 231.5,784.5 244.5,796.4" fill="none" stroke="#333" stroke-width="1"/>
<polyline points="102.9,832.2 128.8,820.3 154.5,807.8 180.3,793.2 205.6,789.1 231.5,801.3 244.5,808.0" fill="none" stroke="#b4b4b4" stroke-width="1" stroke-dasharray="3.5 .8"/>
<circle cx="102.9" cy="832.2" r="2.5" fill="#000"/>
<circle cx="128.8" cy="820.3" r="2.5" fill="#000"/>
<circle cx="154.5" cy="803.4" r="2.5" fill="#000"/>
<circle cx="180.3" cy="793.0" r="2.5" fill="#000"/>
<circle cx="205.6" cy="768.4" r="2.5" fill="#000"/>
<circle cx="231.5" cy="784.5" r="2.5" fill="#000"/>
<circle cx="244.5" cy="796.4" r="2.5" fill="#000"/>
<circle cx="102.9" cy="832.2" r="2.4" fill="#c6c6c6"/>
<circle cx="128.8" cy="820.3" r="2.4" fill="#c6c6c6"/>
<circle cx="154.5" cy="807.8" r="2.4" fill="#c6c6c6"/>
<circle cx="180.3" cy="793.2" r="2.4" fill="#c6c6c6"/>
<circle cx="205.6" cy="789.1" r="2.4" fill="#c6c6c6"/>
<circle cx="231.5" cy="801.3" r="2.4" fill="#c6c6c6"/>
<circle cx="244.5" cy="808.0" r="2.4" fill="#c6c6c6"/>
<rect x="91.2" y="720" width="43.3" height="26.399999999999977" fill="#fff" stroke="#000" stroke-width="1"/>
<line x1="94.3" y1="729" x2="108.8" y2="729" stroke="#333" stroke-width="1" />
<circle cx="101.6" cy="729" r="2.2" fill="#000"/>
<line x1="94.3" y1="738.6" x2="108.8" y2="738.6" stroke="#b4b4b4" stroke-width="1" stroke-dasharray="3.5 .8"/>
<circle cx="101.6" cy="738.6" r="2.1" fill="#c6c6c6"/>
<text x="113.4" y="731.6" font-size="7.2" font-weight="bold" text-anchor="start" fill="#000" textLength="13.8" lengthAdjust="spacingAndGlyphs" >5mM</text>
<text x="112.2" y="741.2" font-size="7.2" font-weight="bold" text-anchor="start" fill="#000" textLength="17.4" lengthAdjust="spacingAndGlyphs" >30mM</text>
<text transform="translate(56.3,782) rotate(-90)" font-size="9.4" font-weight="bold" text-anchor="middle" textLength="72" lengthAdjust="spacingAndGlyphs" fill="#000">p-eIF2&#945;/eIF2&#945;/</text>
<text transform="translate(66.3,781) rotate(-90)" font-size="9.4" font-weight="bold" text-anchor="middle" textLength="55" lengthAdjust="spacingAndGlyphs" fill="#000">Coomassie</text>
<text x="261.8" y="736" font-size="16.3" font-weight="bold" text-anchor="start" fill="#000" textLength="11.3" lengthAdjust="spacingAndGlyphs" >C</text>
<line x1="296.2" y1="718.5" x2="463.6" y2="718.5" stroke="#555" stroke-width="1" />
<line x1="463.6" y1="718.5" x2="463.6" y2="863.2" stroke="#222" stroke-width="1.1" />
<line x1="296.2" y1="718.0" x2="296.2" y2="863.2" stroke="#000" stroke-width="1.1" />
<line x1="296.2" y1="863.2" x2="464.1" y2="863.2" stroke="#000" stroke-width="1.1" />
<rect x="294.2" y="843.3" width="4" height="11.100000000000023" fill="#fff" />
<line x1="292.8" y1="846.4" x2="299.2" y2="842.0999999999999" stroke="#000" stroke-width="1" />
<line x1="292.8" y1="855.5" x2="299.2" y2="851.1999999999999" stroke="#000" stroke-width="1" />
<line x1="293.2" y1="718.6" x2="296.2" y2="718.6" stroke="#000" stroke-width="1" />
<text x="292.3" y="722.2" font-size="10.4" font-weight="bold" text-anchor="end" fill="#000" textLength="5" lengthAdjust="spacingAndGlyphs" >6</text>
<line x1="293.2" y1="746.4" x2="296.2" y2="746.4" stroke="#000" stroke-width="1" />
<text x="292.3" y="750.0" font-size="10.4" font-weight="bold" text-anchor="end" fill="#000" textLength="5" lengthAdjust="spacingAndGlyphs" >5</text>
<line x1="293.2" y1="774.9" x2="296.2" y2="774.9" stroke="#000" stroke-width="1" />
<text x="292.3" y="778.5" font-size="10.4" font-weight="bold" text-anchor="end" fill="#000" textLength="5" lengthAdjust="spacingAndGlyphs" >4</text>
<line x1="293.2" y1="802.6" x2="296.2" y2="802.6" stroke="#000" stroke-width="1" />
<text x="292.3" y="806.2" font-size="10.4" font-weight="bold" text-anchor="end" fill="#000" textLength="5" lengthAdjust="spacingAndGlyphs" >3</text>
<line x1="293.2" y1="830.9" x2="296.2" y2="830.9" stroke="#000" stroke-width="1" />
<text x="292.3" y="834.5" font-size="10.4" font-weight="bold" text-anchor="end" fill="#000" textLength="5" lengthAdjust="spacingAndGlyphs" >2</text>
<line x1="293.2" y1="863.2" x2="296.2" y2="863.2" stroke="#000" stroke-width="1" />
<text x="292.3" y="866.8000000000001" font-size="10.4" font-weight="bold" text-anchor="end" fill="#000" textLength="5" lengthAdjust="spacingAndGlyphs" >0</text>
<line x1="317.5" y1="863.2" x2="317.5" y2="866.2" stroke="#000" stroke-width="1" />
<text transform="translate(316.3,875.8000000000001) rotate(-45)" font-size="10" font-weight="bold" text-anchor="middle" textLength="5.2" lengthAdjust="spacingAndGlyphs" dy="3.3">F</text>
<line x1="338.4" y1="863.2" x2="338.4" y2="866.2" stroke="#000" stroke-width="1" />
<text transform="translate(337.2,875.8000000000001) rotate(-45)" font-size="10" font-weight="bold" text-anchor="middle" textLength="11.5" lengthAdjust="spacingAndGlyphs" dy="3.3">D2</text>
<line x1="359.1" y1="863.2" x2="359.1" y2="866.2" stroke="#000" stroke-width="1" />
<text transform="translate(357.90000000000003,875.8000000000001) rotate(-45)" font-size="10" font-weight="bold" text-anchor="middle" textLength="11.5" lengthAdjust="spacingAndGlyphs" dy="3.3">M1</text>
<line x1="380.3" y1="863.2" x2="380.3" y2="866.2" stroke="#000" stroke-width="1" />
<text transform="translate(379.1,875.8000000000001) rotate(-45)" font-size="10" font-weight="bold" text-anchor="middle" textLength="11.5" lengthAdjust="spacingAndGlyphs" dy="3.3">M3</text>
<line x1="400.7" y1="863.2" x2="400.7" y2="866.2" stroke="#000" stroke-width="1" />
<text transform="translate(399.5,875.8000000000001) rotate(-45)" font-size="10" font-weight="bold" text-anchor="middle" textLength="11.5" lengthAdjust="spacingAndGlyphs" dy="3.3">M5</text>
<line x1="421.4" y1="863.2" x2="421.4" y2="866.2" stroke="#000" stroke-width="1" />
<text transform="translate(420.2,875.8000000000001) rotate(-45)" font-size="10" font-weight="bold" text-anchor="middle" textLength="11.5" lengthAdjust="spacingAndGlyphs" dy="3.3">M7</text>
<line x1="442.1" y1="863.2" x2="442.1" y2="866.2" stroke="#000" stroke-width="1" />
<text transform="translate(440.90000000000003,875.8000000000001) rotate(-45)" font-size="10" font-weight="bold" text-anchor="middle" textLength="11.5" lengthAdjust="spacingAndGlyphs" dy="3.3">M8</text>
<polyline points="317.5,837.1 338.4,828.8 359.1,796.4 380.3,831.4 400.7,835.5 421.4,828.0 442.1,811.4" fill="none" stroke="#333" stroke-width="1"/>
<polyline points="317.5,837.1 338.4,828.8 359.1,812.0 380.3,796.8 400.7,780.6 421.4,763.2 442.1,742.0" fill="none" stroke="#b4b4b4" stroke-width="1" stroke-dasharray="3.5 .8"/>
<circle cx="317.5" cy="837.1" r="2.5" fill="#000"/>
<circle cx="338.4" cy="828.8" r="2.5" fill="#000"/>
<circle cx="359.1" cy="796.4" r="2.5" fill="#000"/>
<circle cx="380.3" cy="831.4" r="2.5" fill="#000"/>
<circle cx="400.7" cy="835.5" r="2.5" fill="#000"/>
<circle cx="421.4" cy="828.0" r="2.5" fill="#000"/>
<circle cx="442.1" cy="811.4" r="2.5" fill="#000"/>
<circle cx="317.5" cy="837.1" r="2.4" fill="#c6c6c6"/>
<circle cx="338.4" cy="828.8" r="2.4" fill="#c6c6c6"/>
<circle cx="359.1" cy="812.0" r="2.4" fill="#c6c6c6"/>
<circle cx="380.3" cy="796.8" r="2.4" fill="#c6c6c6"/>
<circle cx="400.7" cy="780.6" r="2.4" fill="#c6c6c6"/>
<circle cx="421.4" cy="763.2" r="2.4" fill="#c6c6c6"/>
<circle cx="442.1" cy="742.0" r="2.4" fill="#c6c6c6"/>
<rect x="298" y="719.8" width="43" height="26.600000000000023" fill="#fff" stroke="#000" stroke-width="1"/>
<line x1="300.9" y1="729" x2="314.5" y2="729" stroke="#333" stroke-width="1" />
<circle cx="307.9" cy="729" r="2.2" fill="#000"/>
<line x1="300.9" y1="738.6" x2="314.5" y2="738.6" stroke="#b4b4b4" stroke-width="1" stroke-dasharray="3.5 .8"/>
<circle cx="307.9" cy="738.6" r="2.1" fill="#c6c6c6"/>
<text x="319.2" y="731.6" font-size="7.2" font-weight="bold" text-anchor="start" fill="#000" textLength="13.8" lengthAdjust="spacingAndGlyphs" >5mM</text>
<text x="318.0" y="741.2" font-size="7.2" font-weight="bold" text-anchor="start" fill="#000" textLength="17.4" lengthAdjust="spacingAndGlyphs" >30mM</text>
<text transform="translate(284,788) rotate(-90)" font-size="10.2" font-weight="bold" text-anchor="middle" textLength="93" lengthAdjust="spacingAndGlyphs" fill="#000">CHOP/Coomassie</text>
<text x="469.8" y="736" font-size="16.3" font-weight="bold" text-anchor="start" fill="#000" textLength="8.8" lengthAdjust="spacingAndGlyphs" >E</text>
<line x1="42.7" y1="911" x2="160" y2="911" stroke="#777" stroke-width="1" />
<line x1="160" y1="911" x2="160" y2="1029.2" stroke="#777" stroke-width="1" />
<line x1="42.7" y1="910.5" x2="42.7" y2="1029.2" stroke="#000" stroke-width="1" />
<line x1="42.7" y1="1029.2" x2="160.5" y2="1029.2" stroke="#222" stroke-width="1" />
<line x1="39.7" y1="911" x2="42.7" y2="911" stroke="#000" stroke-width="1" />
<text x="37.5" y="913.9" font-size="8.2" font-weight="bold" text-anchor="end" fill="#000" textLength="13.6" lengthAdjust="spacingAndGlyphs" >2.0</text>
<line x1="39.7" y1="940.8" x2="42.7" y2="940.8" stroke="#000" stroke-width="1" />
<text x="37.5" y="943.6999999999999" font-size="8.2" font-weight="bold" text-anchor="end" fill="#000" textLength="13.6" lengthAdjust="spacingAndGlyphs" >1.5</text>
<line x1="39.7" y1="970.5" x2="42.7" y2="970.5" stroke="#000" stroke-width="1" />
<text x="37.5" y="973.4" font-size="8.2" font-weight="bold" text-anchor="end" fill="#000" textLength="13.6" lengthAdjust="spacingAndGlyphs" >1.0</text>
<line x1="39.7" y1="1000" x2="42.7" y2="1000" stroke="#000" stroke-width="1" />
<text x="37.5" y="1002.9" font-size="8.2" font-weight="bold" text-anchor="end" fill="#000" textLength="13.6" lengthAdjust="spacingAndGlyphs" >0.5</text>
<line x1="39.7" y1="1029.2" x2="42.7" y2="1029.2" stroke="#000" stroke-width="1" />
<text x="37.5" y="1032.1000000000001" font-size="8.2" font-weight="bold" text-anchor="end" fill="#000" textLength="13.6" lengthAdjust="spacingAndGlyphs" >0.0</text>
<rect x="71.2" y="970.6" width="23.299999999999997" height="58.60000000000002" fill="#000" />
<line x1="82.85" y1="965.4" x2="82.85" y2="970.6" stroke="#000" stroke-width="1" />
<line x1="81.05" y1="965.4" x2="84.64999999999999" y2="965.4" stroke="#000" stroke-width="1" />
<rect x="110.4" y="939.0" width="22.69999999999999" height="90.20000000000005" fill="#c2c2c2" stroke="#4a4a4a" stroke-width="1"/>
<line x1="121.75" y1="932.2" x2="121.75" y2="938.5" stroke="#555" stroke-width="1" />
<line x1="119.95" y1="932.2" x2="123.55" y2="932.2" stroke="#555" stroke-width="1" />
<rect x="46" y="911.8" width="60" height="24.100000000000023" fill="#fff" stroke="#111" stroke-width="1"/>
<rect x="50.5" y="917" width="19.900000000000006" height="4" fill="#000" />
<rect x="51.0" y="926.3" width="18.900000000000006" height="3.4" fill="#c8c8c8" stroke="#444" stroke-width=".9"/>
<text x="75.8" y="921.9" font-size="8.2" font-weight="bold" text-anchor="start" fill="#000" textLength="20" lengthAdjust="spacingAndGlyphs" >5mM</text>
<text x="75.8" y="930.9" font-size="8.2" font-weight="bold" text-anchor="start" fill="#000" textLength="24.5" lengthAdjust="spacingAndGlyphs" >30mM</text>
<text transform="translate(12,967.4) rotate(-90)" font-size="7.8" font-weight="bold" text-anchor="middle" textLength="54" lengthAdjust="spacingAndGlyphs" dy="2.8">Fold-Change</text>
<text x="90" y="1039.3" font-size="8.2" font-weight="bold" text-anchor="start" fill="#000" textLength="26.5" lengthAdjust="spacingAndGlyphs" >TNF&#945;</text>
<g stroke="#222" stroke-width="1.15" fill="none"><line x1="114.2" y1="920.4" x2="114.2" y2="927.6"/><line x1="111.0" y1="922.1" x2="117.4" y2="925.9"/><line x1="111.0" y1="925.9" x2="117.4" y2="922.1"/></g>
<g stroke="#222" stroke-width="1.15" fill="none"><line x1="122.7" y1="920.4" x2="122.7" y2="927.6"/><line x1="119.5" y1="922.1" x2="125.9" y2="925.9"/><line x1="119.5" y1="925.9" x2="125.9" y2="922.1"/></g>
<g stroke="#222" stroke-width="1.15" fill="none"><line x1="131.2" y1="920.4" x2="131.2" y2="927.6"/><line x1="127.99999999999999" y1="922.1" x2="134.39999999999998" y2="925.9"/><line x1="127.99999999999999" y1="925.9" x2="134.39999999999998" y2="922.1"/></g>
<text x="164.7" y="924" font-size="16.3" font-weight="bold" text-anchor="start" fill="#000" textLength="8" lengthAdjust="spacingAndGlyphs" >F</text>
<line x1="210.2" y1="911" x2="321.6" y2="911" stroke="#777" stroke-width="1" />
<line x1="321.6" y1="911" x2="321.6" y2="1029.5" stroke="#777" stroke-width="1" />
<line x1="210.2" y1="910.5" x2="210.2" y2="1029.5" stroke="#000" stroke-width="1" />
<line x1="210.2" y1="1029.5" x2="322.1" y2="1029.5" stroke="#222" stroke-width="1" />
<line x1="207.2" y1="911" x2="210.2" y2="911" stroke="#000" stroke-width="1" />
<text x="205.0" y="913.9" font-size="8.2" font-weight="bold" text-anchor="end" fill="#000" textLength="13.6" lengthAdjust="spacingAndGlyphs" >2.0</text>
<line x1="207.2" y1="940.8" x2="210.2" y2="940.8" stroke="#000" stroke-width="1" />
<text x="205.0" y="943.6999999999999" font-size="8.2" font-weight="bold" text-anchor="end" fill="#000" textLength="13.6" lengthAdjust="spacingAndGlyphs" >1.5</text>
<line x1="207.2" y1="970.5" x2="210.2" y2="970.5" stroke="#000" stroke-width="1" />
<text x="205.0" y="973.4" font-size="8.2" font-weight="bold" text-anchor="end" fill="#000" textLength="13.6" lengthAdjust="spacingAndGlyphs" >1.0</text>
<line x1="207.2" y1="1000.2" x2="210.2" y2="1000.2" stroke="#000" stroke-width="1" />
<text x="205.0" y="1003.1" font-size="8.2" font-weight="bold" text-anchor="end" fill="#000" textLength="13.6" lengthAdjust="spacingAndGlyphs" >0.5</text>
<line x1="207.2" y1="1029.5" x2="210.2" y2="1029.5" stroke="#000" stroke-width="1" />
<text x="205.0" y="1032.4" font-size="8.2" font-weight="bold" text-anchor="end" fill="#000" textLength="13.6" lengthAdjust="spacingAndGlyphs" >0.0</text>
<rect x="237.5" y="970.6" width="23.30000000000001" height="58.89999999999998" fill="#000" />
<line x1="249.15" y1="965.4" x2="249.15" y2="970.6" stroke="#000" stroke-width="1" />
<line x1="247.35" y1="965.4" x2="250.95000000000002" y2="965.4" stroke="#000" stroke-width="1" />
<rect x="276.8" y="952.4" width="22.30000000000001" height="77.10000000000002" fill="#c2c2c2" stroke="#4a4a4a" stroke-width="1"/>
<line x1="287.95000000000005" y1="946.2" x2="287.95000000000005" y2="951.9" stroke="#555" stroke-width="1" />
<line x1="286.15000000000003" y1="946.2" x2="289.75000000000006" y2="946.2" stroke="#555" stroke-width="1" />
<rect x="211.6" y="912.6" width="59.599999999999994" height="23.299999999999955" fill="#fff" stroke="#111" stroke-width="1"/>
<rect x="216" y="917.6" width="19.69999999999999" height="4" fill="#000" />
<rect x="216.5" y="926.9" width="18.69999999999999" height="3.4" fill="#c8c8c8" stroke="#444" stroke-width=".9"/>
<text x="241.4" y="922.5" font-size="8.2" font-weight="bold" text-anchor="start" fill="#000" textLength="20" lengthAdjust="spacingAndGlyphs" >5mM</text>
<text x="241.4" y="931.5" font-size="8.2" font-weight="bold" text-anchor="start" fill="#000" textLength="24.5" lengthAdjust="spacingAndGlyphs" >30mM</text>
<text transform="translate(177.5,969.8) rotate(-90)" font-size="7.8" font-weight="bold" text-anchor="middle" textLength="54" lengthAdjust="spacingAndGlyphs" dy="2.8">Fold-Change</text>
<text x="255.6" y="1039.2" font-size="8.2" font-weight="bold" text-anchor="start" fill="#000" textLength="19.8" lengthAdjust="spacingAndGlyphs" >VEGF</text>
<g stroke="#222" stroke-width="1.15" fill="none"><line x1="283.2" y1="936.1999999999999" x2="283.2" y2="943.4"/><line x1="280.0" y1="937.9" x2="286.4" y2="941.6999999999999"/><line x1="280.0" y1="941.6999999999999" x2="286.4" y2="937.9"/></g>
<g stroke="#222" stroke-width="1.15" fill="none"><line x1="291.7" y1="936.1999999999999" x2="291.7" y2="943.4"/><line x1="288.5" y1="937.9" x2="294.9" y2="941.6999999999999"/><line x1="288.5" y1="941.6999999999999" x2="294.9" y2="937.9"/></g>
<text x="330.7" y="924.6" font-size="16.3" font-weight="bold" text-anchor="start" fill="#000" textLength="12.6" lengthAdjust="spacingAndGlyphs" >G</text>
<line x1="386.8" y1="913" x2="503.7" y2="913" stroke="#777" stroke-width="1" />
<line x1="503.7" y1="913" x2="503.7" y2="1031" stroke="#777" stroke-width="1" />
<line x1="386.8" y1="912.5" x2="386.8" y2="1031" stroke="#000" stroke-width="1" />
<line x1="386.8" y1="1031" x2="504.2" y2="1031" stroke="#222" stroke-width="1" />
<line x1="383.8" y1="913.1" x2="386.8" y2="913.1" stroke="#000" stroke-width="1" />
<text x="381.6" y="916.0" font-size="8.2" font-weight="bold" text-anchor="end" fill="#000" textLength="13.6" lengthAdjust="spacingAndGlyphs" >2.5</text>
<line x1="383.8" y1="936.5" x2="386.8" y2="936.5" stroke="#000" stroke-width="1" />
<text x="381.6" y="939.4" font-size="8.2" font-weight="bold" text-anchor="end" fill="#000" textLength="13.6" lengthAdjust="spacingAndGlyphs" >2.0</text>
<line x1="383.8" y1="960.2" x2="386.8" y2="960.2" stroke="#000" stroke-width="1" />
<text x="381.6" y="963.1" font-size="8.2" font-weight="bold" text-anchor="end" fill="#000" textLength="13.6" lengthAdjust="spacingAndGlyphs" >1.5</text>
<line x1="383.8" y1="984.1" x2="386.8" y2="984.1" stroke="#000" stroke-width="1" />
<text x="381.6" y="987.0" font-size="8.2" font-weight="bold" text-anchor="end" fill="#000" textLength="13.6" lengthAdjust="spacingAndGlyphs" >1.0</text>
<line x1="383.8" y1="1007.6" x2="386.8" y2="1007.6" stroke="#000" stroke-width="1" />
<text x="381.6" y="1010.5" font-size="8.2" font-weight="bold" text-anchor="end" fill="#000" textLength="13.6" lengthAdjust="spacingAndGlyphs" >0.5</text>
<line x1="383.8" y1="1031" x2="386.8" y2="1031" stroke="#000" stroke-width="1" />
<text x="381.6" y="1033.9" font-size="8.2" font-weight="bold" text-anchor="end" fill="#000" textLength="13.6" lengthAdjust="spacingAndGlyphs" >0.0</text>
<rect x="413.8" y="984.3" width="23.399999999999977" height="46.700000000000045" fill="#000" />
<line x1="425.5" y1="978.3" x2="425.5" y2="984.3" stroke="#000" stroke-width="1" />
<line x1="423.7" y1="978.3" x2="427.3" y2="978.3" stroke="#000" stroke-width="1" />
<rect x="453.8" y="949.8" width="22.30000000000001" height="81.20000000000005" fill="#c2c2c2" stroke="#4a4a4a" stroke-width="1"/>
<line x1="464.95000000000005" y1="939" x2="464.95000000000005" y2="949.3" stroke="#555" stroke-width="1" />
<line x1="463.15000000000003" y1="939" x2="466.75000000000006" y2="939" stroke="#555" stroke-width="1" />
<rect x="388.6" y="914.9" width="59.5" height="22.800000000000068" fill="#fff" stroke="#111" stroke-width="1"/>
<rect x="393" y="918.9" width="19.399999999999977" height="4" fill="#000" />
<rect x="393.5" y="928.1999999999999" width="18.399999999999977" height="3.4" fill="#c8c8c8" stroke="#444" stroke-width=".9"/>
<text x="417.8" y="923.8" font-size="8.2" font-weight="bold" text-anchor="start" fill="#000" textLength="20" lengthAdjust="spacingAndGlyphs" >5mM</text>
<text x="417.8" y="932.8" font-size="8.2" font-weight="bold" text-anchor="start" fill="#000" textLength="24.5" lengthAdjust="spacingAndGlyphs" >30mM</text>
<text transform="translate(353.8,971.5) rotate(-90)" font-size="7.8" font-weight="bold" text-anchor="middle" textLength="54" lengthAdjust="spacingAndGlyphs" dy="2.8">Fold-Change</text>
<text x="429.5" y="1040.6" font-size="8.2" font-weight="bold" text-anchor="start" fill="#000" textLength="23.3" lengthAdjust="spacingAndGlyphs" >MCP-1</text>
<g stroke="#222" stroke-width="1.15" fill="none"><line x1="456.3" y1="928.4" x2="456.3" y2="935.6"/><line x1="453.1" y1="930.1" x2="459.5" y2="933.9"/><line x1="453.1" y1="933.9" x2="459.5" y2="930.1"/></g>
<g stroke="#222" stroke-width="1.15" fill="none"><line x1="465.1" y1="928.4" x2="465.1" y2="935.6"/><line x1="461.90000000000003" y1="930.1" x2="468.3" y2="933.9"/><line x1="461.90000000000003" y1="933.9" x2="468.3" y2="930.1"/></g>
<g stroke="#222" stroke-width="1.15" fill="none"><line x1="473.90000000000003" y1="928.4" x2="473.90000000000003" y2="935.6"/><line x1="470.70000000000005" y1="930.1" x2="477.1" y2="933.9"/><line x1="470.70000000000005" y1="933.9" x2="477.1" y2="930.1"/></g>
<text x="507.1" y="927.3" font-size="16.3" font-weight="bold" text-anchor="start" fill="#000" textLength="11.7" lengthAdjust="spacingAndGlyphs" >H</text>
</svg>
</body></html>
